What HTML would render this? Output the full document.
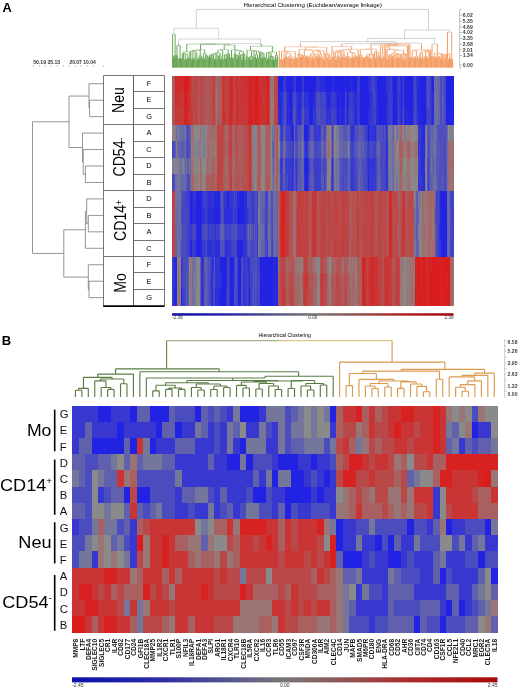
<!DOCTYPE html><html><head><meta charset="utf-8"><style>
html,body{margin:0;padding:0;background:#fff;width:520px;height:689px;overflow:hidden}
svg{position:absolute;left:0;top:0;display:block;filter:blur(0.3px)}
text{font-family:"Liberation Sans",sans-serif}
#ha rect{height:16.76px}
</style></head><body>
<svg width="520" height="689" viewBox="0 0 520 689">
<defs><filter id="bl" x="0" y="0" width="1" height="1"><feGaussianBlur stdDeviation="0.65 0.25"/></filter><filter id="bl2" x="0" y="0" width="1" height="1"><feGaussianBlur stdDeviation="0.6"/></filter><linearGradient id="cb" x1="0" x2="1" y1="0" y2="0"><stop offset="0" stop-color="#0e0eaa"/><stop offset="0.2" stop-color="#2a2aa8"/><stop offset="0.5" stop-color="#777777"/><stop offset="0.8" stop-color="#ac2a2a"/><stop offset="1" stop-color="#a80808"/></linearGradient></defs>
<text x="2.4" y="12.1" font-size="12.8" font-weight="bold" fill="#000">A</text>
<text x="1.8" y="344.7" font-size="13" font-weight="bold" fill="#000">B</text>
<text x="243.6" y="7.1" font-size="6.1" fill="#000" textLength="138.4" lengthAdjust="spacingAndGlyphs">Hierarchical Clustering (Euclidean/average linkage)</text>
<path d="M196.3 28.3V9.4H428.5 V30" stroke="#bbb" stroke-width="0.7" fill="none"/>
<path d="M200.93 44V43.6M261.4 44V43.6M200.93 43.6H261.4M178.53 44V39M260.5 43.6V39M178.53 39H260.5M173.85 34.4V28.3M218.7 39V28.3M173.85 28.3H218.7M341.87 44V43.64M397.33 44V43.64M341.87 43.64H397.33M369.6 43.64V43.14M421.61 44V43.14M369.6 43.14H421.61M300.42 44V41.5M395.61 43.14V41.5M300.42 41.5H395.61M432.04 44H437.36M367.7 41.5V38.5M434.7 44V38.5M367.7 38.5H434.7M404.6 38.5V30M449.58 32.3V30M404.6 30H449.58" stroke="#b8b8b8" stroke-width="0.6" fill="none"/>
<path d="M173.4 57.43H174.2M173.8 55.92H175M174.4 55.42H175.8M177.15 59.57H178M176.3 55.68H177.57M178.85 58.69H179.7M180.55 58.9H181.4M179.27 58.19H180.97M176.94 45.5H180.12M183.15 59.12H184M184.85 59.53H185.7M186.55 59.59H187.4M188.25 58.25H189.1M186.97 57.75H188.67M185.27 54.34H187.82M183.57 53.84H186.55M182.3 53.34H185.06M183.68 51.79H189.95M191.65 59.8H192.5M193.35 59H194.2M192.07 58.5H193.77M196.75 60.29H197.6M197.17 58.99H198.45M195.9 57.69H197.81M195.05 53.39H196.86M192.92 51.38H195.95M190.8 50.88H194.44M200.15 58.7H201M200.57 56.65H201.85M199.3 55.64H201.21M192.62 50.38H200.26M203.55 59.18H204.4M202.7 58.18H203.97M206.95 59.56H207.8M206.1 55.79H207.37M205.25 55.29H206.74M203.34 53.59H205.99M196.44 49.88H204.67M209.5 57.35H210.35M208.65 56.85H209.92M209.29 55.43H211.2M210.24 54.93H212.05M213.75 59.13H214.6M212.9 58.63H214.17M211.15 54.43H213.54M215.45 60.11H216.3M212.34 53.93H215.87M214.11 53.43H217.15M218 59.03H218.85M218.42 56.22H219.7M220.55 59.27H221.4M219.06 55.37H220.97M215.63 52.93H220.02M222.25 59.97H223.1M217.82 50.22H222.67M223.95 58.88H224.8M225.65 59.11H226.5M226.07 55.42H227.35M224.37 54.92H226.71M225.54 54.42H228.2M229.05 57.74H229.9M226.87 53.92H229.47M220.25 49.72H228.17M232.45 59.24H233.3M231.6 57.9H232.87M230.75 57.4H232.24M236.7 58.78H237.55M237.12 55.75H238.4M235.85 55.25H237.76M235 54.75H236.81M234.15 54.25H235.9M240.1 57.62H240.95M241.8 59.52H242.65M240.52 54.9H242.22M241.37 54.4H243.5M244.35 60.11H245.2M242.44 53.9H244.77M239.25 51.48H243.61M235.03 50.46H241.43M231.49 49.96H238.23M224.21 45.1H234.86M200.55 44.6H229.54M186.82 44.1H215.04M248 59.33H248.85M247.15 57.48H248.43M246.3 56.98H247.79M250.55 60.02H251.4M249.7 56.64H250.97M252.25 58.63H253.1M250.34 56.05H252.67M254.8 57.22H255.65M256.5 58.62H257.35M256.92 58.12H258.2M255.22 54.68H257.56M259.05 57.47H259.9M261.6 58.54H262.45M264.15 58.22H265M263.3 57.16H264.57M262.02 53.27H263.94M260.75 52.77H262.98M259.47 52.27H261.87M256.39 51.77H260.67M253.95 51.27H258.53M251.51 50.77H256.24M247.04 50.27H253.87M266.7 59.77H267.55M265.85 57.46H267.12M268.4 58.98H269.25M271.8 60.27H272.65M273.5 59.6H274.35M272.22 57.02H273.92M270.95 56.52H273.07M270.1 56.02H272.01M268.82 53.06H271.06M266.49 52.56H269.94M275.2 59.76H276.05M276.9 57.6H277.75M275.62 55.19H277.32M268.21 52.06H276.47M250.46 46.2H272.34M172.6 34.4H175.1" stroke="#43902a" stroke-width="0.6" stroke-opacity="0.6" fill="none"/>
<path d="M280.25 60.1H281.1M281.95 60.15H282.8M280.68 59.06H282.38M283.65 58.77H284.5M286.2 57.28H287.05M285.35 56.78H286.63M284.08 54.08H285.99M288.75 58.95H289.6M289.18 57.74H290.45M287.9 57.24H289.81M292.15 59.32H293M291.3 58.82H292.58M288.86 56.23H291.94M285.03 53.58H290.4M281.53 52.12H287.71M293.85 58.82H294.7M296.4 58.85H297.25M295.55 58.35H296.83M294.28 57.17H296.19M284.62 51.62H295.23M279.4 51.12H289.93M299.8 57.69H300.65M300.23 57.19H301.5M300.86 55.03H302.35M298.95 54.53H301.61M298.1 54.03H300.28M304.9 57.71H305.75M305.33 57.21H306.6M305.96 56.71H307.45M304.05 56.21H306.71M303.2 55.71H305.38M308.3 57.28H309.15M310 60.18H310.85M308.73 56.78H310.43M311.7 58.21H312.55M309.58 55.8H312.13M313.4 59.22H314.25M315.95 57.14H316.8M315.1 56.64H316.38M313.83 53.99H315.74M310.85 53.49H314.78M317.65 57.45H318.5M320.2 57.42H321.05M321.9 58.39H322.75M320.63 56.85H322.33M319.35 54.71H321.48M318.08 51.54H320.41M312.82 51.04H319.24M323.6 59.95H324.45M316.03 50.54H324.03M304.29 50.04H320.03M299.19 49.54H312.16M327 59.17H327.85M326.15 57.76H327.43M329.55 60.03H330.4M328.7 55.67H329.98M326.79 54.05H329.34M325.3 53.55H328.06M305.67 47.29H326.68M284.66 46.79H316.18M332.15 57.83H333M331.3 57.19H332.58M335.55 59.97H336.4M334.7 56.75H335.98M338.1 57.97H338.95M337.25 55.95H338.53M335.34 52.4H337.89M339.8 57.8H340.65M336.61 51.9H340.23M341.5 57.3H342.35M338.42 51.4H341.93M333.85 50.9H340.17M344.9 58.04H345.75M344.05 57.54H345.33M343.2 55.5H344.69M337.01 50.4H343.94M348.3 59.38H349.15M350 58.47H350.85M348.73 57.97H350.43M347.45 56.71H349.58M346.6 56.21H348.51M351.7 57.99H352.55M353.4 57.79H354.25M355.1 57.12H355.95M355.53 56.62H356.8M353.83 56.12H356.16M352.13 53.04H354.99M347.56 52.54H353.56M340.48 49.9H350.56M357.65 57.16H358.5M345.52 49.4H358.08M331.94 46.52H351.8M361.9 59.72H362.75M363.6 58.17H364.45M362.33 57.67H364.03M361.05 57.17H363.18M360.2 55.35H362.11M359.35 54.85H361.16M366.15 57.47H367M365.3 56.97H366.58M365.94 56.47H367.85M369.55 58.21H370.4M368.7 57.25H369.98M371.25 59.12H372.1M371.68 58.62H372.95M369.34 54.83H372.31M366.89 54.33H370.83M368.86 53.83H373.8M360.25 49.47H371.33M375.5 58.51H376.35M375.93 56.85H377.2M378.9 57.61H379.75M378.05 55.6H379.33M376.56 52.48H378.69M374.65 51.98H377.63M365.79 48.97H376.14M381.45 59.28H382.3M383.15 57.42H384M381.88 56.92H383.58M386.55 59.98H387.4M389.1 58.62H389.95M388.25 55.42H389.53M390.8 57.22H391.65M388.89 54.92H391.23M393.35 59.77H394.2M392.5 56.18H393.78M393.14 55.68H395.05M390.06 54.42H394.09M396.75 57.97H397.6M398.45 57.47H399.3M400.15 58.11H401M398.88 54.66H400.58M397.18 54.16H399.73M395.9 53.66H398.45M392.08 53.16H397.18M403.55 59.87H404.4M402.7 57.68H403.98M403.34 54.44H405.25M404.29 53.94H406.1M401.85 53.44H405.2M394.63 50.24H403.52M386.98 49.74H399.07M385.7 49.24H393.02M384.85 47.14H389.36M382.73 46.64H387.11M406.95 59.47H407.8M384.92 46.14H407.38M380.6 45.64H396.15M388.37 45.14H408.65M370.96 44.64H398.51M409.5 57.56H410.35M384.74 44.14H409.93M411.2 57.74H412.05M411.63 57.24H412.9M413.75 58.56H414.6M415.45 57.55H416.3M414.18 57.05H415.88M417.15 59.64H418M415.03 56.55H417.58M412.26 50.54H416.3M418.85 57.9H419.7M420.55 58.3H421.4M419.28 55.29H420.98M422.25 59.42H423.1M420.13 52.9H422.68M423.95 57.43H424.8M425.65 57.55H426.5M427.35 58.86H428.2M426.08 57.05H427.78M424.38 56.55H426.93M425.65 51.77H429.05M421.4 51.27H427.35M424.38 50.77H429.9M427.14 50.27H430.75M414.28 49.77H428.94M433 57.49H433.85M432.15 56.99H433.43M431.3 56.49H432.79M435.55 57.79H436.4M438.1 58.72H438.95M437.25 57.16H438.53M437.89 56.66H439.8M435.98 56.16H438.84M440.65 58.83H441.5M443.2 60.28H444.05M442.35 55.41H443.63M444.9 58.3H445.75M442.99 54.76H445.33M441.08 54.26H444.16M437.41 53.72H442.62M434.7 53.22H440.01M447.1 58.56H447.9M448.7 59.46H449.5M449.1 57.99H450.3M447.5 54.05H449.7M446.3 53.55H448.6M451.9 59.68H452.7M451.1 59.14H452.3M447.45 32.3H451.7" stroke="#f0843e" stroke-width="0.6" stroke-opacity="0.6" fill="none"/>
<path d="M173.4 67.6V57.43M174.2 67.6V57.43M173.8 57.43V55.92M175 67.6V55.92M174.4 55.92V55.42M175.8 67.6V55.42M172.6 67.6V44M175.1 55.42V44M177.15 67.6V59.57M178 67.6V59.57M176.3 67.6V55.68M177.57 59.57V55.68M178.85 67.6V58.69M179.7 67.6V58.69M180.55 67.6V58.9M181.4 67.6V58.9M179.27 58.69V58.19M180.97 58.9V58.19M176.94 55.68V45.5M180.12 58.19V45.5M183.15 67.6V59.12M184 67.6V59.12M184.85 67.6V59.53M185.7 67.6V59.53M186.55 67.6V59.59M187.4 67.6V59.59M188.25 67.6V58.25M189.1 67.6V58.25M186.97 59.59V57.75M188.67 58.25V57.75M185.27 59.53V54.34M187.82 57.75V54.34M183.57 59.12V53.84M186.55 54.34V53.84M182.3 67.6V53.34M185.06 53.84V53.34M183.68 53.34V51.79M189.95 67.6V51.79M191.65 67.6V59.8M192.5 67.6V59.8M193.35 67.6V59M194.2 67.6V59M192.07 59.8V58.5M193.77 59V58.5M196.75 67.6V60.29M197.6 67.6V60.29M197.17 60.29V58.99M198.45 67.6V58.99M195.9 67.6V57.69M197.81 58.99V57.69M195.05 67.6V53.39M196.86 57.69V53.39M192.92 58.5V51.38M195.95 53.39V51.38M190.8 67.6V50.88M194.44 51.38V50.88M200.15 67.6V58.7M201 67.6V58.7M200.57 58.7V56.65M201.85 67.6V56.65M199.3 67.6V55.64M201.21 56.65V55.64M192.62 50.88V50.38M200.26 55.64V50.38M203.55 67.6V59.18M204.4 67.6V59.18M202.7 67.6V58.18M203.97 59.18V58.18M206.95 67.6V59.56M207.8 67.6V59.56M206.1 67.6V55.79M207.37 59.56V55.79M205.25 67.6V55.29M206.74 55.79V55.29M203.34 58.18V53.59M205.99 55.29V53.59M196.44 50.38V49.88M204.67 53.59V49.88M209.5 67.6V57.35M210.35 67.6V57.35M208.65 67.6V56.85M209.92 57.35V56.85M209.29 56.85V55.43M211.2 67.6V55.43M210.24 55.43V54.93M212.05 67.6V54.93M213.75 67.6V59.13M214.6 67.6V59.13M212.9 67.6V58.63M214.17 59.13V58.63M211.15 54.93V54.43M213.54 58.63V54.43M215.45 67.6V60.11M216.3 67.6V60.11M212.34 54.43V53.93M215.87 60.11V53.93M214.11 53.93V53.43M217.15 67.6V53.43M218 67.6V59.03M218.85 67.6V59.03M218.42 59.03V56.22M219.7 67.6V56.22M220.55 67.6V59.27M221.4 67.6V59.27M219.06 56.22V55.37M220.97 59.27V55.37M215.63 53.43V52.93M220.02 55.37V52.93M222.25 67.6V59.97M223.1 67.6V59.97M217.82 52.93V50.22M222.67 59.97V50.22M223.95 67.6V58.88M224.8 67.6V58.88M225.65 67.6V59.11M226.5 67.6V59.11M226.07 59.11V55.42M227.35 67.6V55.42M224.37 58.88V54.92M226.71 55.42V54.92M225.54 54.92V54.42M228.2 67.6V54.42M229.05 67.6V57.74M229.9 67.6V57.74M226.87 54.42V53.92M229.47 57.74V53.92M220.25 50.22V49.72M228.17 53.92V49.72M232.45 67.6V59.24M233.3 67.6V59.24M231.6 67.6V57.9M232.87 59.24V57.9M230.75 67.6V57.4M232.24 57.9V57.4M236.7 67.6V58.78M237.55 67.6V58.78M237.12 58.78V55.75M238.4 67.6V55.75M235.85 67.6V55.25M237.76 55.75V55.25M235 67.6V54.75M236.81 55.25V54.75M234.15 67.6V54.25M235.9 54.75V54.25M240.1 67.6V57.62M240.95 67.6V57.62M241.8 67.6V59.52M242.65 67.6V59.52M240.52 57.62V54.9M242.22 59.52V54.9M241.37 54.9V54.4M243.5 67.6V54.4M244.35 67.6V60.11M245.2 67.6V60.11M242.44 54.4V53.9M244.77 60.11V53.9M239.25 67.6V51.48M243.61 53.9V51.48M235.03 54.25V50.46M241.43 51.48V50.46M231.49 57.4V49.96M238.23 50.46V49.96M224.21 49.72V45.1M234.86 49.96V45.1M200.55 49.88V44.6M229.54 45.1V44.6M186.82 51.79V44.1M215.04 44.6V44.1M248 67.6V59.33M248.85 67.6V59.33M247.15 67.6V57.48M248.43 59.33V57.48M246.3 67.6V56.98M247.79 57.48V56.98M250.55 67.6V60.02M251.4 67.6V60.02M249.7 67.6V56.64M250.97 60.02V56.64M252.25 67.6V58.63M253.1 67.6V58.63M250.34 56.64V56.05M252.67 58.63V56.05M254.8 67.6V57.22M255.65 67.6V57.22M256.5 67.6V58.62M257.35 67.6V58.62M256.92 58.62V58.12M258.2 67.6V58.12M255.22 57.22V54.68M257.56 58.12V54.68M259.05 67.6V57.47M259.9 67.6V57.47M261.6 67.6V58.54M262.45 67.6V58.54M264.15 67.6V58.22M265 67.6V58.22M263.3 67.6V57.16M264.57 58.22V57.16M262.02 58.54V53.27M263.94 57.16V53.27M260.75 67.6V52.77M262.98 53.27V52.77M259.47 57.47V52.27M261.87 52.77V52.27M256.39 54.68V51.77M260.67 52.27V51.77M253.95 67.6V51.27M258.53 51.77V51.27M251.51 56.05V50.77M256.24 51.27V50.77M247.04 56.98V50.27M253.87 50.77V50.27M266.7 67.6V59.77M267.55 67.6V59.77M265.85 67.6V57.46M267.12 59.77V57.46M268.4 67.6V58.98M269.25 67.6V58.98M271.8 67.6V60.27M272.65 67.6V60.27M273.5 67.6V59.6M274.35 67.6V59.6M272.22 60.27V57.02M273.92 59.6V57.02M270.95 67.6V56.52M273.07 57.02V56.52M270.1 67.6V56.02M272.01 56.52V56.02M268.82 58.98V53.06M271.06 56.02V53.06M266.49 57.46V52.56M269.94 53.06V52.56M275.2 67.6V59.76M276.05 67.6V59.76M276.9 67.6V57.6M277.75 67.6V57.6M275.62 59.76V55.19M277.32 57.6V55.19M268.21 52.56V52.06M276.47 55.19V52.06M250.46 50.27V46.2M272.34 52.06V46.2M200.93 44.1V44M261.4 46.2V44M178.53 45.5V44M172.6 44V34.4M175.1 44V34.4" stroke="#43902a" stroke-width="0.8" fill="none"/>
<path d="M280.25 67.6V60.1M281.1 67.6V60.1M281.95 67.6V60.15M282.8 67.6V60.15M280.68 60.1V59.06M282.38 60.15V59.06M283.65 67.6V58.77M284.5 67.6V58.77M286.2 67.6V57.28M287.05 67.6V57.28M285.35 67.6V56.78M286.63 57.28V56.78M284.08 58.77V54.08M285.99 56.78V54.08M288.75 67.6V58.95M289.6 67.6V58.95M289.18 58.95V57.74M290.45 67.6V57.74M287.9 67.6V57.24M289.81 57.74V57.24M292.15 67.6V59.32M293 67.6V59.32M291.3 67.6V58.82M292.58 59.32V58.82M288.86 57.24V56.23M291.94 58.82V56.23M285.03 54.08V53.58M290.4 56.23V53.58M281.53 59.06V52.12M287.71 53.58V52.12M293.85 67.6V58.82M294.7 67.6V58.82M296.4 67.6V58.85M297.25 67.6V58.85M295.55 67.6V58.35M296.83 58.85V58.35M294.28 58.82V57.17M296.19 58.35V57.17M284.62 52.12V51.62M295.23 57.17V51.62M279.4 67.6V51.12M289.93 51.62V51.12M299.8 67.6V57.69M300.65 67.6V57.69M300.23 57.69V57.19M301.5 67.6V57.19M300.86 57.19V55.03M302.35 67.6V55.03M298.95 67.6V54.53M301.61 55.03V54.53M298.1 67.6V54.03M300.28 54.53V54.03M304.9 67.6V57.71M305.75 67.6V57.71M305.33 57.71V57.21M306.6 67.6V57.21M305.96 57.21V56.71M307.45 67.6V56.71M304.05 67.6V56.21M306.71 56.71V56.21M303.2 67.6V55.71M305.38 56.21V55.71M308.3 67.6V57.28M309.15 67.6V57.28M310 67.6V60.18M310.85 67.6V60.18M308.73 57.28V56.78M310.43 60.18V56.78M311.7 67.6V58.21M312.55 67.6V58.21M309.58 56.78V55.8M312.13 58.21V55.8M313.4 67.6V59.22M314.25 67.6V59.22M315.95 67.6V57.14M316.8 67.6V57.14M315.1 67.6V56.64M316.38 57.14V56.64M313.83 59.22V53.99M315.74 56.64V53.99M310.85 55.8V53.49M314.78 53.99V53.49M317.65 67.6V57.45M318.5 67.6V57.45M320.2 67.6V57.42M321.05 67.6V57.42M321.9 67.6V58.39M322.75 67.6V58.39M320.63 57.42V56.85M322.33 58.39V56.85M319.35 67.6V54.71M321.48 56.85V54.71M318.08 57.45V51.54M320.41 54.71V51.54M312.82 53.49V51.04M319.24 51.54V51.04M323.6 67.6V59.95M324.45 67.6V59.95M316.03 51.04V50.54M324.03 59.95V50.54M304.29 55.71V50.04M320.03 50.54V50.04M299.19 54.03V49.54M312.16 50.04V49.54M327 67.6V59.17M327.85 67.6V59.17M326.15 67.6V57.76M327.43 59.17V57.76M329.55 67.6V60.03M330.4 67.6V60.03M328.7 67.6V55.67M329.98 60.03V55.67M326.79 57.76V54.05M329.34 55.67V54.05M325.3 67.6V53.55M328.06 54.05V53.55M305.67 49.54V47.29M326.68 53.55V47.29M284.66 51.12V46.79M316.18 47.29V46.79M332.15 67.6V57.83M333 67.6V57.83M331.3 67.6V57.19M332.58 57.83V57.19M335.55 67.6V59.97M336.4 67.6V59.97M334.7 67.6V56.75M335.98 59.97V56.75M338.1 67.6V57.97M338.95 67.6V57.97M337.25 67.6V55.95M338.53 57.97V55.95M335.34 56.75V52.4M337.89 55.95V52.4M339.8 67.6V57.8M340.65 67.6V57.8M336.61 52.4V51.9M340.23 57.8V51.9M341.5 67.6V57.3M342.35 67.6V57.3M338.42 51.9V51.4M341.93 57.3V51.4M333.85 67.6V50.9M340.17 51.4V50.9M344.9 67.6V58.04M345.75 67.6V58.04M344.05 67.6V57.54M345.33 58.04V57.54M343.2 67.6V55.5M344.69 57.54V55.5M337.01 50.9V50.4M343.94 55.5V50.4M348.3 67.6V59.38M349.15 67.6V59.38M350 67.6V58.47M350.85 67.6V58.47M348.73 59.38V57.97M350.43 58.47V57.97M347.45 67.6V56.71M349.58 57.97V56.71M346.6 67.6V56.21M348.51 56.71V56.21M351.7 67.6V57.99M352.55 67.6V57.99M353.4 67.6V57.79M354.25 67.6V57.79M355.1 67.6V57.12M355.95 67.6V57.12M355.53 57.12V56.62M356.8 67.6V56.62M353.83 57.79V56.12M356.16 56.62V56.12M352.13 57.99V53.04M354.99 56.12V53.04M347.56 56.21V52.54M353.56 53.04V52.54M340.48 50.4V49.9M350.56 52.54V49.9M357.65 67.6V57.16M358.5 67.6V57.16M345.52 49.9V49.4M358.08 57.16V49.4M331.94 57.19V46.52M351.8 49.4V46.52M361.9 67.6V59.72M362.75 67.6V59.72M363.6 67.6V58.17M364.45 67.6V58.17M362.33 59.72V57.67M364.03 58.17V57.67M361.05 67.6V57.17M363.18 57.67V57.17M360.2 67.6V55.35M362.11 57.17V55.35M359.35 67.6V54.85M361.16 55.35V54.85M366.15 67.6V57.47M367 67.6V57.47M365.3 67.6V56.97M366.58 57.47V56.97M365.94 56.97V56.47M367.85 67.6V56.47M369.55 67.6V58.21M370.4 67.6V58.21M368.7 67.6V57.25M369.98 58.21V57.25M371.25 67.6V59.12M372.1 67.6V59.12M371.68 59.12V58.62M372.95 67.6V58.62M369.34 57.25V54.83M372.31 58.62V54.83M366.89 56.47V54.33M370.83 54.83V54.33M368.86 54.33V53.83M373.8 67.6V53.83M360.25 54.85V49.47M371.33 53.83V49.47M375.5 67.6V58.51M376.35 67.6V58.51M375.93 58.51V56.85M377.2 67.6V56.85M378.9 67.6V57.61M379.75 67.6V57.61M378.05 67.6V55.6M379.33 57.61V55.6M376.56 56.85V52.48M378.69 55.6V52.48M374.65 67.6V51.98M377.63 52.48V51.98M365.79 49.47V48.97M376.14 51.98V48.97M381.45 67.6V59.28M382.3 67.6V59.28M383.15 67.6V57.42M384 67.6V57.42M381.88 59.28V56.92M383.58 57.42V56.92M386.55 67.6V59.98M387.4 67.6V59.98M389.1 67.6V58.62M389.95 67.6V58.62M388.25 67.6V55.42M389.53 58.62V55.42M390.8 67.6V57.22M391.65 67.6V57.22M388.89 55.42V54.92M391.23 57.22V54.92M393.35 67.6V59.77M394.2 67.6V59.77M392.5 67.6V56.18M393.78 59.77V56.18M393.14 56.18V55.68M395.05 67.6V55.68M390.06 54.92V54.42M394.09 55.68V54.42M396.75 67.6V57.97M397.6 67.6V57.97M398.45 67.6V57.47M399.3 67.6V57.47M400.15 67.6V58.11M401 67.6V58.11M398.88 57.47V54.66M400.58 58.11V54.66M397.18 57.97V54.16M399.73 54.66V54.16M395.9 67.6V53.66M398.45 54.16V53.66M392.08 54.42V53.16M397.18 53.66V53.16M403.55 67.6V59.87M404.4 67.6V59.87M402.7 67.6V57.68M403.98 59.87V57.68M403.34 57.68V54.44M405.25 67.6V54.44M404.29 54.44V53.94M406.1 67.6V53.94M401.85 67.6V53.44M405.2 53.94V53.44M394.63 53.16V50.24M403.52 53.44V50.24M386.98 59.98V49.74M399.07 50.24V49.74M385.7 67.6V49.24M393.02 49.74V49.24M384.85 67.6V47.14M389.36 49.24V47.14M382.73 56.92V46.64M387.11 47.14V46.64M406.95 67.6V59.47M407.8 67.6V59.47M384.92 46.64V46.14M407.38 59.47V46.14M380.6 67.6V45.64M396.15 46.14V45.64M388.37 45.64V45.14M408.65 67.6V45.14M370.96 48.97V44.64M398.51 45.14V44.64M409.5 67.6V57.56M410.35 67.6V57.56M384.74 44.64V44.14M409.93 57.56V44.14M341.87 46.52V44M397.33 44.14V44M411.2 67.6V57.74M412.05 67.6V57.74M411.63 57.74V57.24M412.9 67.6V57.24M413.75 67.6V58.56M414.6 67.6V58.56M415.45 67.6V57.55M416.3 67.6V57.55M414.18 58.56V57.05M415.88 57.55V57.05M417.15 67.6V59.64M418 67.6V59.64M415.03 57.05V56.55M417.58 59.64V56.55M412.26 57.24V50.54M416.3 56.55V50.54M418.85 67.6V57.9M419.7 67.6V57.9M420.55 67.6V58.3M421.4 67.6V58.3M419.28 57.9V55.29M420.98 58.3V55.29M422.25 67.6V59.42M423.1 67.6V59.42M420.13 55.29V52.9M422.68 59.42V52.9M423.95 67.6V57.43M424.8 67.6V57.43M425.65 67.6V57.55M426.5 67.6V57.55M427.35 67.6V58.86M428.2 67.6V58.86M426.08 57.55V57.05M427.78 58.86V57.05M424.38 57.43V56.55M426.93 57.05V56.55M425.65 56.55V51.77M429.05 67.6V51.77M421.4 52.9V51.27M427.35 51.77V51.27M424.38 51.27V50.77M429.9 67.6V50.77M427.14 50.77V50.27M430.75 67.6V50.27M414.28 50.54V49.77M428.94 50.27V49.77M421.61 49.77V44M300.42 46.79V44M433 67.6V57.49M433.85 67.6V57.49M432.15 67.6V56.99M433.43 57.49V56.99M431.3 67.6V56.49M432.79 56.99V56.49M435.55 67.6V57.79M436.4 67.6V57.79M438.1 67.6V58.72M438.95 67.6V58.72M437.25 67.6V57.16M438.53 58.72V57.16M437.89 57.16V56.66M439.8 67.6V56.66M435.98 57.79V56.16M438.84 56.66V56.16M440.65 67.6V58.83M441.5 67.6V58.83M443.2 67.6V60.28M444.05 67.6V60.28M442.35 67.6V55.41M443.63 60.28V55.41M444.9 67.6V58.3M445.75 67.6V58.3M442.99 55.41V54.76M445.33 58.3V54.76M441.08 58.83V54.26M444.16 54.76V54.26M437.41 56.16V53.72M442.62 54.26V53.72M434.7 67.6V53.22M440.01 53.72V53.22M432.04 56.49V44M437.36 53.22V44M447.1 67.6V58.56M447.9 67.6V58.56M448.7 67.6V59.46M449.5 67.6V59.46M449.1 59.46V57.99M450.3 67.6V57.99M447.5 58.56V54.05M449.7 57.99V54.05M446.3 67.6V53.55M448.6 54.05V53.55M451.9 67.6V59.68M452.7 67.6V59.68M451.1 67.6V59.14M452.3 59.68V59.14M447.45 53.55V44M451.7 59.14V44M447.45 44V32.3M451.7 44V32.3" stroke="#f0843e" stroke-width="0.8" fill="none"/>
<path d="M459.7 9.5V67.7M459.7 9.5H461.5M459.7 67.7H461.5M459.7 15.2H462.3M459.7 21.1H462.3M459.7 26.9H462.3M459.7 32.5H462.3M459.7 38.4H462.3M459.7 44.2H462.3M459.7 49.8H462.3M459.7 55.6H462.3M459.7 65H462.3" stroke="#999" stroke-width="0.6" fill="none"/><text x="462.8" y="17" font-size="5.1" font-weight="bold" fill="#3a3a3a">6.02</text><text x="462.8" y="22.9" font-size="5.1" font-weight="bold" fill="#3a3a3a">5.35</text><text x="462.8" y="28.7" font-size="5.1" font-weight="bold" fill="#3a3a3a">4.69</text><text x="462.8" y="34.3" font-size="5.1" font-weight="bold" fill="#3a3a3a">4.02</text><text x="462.8" y="40.2" font-size="5.1" font-weight="bold" fill="#3a3a3a">3.35</text><text x="462.8" y="46" font-size="5.1" font-weight="bold" fill="#3a3a3a">2.68</text><text x="462.8" y="51.6" font-size="5.1" font-weight="bold" fill="#3a3a3a">2.01</text><text x="462.8" y="57.4" font-size="5.1" font-weight="bold" fill="#3a3a3a">1.34</text><text x="462.8" y="66.8" font-size="5.1" font-weight="bold" fill="#3a3a3a">0.00</text>
<text x="33.2" y="63.6" font-size="5.3" fill="#333" font-weight="bold" textLength="27" lengthAdjust="spacingAndGlyphs">50.19 35.13</text>
<text x="69.4" y="63.6" font-size="5.3" fill="#333" font-weight="bold" textLength="26.3" lengthAdjust="spacingAndGlyphs">20.07 10.04</text>
<path d="M33.4 65V67M39.5 65V67M45.2 65V67M51 65V67M57.2 65V67M63.4 65V67M69.2 65V67M75.4 65V67M81 65V67M87.2 65V67M93.4 65V67M103.4 65V67" stroke="#aaa" stroke-width="0.6"/>
<path d="M89 83.73H103.7M89.6 100.19H103.7M89.6 116.64H103.7M89.6 100.19V116.64M89 83.73V108.41M82.5 133.1H103.7M83.2 149.56H103.7M85.4 166.01H103.7M85.4 182.47H103.7M85.4 166.01V182.47M83.2 174.24H85.4M83.2 149.56V174.24M82.5 161.9H83.2M82.5 133.1V161.9M69 96.07H89M69 147.5H82.5M69 96.07V147.5M86.7 198.93H103.7M88.3 215.39H103.7M88.3 231.84H103.7M88.3 215.39V231.84M86.7 223.61H88.3M86.7 198.93V223.61M85.4 248.3H103.7M85.4 211.27H86.7M85.4 211.27V248.3M88.3 264.76H103.7M89 281.21H103.7M89 297.67H103.7M89 281.21V297.67M88.3 289.44H89M88.3 264.76V289.44M63.8 229.79H85.4M63.8 277.1H88.3M63.8 229.79V277.1M32.5 121.79H69M32.5 253.44H63.8M32.5 121.79V253.44" stroke="#7a7a7a" stroke-width="0.8" fill="none"/>
<path d="M103.5 75.5V305.8M164.5 75.5V305.8M103.5 75.5H164.5" stroke="#666" stroke-width="0.9" fill="none"/><path d="M133.5 75.5V305.8" stroke="#555" stroke-width="0.95"/><path d="M133.5 91.5H164.5" stroke="#666" stroke-width="0.9"/><path d="M133.5 108.5H164.5" stroke="#666" stroke-width="0.9"/><path d="M103.5 124.5H164.5" stroke="#666" stroke-width="0.9"/><path d="M133.5 141.5H164.5" stroke="#666" stroke-width="0.9"/><path d="M133.5 157.5H164.5" stroke="#666" stroke-width="0.9"/><path d="M133.5 174.5H164.5" stroke="#666" stroke-width="0.9"/><path d="M103.5 190.5H164.5" stroke="#666" stroke-width="0.9"/><path d="M133.5 207.5H164.5" stroke="#666" stroke-width="0.9"/><path d="M133.5 223.5H164.5" stroke="#666" stroke-width="0.9"/><path d="M133.5 240.5H164.5" stroke="#666" stroke-width="0.9"/><path d="M103.5 256.5H164.5" stroke="#666" stroke-width="0.9"/><path d="M133.5 272.5H164.5" stroke="#666" stroke-width="0.9"/><path d="M133.5 289.5H164.5" stroke="#666" stroke-width="0.9"/><path d="M103.2 306.2H164.6" stroke="#000" stroke-width="1.8"/><text x="149" y="86.03" font-size="7.4" fill="#000" text-anchor="middle">F</text><text x="149" y="102.49" font-size="7.4" fill="#000" text-anchor="middle">E</text><text x="149" y="118.94" font-size="7.4" fill="#000" text-anchor="middle">G</text><text x="149" y="135.4" font-size="7.4" fill="#000" text-anchor="middle">A</text><text x="149" y="151.86" font-size="7.4" fill="#000" text-anchor="middle">C</text><text x="149" y="168.31" font-size="7.4" fill="#000" text-anchor="middle">D</text><text x="149" y="184.77" font-size="7.4" fill="#000" text-anchor="middle">B</text><text x="149" y="201.23" font-size="7.4" fill="#000" text-anchor="middle">D</text><text x="149" y="217.69" font-size="7.4" fill="#000" text-anchor="middle">B</text><text x="149" y="234.14" font-size="7.4" fill="#000" text-anchor="middle">A</text><text x="149" y="250.6" font-size="7.4" fill="#000" text-anchor="middle">C</text><text x="149" y="267.06" font-size="7.4" fill="#000" text-anchor="middle">F</text><text x="149" y="283.51" font-size="7.4" fill="#000" text-anchor="middle">E</text><text x="149" y="299.97" font-size="7.4" fill="#000" text-anchor="middle">G</text><text transform="translate(123.6 113) rotate(-90) scale(1 1.11)" font-size="14.1" fill="#000">Neu</text><text transform="translate(125.3 176.5) rotate(-90) scale(1 1.11)" font-size="14.1" fill="#000">CD54<tspan font-size="9" dy="-1.2">-</tspan></text><text transform="translate(125.6 240.9) rotate(-90) scale(1 1.11)" font-size="14.1" fill="#000">CD14<tspan font-size="9" dy="-3.2">+</tspan></text><text transform="translate(125.6 292.7) rotate(-90) scale(1 1.11)" font-size="14.1" fill="#000">Mo</text>
<g id="ha"><g filter="url(#bl)" shape-rendering="crispEdges">
<g transform="translate(0 75.5)">
<rect x="172.2" width="1.1" fill="#ad5a5a"/>
<rect x="173" width="1.3" fill="#b05656"/>
<rect x="174" width="1.3" fill="#aa5f5f"/>
<rect x="175" width="1.3" fill="#d62323"/>
<rect x="176" width="1.3" fill="#d22929"/>
<rect x="177" width="1.3" fill="#ce2e2e"/>
<rect x="178" width="1.3" fill="#d32828"/>
<rect x="179" width="1.3" fill="#d02b2b"/>
<rect x="180" width="1.3" fill="#d02c2c"/>
<rect x="181" width="1.3" fill="#ce2e2e"/>
<rect x="182" width="1.3" fill="#d02c2c"/>
<rect x="183" width="1.3" fill="#cf2d2d"/>
<rect x="184" width="4.3" fill="#da1e1e"/>
<rect x="188" width="1.3" fill="#d42626"/>
<rect x="189" width="1.3" fill="#d82121"/>
<rect x="190" width="1.3" fill="#c73838"/>
<rect x="191" width="1.3" fill="#c23e3e"/>
<rect x="192" width="1.3" fill="#b94b4b"/>
<rect x="193" width="1.3" fill="#b84b4b"/>
<rect x="194" width="1.3" fill="#b84c4c"/>
<rect x="195" width="1.3" fill="#bf4242"/>
<rect x="196" width="1.3" fill="#bf4343"/>
<rect x="197" width="1.3" fill="#b84c4c"/>
<rect x="198" width="1.3" fill="#b45252"/>
<rect x="199" width="1.3" fill="#b55050"/>
<rect x="200" width="1.3" fill="#b94b4b"/>
<rect x="201" width="1.3" fill="#b94a4a"/>
<rect x="202" width="1.3" fill="#bd4545"/>
<rect x="203" width="1.3" fill="#b74d4d"/>
<rect x="204" width="1.3" fill="#b25454"/>
<rect x="205" width="1.3" fill="#b35353"/>
<rect x="206" width="1.3" fill="#af5858"/>
<rect x="207" width="1.3" fill="#ae5a5a"/>
<rect x="208" width="1.3" fill="#af5757"/>
<rect x="209" width="1.3" fill="#b05656"/>
<rect x="210" width="1.3" fill="#b64e4e"/>
<rect x="211" width="1.3" fill="#b05757"/>
<rect x="212" width="1.3" fill="#b94b4b"/>
<rect x="213" width="1.3" fill="#c23f3f"/>
<rect x="214" width="1.3" fill="#c33d3d"/>
<rect x="215" width="1.3" fill="#aa5f5f"/>
<rect x="216" width="1.3" fill="#9f6d6d"/>
<rect x="217" width="1.3" fill="#a46666"/>
<rect x="218" width="1.3" fill="#a96161"/>
<rect x="219" width="1.3" fill="#ae5a5a"/>
<rect x="220" width="1.3" fill="#aa5e5e"/>
<rect x="221" width="1.3" fill="#ae5a5a"/>
<rect x="222" width="1.3" fill="#cb3333"/>
<rect x="223" width="1.3" fill="#c53b3b"/>
<rect x="224" width="1.3" fill="#c23e3e"/>
<rect x="225" width="1.3" fill="#c43c3c"/>
<rect x="226" width="1.3" fill="#c14040"/>
<rect x="227" width="1.3" fill="#bc4646"/>
<rect x="228" width="1.3" fill="#c14040"/>
<rect x="229" width="1.3" fill="#cd2f2f"/>
<rect x="230" width="1.3" fill="#d02b2b"/>
<rect x="231" width="1.3" fill="#d42727"/>
<rect x="232" width="1.3" fill="#cd2f2f"/>
<rect x="233" width="1.3" fill="#be4444"/>
<rect x="234" width="1.3" fill="#bf4343"/>
<rect x="235" width="1.3" fill="#c23f3f"/>
<rect x="236" width="1.3" fill="#cf2d2d"/>
<rect x="237" width="1.3" fill="#cc3131"/>
<rect x="238" width="1.3" fill="#c43c3c"/>
<rect x="239" width="1.3" fill="#c53b3b"/>
<rect x="240" width="1.3" fill="#c73838"/>
<rect x="241" width="1.3" fill="#c93535"/>
<rect x="242" width="1.3" fill="#c63939"/>
<rect x="243" width="2.3" fill="#c93535"/>
<rect x="245" width="1.3" fill="#cd2f2f"/>
<rect x="246" width="1.3" fill="#c53a3a"/>
<rect x="247" width="1.3" fill="#cd2f2f"/>
<rect x="248" width="1.3" fill="#d42626"/>
<rect x="249" width="1.3" fill="#d82121"/>
<rect x="250" width="1.3" fill="#d42626"/>
<rect x="251" width="1.3" fill="#d52424"/>
<rect x="252" width="1.3" fill="#d52525"/>
<rect x="253" width="1.3" fill="#d02c2c"/>
<rect x="254" width="1.3" fill="#cf2d2d"/>
<rect x="255" width="3.3" fill="#da1e1e"/>
<rect x="258" width="1.3" fill="#ce2e2e"/>
<rect x="259" width="1.3" fill="#cf2d2d"/>
<rect x="260" width="1.3" fill="#cc3131"/>
<rect x="261" width="1.3" fill="#c73838"/>
<rect x="262" width="1.3" fill="#ca3434"/>
<rect x="263" width="1.3" fill="#d12b2b"/>
<rect x="264" width="1.3" fill="#ce2f2f"/>
<rect x="265" width="1.3" fill="#c93535"/>
<rect x="266" width="1.3" fill="#d32828"/>
<rect x="267" width="1.3" fill="#da1e1e"/>
<rect x="268" width="1.3" fill="#d42626"/>
<rect x="269" width="1.3" fill="#c43b3b"/>
<rect x="270" width="2.3" fill="#977878"/>
<rect x="272" width="1.3" fill="#997676"/>
<rect x="273" width="1.3" fill="#9a7575"/>
<rect x="274" width="1.3" fill="#ba4949"/>
<rect x="275" width="1.3" fill="#bb4848"/>
<rect x="276" width="1.3" fill="#bf4343"/>
<rect x="277" width="1.3" fill="#bb4747"/>
<rect x="278" width="5.3" fill="#2022e4"/>
<rect x="283" width="1.3" fill="#3738d1"/>
<rect x="284" width="1.3" fill="#3b3dcd"/>
<rect x="285" width="1.3" fill="#3334d4"/>
<rect x="286" width="1.3" fill="#2d2fd9"/>
<rect x="287" width="6.3" fill="#2022e4"/>
<rect x="293" width="1.3" fill="#3032d6"/>
<rect x="294" width="1.3" fill="#3738d1"/>
<rect x="295" width="1.3" fill="#3637d2"/>
<rect x="296" width="6.3" fill="#2022e4"/>
<rect x="302" width="1.3" fill="#3c3dcc"/>
<rect x="303" width="1.3" fill="#393acf"/>
<rect x="304" width="1.3" fill="#2224e2"/>
<rect x="305" width="1.3" fill="#2123e3"/>
<rect x="306" width="10.3" fill="#2022e4"/>
<rect x="316" width="1.3" fill="#3739d0"/>
<rect x="317" width="1.3" fill="#3839d0"/>
<rect x="318" width="1.3" fill="#3637d2"/>
<rect x="319" width="1.3" fill="#3233d5"/>
<rect x="320" width="1.3" fill="#2729de"/>
<rect x="321" width="1.3" fill="#2a2cdc"/>
<rect x="322" width="1.3" fill="#2e30d8"/>
<rect x="323" width="1.3" fill="#292add"/>
<rect x="324" width="1.3" fill="#292bdc"/>
<rect x="325" width="1.3" fill="#2527e0"/>
<rect x="326" width="6.3" fill="#2022e4"/>
<rect x="332" width="1.3" fill="#282add"/>
<rect x="333" width="1.3" fill="#2e30d8"/>
<rect x="334" width="1.3" fill="#2325e2"/>
<rect x="335" width="1.3" fill="#2123e4"/>
<rect x="336" width="9.3" fill="#2022e4"/>
<rect x="345" width="1.3" fill="#2c2eda"/>
<rect x="346" width="3.3" fill="#2022e4"/>
<rect x="349" width="1.3" fill="#2224e3"/>
<rect x="350" width="1.3" fill="#2c2eda"/>
<rect x="351" width="1.3" fill="#2829de"/>
<rect x="352" width="1.3" fill="#2628df"/>
<rect x="353" width="1.3" fill="#2325e2"/>
<rect x="354" width="1.3" fill="#2022e4"/>
<rect x="355" width="1.3" fill="#2123e3"/>
<rect x="356" width="1.3" fill="#2224e3"/>
<rect x="357" width="1.3" fill="#3637d2"/>
<rect x="358" width="1.3" fill="#4142c8"/>
<rect x="359" width="1.3" fill="#3638d1"/>
<rect x="360" width="8.3" fill="#2022e4"/>
<rect x="368" width="1.3" fill="#292add"/>
<rect x="369" width="1.3" fill="#3032d6"/>
<rect x="370" width="1.3" fill="#2f30d7"/>
<rect x="371" width="1.3" fill="#3537d2"/>
<rect x="372" width="1.3" fill="#4647c4"/>
<rect x="373" width="1.3" fill="#4345c6"/>
<rect x="374" width="1.3" fill="#4142c8"/>
<rect x="375" width="1.3" fill="#3436d3"/>
<rect x="376" width="1.3" fill="#3335d4"/>
<rect x="377" width="6.3" fill="#2022e4"/>
<rect x="383" width="1.3" fill="#2426e0"/>
<rect x="384" width="2.3" fill="#2022e4"/>
<rect x="386" width="1.3" fill="#3537d2"/>
<rect x="387" width="1.3" fill="#3334d4"/>
<rect x="388" width="1.3" fill="#3032d6"/>
<rect x="389" width="1.3" fill="#3537d2"/>
<rect x="390" width="1.3" fill="#3d3fcb"/>
<rect x="391" width="1.3" fill="#3d3ecc"/>
<rect x="392" width="1.3" fill="#2b2dda"/>
<rect x="393" width="3.3" fill="#2022e4"/>
<rect x="396" width="1.3" fill="#2123e3"/>
<rect x="397" width="1.3" fill="#393bcf"/>
<rect x="398" width="1.3" fill="#393bce"/>
<rect x="399" width="1.3" fill="#3e40ca"/>
<rect x="400" width="1.3" fill="#3032d7"/>
<rect x="401" width="1.3" fill="#2022e4"/>
<rect x="402" width="1.3" fill="#383ad0"/>
<rect x="403" width="1.3" fill="#3a3cce"/>
<rect x="404" width="1.3" fill="#2627df"/>
<rect x="405" width="1.3" fill="#2729de"/>
<rect x="406" width="1.3" fill="#2123e3"/>
<rect x="407" width="1.3" fill="#2325e1"/>
<rect x="408" width="1.3" fill="#2426e1"/>
<rect x="409" width="4.3" fill="#2022e4"/>
<rect x="413" width="1.3" fill="#3839d0"/>
<rect x="414" width="1.3" fill="#494ac2"/>
<rect x="415" width="1.3" fill="#4546c5"/>
<rect x="416" width="1.3" fill="#383ad0"/>
<rect x="417" width="1.3" fill="#292add"/>
<rect x="418" width="1.3" fill="#2c2dda"/>
<rect x="419" width="1.3" fill="#2a2cdc"/>
<rect x="420" width="6.3" fill="#2022e4"/>
<rect x="426" width="1.3" fill="#3637d2"/>
<rect x="427" width="1.3" fill="#5455b8"/>
<rect x="428" width="1.3" fill="#4748c3"/>
<rect x="429" width="1.3" fill="#4e4fbd"/>
<rect x="430" width="1.3" fill="#3a3bce"/>
<rect x="431" width="1.3" fill="#2f30d8"/>
<rect x="432" width="1.3" fill="#2123e3"/>
<rect x="433" width="1.3" fill="#2628df"/>
<rect x="434" width="1.3" fill="#6e6fa1"/>
<rect x="435" width="1.3" fill="#6566a9"/>
<rect x="436" width="1.3" fill="#6e6ea2"/>
<rect x="437" width="1.3" fill="#6a6ba5"/>
<rect x="438" width="1.3" fill="#6363ab"/>
<rect x="439" width="1.3" fill="#6465aa"/>
<rect x="440" width="1.3" fill="#4546c5"/>
<rect x="441" width="1.3" fill="#4e4fbd"/>
<rect x="442" width="1.3" fill="#5b5cb2"/>
<rect x="443" width="1.3" fill="#4e4fbd"/>
<rect x="444" width="1.3" fill="#494ac1"/>
<rect x="445" width="1.3" fill="#4344c6"/>
<rect x="446" width="7.3" fill="#2022e4"/>
<rect x="453" width="0.5" fill="#2325e2"/>
</g>
<g transform="translate(0 91.96)">
<rect x="172.2" width="1.1" fill="#ab5d5d"/>
<rect x="173" width="1.3" fill="#b05656"/>
<rect x="174" width="1.3" fill="#ac5d5d"/>
<rect x="175" width="1.3" fill="#cf2c2c"/>
<rect x="176" width="1.3" fill="#ca3333"/>
<rect x="177" width="1.3" fill="#c83636"/>
<rect x="178" width="1.3" fill="#cb3333"/>
<rect x="179" width="1.3" fill="#c83636"/>
<rect x="180" width="1.3" fill="#c93535"/>
<rect x="181" width="1.3" fill="#c83737"/>
<rect x="182" width="1.3" fill="#c43b3b"/>
<rect x="183" width="1.3" fill="#c83636"/>
<rect x="184" width="1.3" fill="#d62323"/>
<rect x="185" width="1.3" fill="#da1e1e"/>
<rect x="186" width="1.3" fill="#d91f1f"/>
<rect x="187" width="1.3" fill="#d72222"/>
<rect x="188" width="1.3" fill="#ca3434"/>
<rect x="189" width="1.3" fill="#d12a2a"/>
<rect x="190" width="1.3" fill="#c43c3c"/>
<rect x="191" width="1.3" fill="#bf4343"/>
<rect x="192" width="1.3" fill="#ba4949"/>
<rect x="193" width="1.3" fill="#b94a4a"/>
<rect x="194" width="1.3" fill="#b54f4f"/>
<rect x="195" width="1.3" fill="#bd4545"/>
<rect x="196" width="1.3" fill="#bd4646"/>
<rect x="197" width="1.3" fill="#b25454"/>
<rect x="198" width="1.3" fill="#b35353"/>
<rect x="199" width="1.3" fill="#b25454"/>
<rect x="200" width="1.3" fill="#b94b4b"/>
<rect x="201" width="1.3" fill="#be4444"/>
<rect x="202" width="1.3" fill="#b94b4b"/>
<rect x="203" width="1.3" fill="#b64f4f"/>
<rect x="204" width="1.3" fill="#b05656"/>
<rect x="205" width="1.3" fill="#ae5959"/>
<rect x="206" width="1.3" fill="#a96060"/>
<rect x="207" width="1.3" fill="#b05656"/>
<rect x="208" width="1.3" fill="#ad5b5b"/>
<rect x="209" width="1.3" fill="#b25454"/>
<rect x="210" width="1.3" fill="#b35353"/>
<rect x="211" width="1.3" fill="#b35252"/>
<rect x="212" width="1.3" fill="#b74e4e"/>
<rect x="213" width="1.3" fill="#c53a3a"/>
<rect x="214" width="1.3" fill="#be4343"/>
<rect x="215" width="1.3" fill="#a26969"/>
<rect x="216" width="1.3" fill="#9a7575"/>
<rect x="217" width="1.3" fill="#a46767"/>
<rect x="218" width="2.3" fill="#ae5a5a"/>
<rect x="220" width="1.3" fill="#aa5e5e"/>
<rect x="221" width="1.3" fill="#ab5e5e"/>
<rect x="222" width="1.3" fill="#c83737"/>
<rect x="223" width="1.3" fill="#cc3131"/>
<rect x="224" width="1.3" fill="#c14040"/>
<rect x="225" width="1.3" fill="#c43b3b"/>
<rect x="226" width="1.3" fill="#be4444"/>
<rect x="227" width="1.3" fill="#bf4242"/>
<rect x="228" width="1.3" fill="#be4444"/>
<rect x="229" width="1.3" fill="#ce2e2e"/>
<rect x="230" width="1.3" fill="#d02b2b"/>
<rect x="231" width="1.3" fill="#d22929"/>
<rect x="232" width="1.3" fill="#d32828"/>
<rect x="233" width="1.3" fill="#c43c3c"/>
<rect x="234" width="1.3" fill="#bd4646"/>
<rect x="235" width="1.3" fill="#c04242"/>
<rect x="236" width="1.3" fill="#c93434"/>
<rect x="237" width="1.3" fill="#cd2f2f"/>
<rect x="238" width="1.3" fill="#c53a3a"/>
<rect x="239" width="1.3" fill="#c73838"/>
<rect x="240" width="1.3" fill="#c83636"/>
<rect x="241" width="1.3" fill="#c63939"/>
<rect x="242" width="2.3" fill="#c83636"/>
<rect x="244" width="1.3" fill="#cb3232"/>
<rect x="245" width="1.3" fill="#cd3030"/>
<rect x="246" width="1.3" fill="#c83636"/>
<rect x="247" width="1.3" fill="#c93434"/>
<rect x="248" width="1.3" fill="#d42626"/>
<rect x="249" width="1.3" fill="#d62323"/>
<rect x="250" width="1.3" fill="#d62424"/>
<rect x="251" width="1.3" fill="#d62323"/>
<rect x="252" width="1.3" fill="#d02b2b"/>
<rect x="253" width="1.3" fill="#d12a2a"/>
<rect x="254" width="1.3" fill="#cf2d2d"/>
<rect x="255" width="3.3" fill="#da1e1e"/>
<rect x="258" width="1.3" fill="#d12a2a"/>
<rect x="259" width="1.3" fill="#d02c2c"/>
<rect x="260" width="1.3" fill="#cf2d2d"/>
<rect x="261" width="1.3" fill="#cf2c2c"/>
<rect x="262" width="1.3" fill="#cb3232"/>
<rect x="263" width="1.3" fill="#ca3434"/>
<rect x="264" width="1.3" fill="#ce2f2f"/>
<rect x="265" width="1.3" fill="#c93535"/>
<rect x="266" width="1.3" fill="#d42727"/>
<rect x="267" width="1.3" fill="#d82121"/>
<rect x="268" width="1.3" fill="#cf2d2d"/>
<rect x="269" width="1.3" fill="#c53b3b"/>
<rect x="270" width="1.3" fill="#987878"/>
<rect x="271" width="1.3" fill="#977878"/>
<rect x="272" width="1.3" fill="#977979"/>
<rect x="273" width="1.3" fill="#987777"/>
<rect x="274" width="1.3" fill="#b84b4b"/>
<rect x="275" width="1.3" fill="#bc4646"/>
<rect x="276" width="1.3" fill="#bd4545"/>
<rect x="277" width="1.3" fill="#bd4646"/>
<rect x="278" width="1.3" fill="#2325e2"/>
<rect x="279" width="1.3" fill="#2628df"/>
<rect x="280" width="1.3" fill="#2729de"/>
<rect x="281" width="1.3" fill="#2b2ddb"/>
<rect x="282" width="1.3" fill="#3133d5"/>
<rect x="283" width="1.3" fill="#4749c2"/>
<rect x="284" width="1.3" fill="#4445c6"/>
<rect x="285" width="1.3" fill="#4d4ebe"/>
<rect x="286" width="1.3" fill="#4143c8"/>
<rect x="287" width="1.3" fill="#292bdc"/>
<rect x="288" width="1.3" fill="#2d2fd9"/>
<rect x="289" width="3.3" fill="#2022e4"/>
<rect x="292" width="1.3" fill="#2f31d7"/>
<rect x="293" width="1.3" fill="#484ac2"/>
<rect x="294" width="1.3" fill="#4748c3"/>
<rect x="295" width="1.3" fill="#494ac1"/>
<rect x="296" width="1.3" fill="#3738d1"/>
<rect x="297" width="1.3" fill="#2f30d8"/>
<rect x="298" width="1.3" fill="#2b2ddb"/>
<rect x="299" width="1.3" fill="#2325e2"/>
<rect x="300" width="1.3" fill="#2e2fd8"/>
<rect x="301" width="1.3" fill="#3133d5"/>
<rect x="302" width="1.3" fill="#4041c9"/>
<rect x="303" width="1.3" fill="#4c4ebe"/>
<rect x="304" width="1.3" fill="#2e2fd8"/>
<rect x="305" width="2.3" fill="#2e30d8"/>
<rect x="307" width="1.3" fill="#3536d2"/>
<rect x="308" width="1.3" fill="#292bdc"/>
<rect x="309" width="1.3" fill="#2022e4"/>
<rect x="310" width="1.3" fill="#2123e3"/>
<rect x="311" width="2.3" fill="#2022e4"/>
<rect x="313" width="1.3" fill="#2b2dda"/>
<rect x="314" width="1.3" fill="#2c2eda"/>
<rect x="315" width="1.3" fill="#3435d3"/>
<rect x="316" width="1.3" fill="#4849c2"/>
<rect x="317" width="1.3" fill="#4d4ebe"/>
<rect x="318" width="1.3" fill="#4c4dbf"/>
<rect x="319" width="1.3" fill="#4e4fbd"/>
<rect x="320" width="1.3" fill="#3f40ca"/>
<rect x="321" width="1.3" fill="#4041c9"/>
<rect x="322" width="1.3" fill="#4445c6"/>
<rect x="323" width="1.3" fill="#4344c6"/>
<rect x="324" width="1.3" fill="#4546c4"/>
<rect x="325" width="1.3" fill="#3e3fcb"/>
<rect x="326" width="1.3" fill="#2d2fd9"/>
<rect x="327" width="1.3" fill="#2c2eda"/>
<rect x="328" width="1.3" fill="#2628df"/>
<rect x="329" width="1.3" fill="#2426e0"/>
<rect x="330" width="1.3" fill="#3334d4"/>
<rect x="331" width="1.3" fill="#3436d3"/>
<rect x="332" width="1.3" fill="#3d3fcb"/>
<rect x="333" width="1.3" fill="#3638d1"/>
<rect x="334" width="1.3" fill="#393acf"/>
<rect x="335" width="1.3" fill="#3738d1"/>
<rect x="336" width="1.3" fill="#2d2ed9"/>
<rect x="337" width="2.3" fill="#2022e4"/>
<rect x="339" width="1.3" fill="#292bdd"/>
<rect x="340" width="1.3" fill="#2a2cdc"/>
<rect x="341" width="2.3" fill="#2022e4"/>
<rect x="343" width="1.3" fill="#2123e3"/>
<rect x="344" width="1.3" fill="#2022e4"/>
<rect x="345" width="1.3" fill="#4748c3"/>
<rect x="346" width="1.3" fill="#2f31d7"/>
<rect x="347" width="1.3" fill="#2224e2"/>
<rect x="348" width="1.3" fill="#2b2dda"/>
<rect x="349" width="1.3" fill="#3839d0"/>
<rect x="350" width="1.3" fill="#3d3ecc"/>
<rect x="351" width="1.3" fill="#3e3fcb"/>
<rect x="352" width="1.3" fill="#3d3ecb"/>
<rect x="353" width="1.3" fill="#2e30d8"/>
<rect x="354" width="1.3" fill="#2d2fd9"/>
<rect x="355" width="1.3" fill="#282add"/>
<rect x="356" width="1.3" fill="#3233d5"/>
<rect x="357" width="1.3" fill="#3536d2"/>
<rect x="358" width="1.3" fill="#3a3bce"/>
<rect x="359" width="1.3" fill="#3234d4"/>
<rect x="360" width="8.3" fill="#2022e4"/>
<rect x="368" width="1.3" fill="#2123e3"/>
<rect x="369" width="1.3" fill="#2b2cdb"/>
<rect x="370" width="1.3" fill="#3132d6"/>
<rect x="371" width="1.3" fill="#2f31d7"/>
<rect x="372" width="1.3" fill="#3637d2"/>
<rect x="373" width="1.3" fill="#4547c4"/>
<rect x="374" width="1.3" fill="#4344c6"/>
<rect x="375" width="1.3" fill="#3f40ca"/>
<rect x="376" width="1.3" fill="#2f31d7"/>
<rect x="377" width="1.3" fill="#2f30d8"/>
<rect x="378" width="4.3" fill="#2022e4"/>
<rect x="382" width="1.3" fill="#2527e0"/>
<rect x="383" width="1.3" fill="#2324e2"/>
<rect x="384" width="1.3" fill="#2426e0"/>
<rect x="385" width="1.3" fill="#2022e4"/>
<rect x="386" width="1.3" fill="#2628df"/>
<rect x="387" width="1.3" fill="#3234d5"/>
<rect x="388" width="1.3" fill="#3234d4"/>
<rect x="389" width="1.3" fill="#3f41c9"/>
<rect x="390" width="1.3" fill="#3a3cce"/>
<rect x="391" width="1.3" fill="#3b3dcd"/>
<rect x="392" width="1.3" fill="#3738d1"/>
<rect x="393" width="4.3" fill="#2022e4"/>
<rect x="397" width="2.3" fill="#3b3dcd"/>
<rect x="399" width="1.3" fill="#3739d0"/>
<rect x="400" width="1.3" fill="#3133d6"/>
<rect x="401" width="1.3" fill="#2022e4"/>
<rect x="402" width="1.3" fill="#3637d2"/>
<rect x="403" width="1.3" fill="#393acf"/>
<rect x="404" width="2.3" fill="#2628df"/>
<rect x="406" width="1.3" fill="#2022e4"/>
<rect x="407" width="1.3" fill="#2123e3"/>
<rect x="408" width="5.3" fill="#2022e4"/>
<rect x="413" width="1.3" fill="#3839d0"/>
<rect x="414" width="1.3" fill="#3f40ca"/>
<rect x="415" width="1.3" fill="#494ac1"/>
<rect x="416" width="1.3" fill="#3e3fcb"/>
<rect x="417" width="1.3" fill="#2a2bdc"/>
<rect x="418" width="1.3" fill="#2628df"/>
<rect x="419" width="1.3" fill="#2728de"/>
<rect x="420" width="1.3" fill="#2729de"/>
<rect x="421" width="5.3" fill="#2022e4"/>
<rect x="426" width="1.3" fill="#3b3ccd"/>
<rect x="427" width="1.3" fill="#4b4cc0"/>
<rect x="428" width="1.3" fill="#5152ba"/>
<rect x="429" width="1.3" fill="#4546c5"/>
<rect x="430" width="1.3" fill="#3b3dcd"/>
<rect x="431" width="1.3" fill="#3435d3"/>
<rect x="432" width="1.3" fill="#2c2dda"/>
<rect x="433" width="1.3" fill="#2b2ddb"/>
<rect x="434" width="1.3" fill="#696aa6"/>
<rect x="435" width="1.3" fill="#7171a0"/>
<rect x="436" width="1.3" fill="#7070a0"/>
<rect x="437" width="1.3" fill="#6b6ba4"/>
<rect x="438" width="1.3" fill="#6969a6"/>
<rect x="439" width="1.3" fill="#5e5faf"/>
<rect x="440" width="1.3" fill="#494ac1"/>
<rect x="441" width="1.3" fill="#4d4ebe"/>
<rect x="442" width="1.3" fill="#5e5faf"/>
<rect x="443" width="1.3" fill="#5354b9"/>
<rect x="444" width="1.3" fill="#494ac1"/>
<rect x="445" width="1.3" fill="#4042c8"/>
<rect x="446" width="6.3" fill="#2022e4"/>
<rect x="452" width="1.3" fill="#2426e0"/>
<rect x="453" width="0.5" fill="#2123e3"/>
</g>
<g transform="translate(0 108.41)">
<rect x="172.2" width="1.1" fill="#af5858"/>
<rect x="173" width="1.3" fill="#b15555"/>
<rect x="174" width="1.3" fill="#ad5a5a"/>
<rect x="175" width="1.3" fill="#c83636"/>
<rect x="176" width="1.3" fill="#c63838"/>
<rect x="177" width="1.3" fill="#c53b3b"/>
<rect x="178" width="1.3" fill="#c63a3a"/>
<rect x="179" width="1.3" fill="#c63939"/>
<rect x="180" width="1.3" fill="#c14040"/>
<rect x="181" width="1.3" fill="#c63939"/>
<rect x="182" width="1.3" fill="#c14040"/>
<rect x="183" width="1.3" fill="#c63939"/>
<rect x="184" width="1.3" fill="#d32727"/>
<rect x="185" width="2.3" fill="#d82121"/>
<rect x="187" width="1.3" fill="#d32727"/>
<rect x="188" width="1.3" fill="#c93434"/>
<rect x="189" width="1.3" fill="#c93535"/>
<rect x="190" width="1.3" fill="#c73838"/>
<rect x="191" width="1.3" fill="#c83737"/>
<rect x="192" width="1.3" fill="#bf4343"/>
<rect x="193" width="1.3" fill="#ba4949"/>
<rect x="194" width="1.3" fill="#bb4848"/>
<rect x="195" width="1.3" fill="#be4444"/>
<rect x="196" width="1.3" fill="#c23e3e"/>
<rect x="197" width="1.3" fill="#b55050"/>
<rect x="198" width="1.3" fill="#b25454"/>
<rect x="199" width="1.3" fill="#b35252"/>
<rect x="200" width="1.3" fill="#bb4848"/>
<rect x="201" width="1.3" fill="#bb4747"/>
<rect x="202" width="1.3" fill="#ba4949"/>
<rect x="203" width="1.3" fill="#b25454"/>
<rect x="204" width="1.3" fill="#b25555"/>
<rect x="205" width="1.3" fill="#b74e4e"/>
<rect x="206" width="1.3" fill="#ad5b5b"/>
<rect x="207" width="1.3" fill="#ab5d5d"/>
<rect x="208" width="1.3" fill="#af5959"/>
<rect x="209" width="1.3" fill="#b35252"/>
<rect x="210" width="1.3" fill="#b05757"/>
<rect x="211" width="1.3" fill="#b25454"/>
<rect x="212" width="1.3" fill="#b94b4b"/>
<rect x="213" width="2.3" fill="#c14040"/>
<rect x="215" width="1.3" fill="#a96060"/>
<rect x="216" width="1.3" fill="#9b7474"/>
<rect x="217" width="1.3" fill="#a76363"/>
<rect x="218" width="1.3" fill="#ab5d5d"/>
<rect x="219" width="1.3" fill="#af5858"/>
<rect x="220" width="1.3" fill="#a86161"/>
<rect x="221" width="1.3" fill="#ac5c5c"/>
<rect x="222" width="1.3" fill="#c73737"/>
<rect x="223" width="1.3" fill="#ca3333"/>
<rect x="224" width="1.3" fill="#c93535"/>
<rect x="225" width="1.3" fill="#c63939"/>
<rect x="226" width="1.3" fill="#bd4646"/>
<rect x="227" width="1.3" fill="#bf4343"/>
<rect x="228" width="1.3" fill="#c04141"/>
<rect x="229" width="1.3" fill="#ce2f2f"/>
<rect x="230" width="1.3" fill="#d52424"/>
<rect x="231" width="1.3" fill="#d22929"/>
<rect x="232" width="1.3" fill="#cb3333"/>
<rect x="233" width="1.3" fill="#c13f3f"/>
<rect x="234" width="1.3" fill="#ba4949"/>
<rect x="235" width="1.3" fill="#c04141"/>
<rect x="236" width="2.3" fill="#cf2d2d"/>
<rect x="238" width="1.3" fill="#c93535"/>
<rect x="239" width="1.3" fill="#c73838"/>
<rect x="240" width="1.3" fill="#c53a3a"/>
<rect x="241" width="1.3" fill="#c73838"/>
<rect x="242" width="1.3" fill="#c63939"/>
<rect x="243" width="1.3" fill="#c53a3a"/>
<rect x="244" width="1.3" fill="#c93535"/>
<rect x="245" width="1.3" fill="#c73838"/>
<rect x="246" width="1.3" fill="#c43c3c"/>
<rect x="247" width="1.3" fill="#cd3030"/>
<rect x="248" width="1.3" fill="#d42626"/>
<rect x="249" width="1.3" fill="#d82020"/>
<rect x="250" width="2.3" fill="#d82121"/>
<rect x="252" width="2.3" fill="#d32828"/>
<rect x="254" width="1.3" fill="#d02b2b"/>
<rect x="255" width="2.3" fill="#da1e1e"/>
<rect x="257" width="1.3" fill="#d92020"/>
<rect x="258" width="1.3" fill="#d32727"/>
<rect x="259" width="1.3" fill="#d02c2c"/>
<rect x="260" width="1.3" fill="#d12a2a"/>
<rect x="261" width="1.3" fill="#cc3131"/>
<rect x="262" width="1.3" fill="#cf2d2d"/>
<rect x="263" width="1.3" fill="#ce2f2f"/>
<rect x="264" width="1.3" fill="#cb3333"/>
<rect x="265" width="1.3" fill="#c83737"/>
<rect x="266" width="1.3" fill="#d42626"/>
<rect x="267" width="1.3" fill="#d82020"/>
<rect x="268" width="1.3" fill="#d22929"/>
<rect x="269" width="1.3" fill="#c53b3b"/>
<rect x="270" width="1.3" fill="#967979"/>
<rect x="271" width="1.3" fill="#987777"/>
<rect x="272" width="1.3" fill="#967979"/>
<rect x="273" width="1.3" fill="#997676"/>
<rect x="274" width="1.3" fill="#bb4747"/>
<rect x="275" width="1.3" fill="#c14040"/>
<rect x="276" width="1.3" fill="#bc4646"/>
<rect x="277" width="1.3" fill="#bc4747"/>
<rect x="278" width="1.3" fill="#292bdd"/>
<rect x="279" width="1.3" fill="#2d2fd9"/>
<rect x="280" width="1.3" fill="#2628df"/>
<rect x="281" width="1.3" fill="#2e30d8"/>
<rect x="282" width="1.3" fill="#3839d0"/>
<rect x="283" width="1.3" fill="#4546c4"/>
<rect x="284" width="1.3" fill="#4b4cbf"/>
<rect x="285" width="1.3" fill="#4d4ebe"/>
<rect x="286" width="1.3" fill="#3b3dcd"/>
<rect x="287" width="1.3" fill="#2628df"/>
<rect x="288" width="1.3" fill="#2e30d8"/>
<rect x="289" width="3.3" fill="#2022e4"/>
<rect x="292" width="1.3" fill="#2f31d7"/>
<rect x="293" width="1.3" fill="#4f50bc"/>
<rect x="294" width="1.3" fill="#5455b8"/>
<rect x="295" width="1.3" fill="#4a4cc0"/>
<rect x="296" width="1.3" fill="#3234d5"/>
<rect x="297" width="1.3" fill="#3133d5"/>
<rect x="298" width="1.3" fill="#2c2dda"/>
<rect x="299" width="1.3" fill="#292bdd"/>
<rect x="300" width="1.3" fill="#2a2cdb"/>
<rect x="301" width="1.3" fill="#3d3ecc"/>
<rect x="302" width="1.3" fill="#5051bb"/>
<rect x="303" width="1.3" fill="#5455b8"/>
<rect x="304" width="1.3" fill="#3738d1"/>
<rect x="305" width="1.3" fill="#3c3ecc"/>
<rect x="306" width="2.3" fill="#3334d4"/>
<rect x="308" width="1.3" fill="#3a3cce"/>
<rect x="309" width="1.3" fill="#2527e0"/>
<rect x="310" width="2.3" fill="#2022e4"/>
<rect x="312" width="1.3" fill="#2426e1"/>
<rect x="313" width="1.3" fill="#3638d1"/>
<rect x="314" width="1.3" fill="#3435d3"/>
<rect x="315" width="1.3" fill="#3335d4"/>
<rect x="316" width="1.3" fill="#494bc1"/>
<rect x="317" width="2.3" fill="#5051bb"/>
<rect x="319" width="1.3" fill="#5354b8"/>
<rect x="320" width="2.3" fill="#4849c2"/>
<rect x="322" width="1.3" fill="#4041c9"/>
<rect x="323" width="1.3" fill="#494ac1"/>
<rect x="324" width="1.3" fill="#4e4fbd"/>
<rect x="325" width="1.3" fill="#4445c6"/>
<rect x="326" width="1.3" fill="#3436d3"/>
<rect x="327" width="1.3" fill="#2f31d7"/>
<rect x="328" width="1.3" fill="#3638d1"/>
<rect x="329" width="1.3" fill="#2c2eda"/>
<rect x="330" width="1.3" fill="#3436d3"/>
<rect x="331" width="1.3" fill="#3b3ccd"/>
<rect x="332" width="1.3" fill="#4445c6"/>
<rect x="333" width="1.3" fill="#4041c9"/>
<rect x="334" width="1.3" fill="#4042c9"/>
<rect x="335" width="1.3" fill="#3d3ecc"/>
<rect x="336" width="1.3" fill="#3537d2"/>
<rect x="337" width="2.3" fill="#2022e4"/>
<rect x="339" width="1.3" fill="#292bdc"/>
<rect x="340" width="1.3" fill="#3132d6"/>
<rect x="341" width="1.3" fill="#2123e4"/>
<rect x="342" width="1.3" fill="#2123e3"/>
<rect x="343" width="1.3" fill="#2527e0"/>
<rect x="344" width="1.3" fill="#2b2dda"/>
<rect x="345" width="1.3" fill="#4d4ebe"/>
<rect x="346" width="1.3" fill="#2d2ed9"/>
<rect x="347" width="1.3" fill="#292bdd"/>
<rect x="348" width="1.3" fill="#3334d4"/>
<rect x="349" width="1.3" fill="#4042c9"/>
<rect x="350" width="1.3" fill="#3f40ca"/>
<rect x="351" width="1.3" fill="#4446c5"/>
<rect x="352" width="1.3" fill="#3e40ca"/>
<rect x="353" width="1.3" fill="#3537d2"/>
<rect x="354" width="1.3" fill="#383acf"/>
<rect x="355" width="1.3" fill="#2022e4"/>
<rect x="356" width="1.3" fill="#2d2fd9"/>
<rect x="357" width="1.3" fill="#3537d2"/>
<rect x="358" width="1.3" fill="#4142c8"/>
<rect x="359" width="1.3" fill="#3234d4"/>
<rect x="360" width="8.3" fill="#2022e4"/>
<rect x="368" width="1.3" fill="#2c2eda"/>
<rect x="369" width="1.3" fill="#3032d7"/>
<rect x="370" width="1.3" fill="#2f31d7"/>
<rect x="371" width="1.3" fill="#3839d0"/>
<rect x="372" width="1.3" fill="#3b3ccd"/>
<rect x="373" width="1.3" fill="#3d3ecb"/>
<rect x="374" width="1.3" fill="#4041c9"/>
<rect x="375" width="1.3" fill="#4244c7"/>
<rect x="376" width="1.3" fill="#2b2cdb"/>
<rect x="377" width="1.3" fill="#2f31d7"/>
<rect x="378" width="2.3" fill="#2022e4"/>
<rect x="380" width="1.3" fill="#2123e3"/>
<rect x="381" width="2.3" fill="#2022e4"/>
<rect x="383" width="1.3" fill="#2426e0"/>
<rect x="384" width="1.3" fill="#2627df"/>
<rect x="385" width="1.3" fill="#2022e4"/>
<rect x="386" width="1.3" fill="#282add"/>
<rect x="387" width="1.3" fill="#3435d3"/>
<rect x="388" width="1.3" fill="#3739d0"/>
<rect x="389" width="1.3" fill="#3839d0"/>
<rect x="390" width="1.3" fill="#3f41ca"/>
<rect x="391" width="1.3" fill="#3d3fcb"/>
<rect x="392" width="1.3" fill="#2e30d8"/>
<rect x="393" width="4.3" fill="#2022e4"/>
<rect x="397" width="1.3" fill="#3233d5"/>
<rect x="398" width="1.3" fill="#4143c8"/>
<rect x="399" width="1.3" fill="#3d3ecc"/>
<rect x="400" width="1.3" fill="#3536d2"/>
<rect x="401" width="1.3" fill="#2224e2"/>
<rect x="402" width="1.3" fill="#3d3ecc"/>
<rect x="403" width="1.3" fill="#4c4dbf"/>
<rect x="404" width="1.3" fill="#292add"/>
<rect x="405" width="1.3" fill="#2729de"/>
<rect x="406" width="1.3" fill="#2123e3"/>
<rect x="407" width="1.3" fill="#2b2dda"/>
<rect x="408" width="1.3" fill="#2729de"/>
<rect x="409" width="4.3" fill="#2022e4"/>
<rect x="413" width="1.3" fill="#3d3ecb"/>
<rect x="414" width="1.3" fill="#4345c6"/>
<rect x="415" width="1.3" fill="#4647c4"/>
<rect x="416" width="1.3" fill="#4142c8"/>
<rect x="417" width="1.3" fill="#2d2fd9"/>
<rect x="418" width="1.3" fill="#2d2ed9"/>
<rect x="419" width="1.3" fill="#2022e4"/>
<rect x="420" width="1.3" fill="#2729de"/>
<rect x="421" width="5.3" fill="#2022e4"/>
<rect x="426" width="1.3" fill="#3738d1"/>
<rect x="427" width="1.3" fill="#4344c6"/>
<rect x="428" width="1.3" fill="#4041c9"/>
<rect x="429" width="1.3" fill="#4647c4"/>
<rect x="430" width="1.3" fill="#3f41c9"/>
<rect x="431" width="1.3" fill="#3334d4"/>
<rect x="432" width="1.3" fill="#282add"/>
<rect x="433" width="1.3" fill="#2d2ed9"/>
<rect x="434" width="1.3" fill="#6b6ca4"/>
<rect x="435" width="1.3" fill="#696aa6"/>
<rect x="436" width="1.3" fill="#6c6ca4"/>
<rect x="437" width="1.3" fill="#6d6da3"/>
<rect x="438" width="1.3" fill="#6566a9"/>
<rect x="439" width="1.3" fill="#6565aa"/>
<rect x="440" width="1.3" fill="#4647c4"/>
<rect x="441" width="1.3" fill="#4e4fbd"/>
<rect x="442" width="1.3" fill="#5a5ab3"/>
<rect x="443" width="1.3" fill="#5455b8"/>
<rect x="444" width="1.3" fill="#494ac2"/>
<rect x="445" width="1.3" fill="#4849c2"/>
<rect x="446" width="4.3" fill="#2022e4"/>
<rect x="450" width="1.3" fill="#2728de"/>
<rect x="451" width="1.3" fill="#2224e2"/>
<rect x="452" width="1.3" fill="#2628df"/>
<rect x="453" width="0.5" fill="#2325e1"/>
</g>
<g transform="translate(0 124.87)">
<rect x="172.2" width="1.1" fill="#908282"/>
<rect x="173" width="1.3" fill="#918080"/>
<rect x="174" width="1.3" fill="#937e7e"/>
<rect x="175" width="1.3" fill="#7d7e95"/>
<rect x="176" width="1.3" fill="#6d6da3"/>
<rect x="177" width="1.3" fill="#6e6fa1"/>
<rect x="178" width="1.3" fill="#7f8093"/>
<rect x="179" width="1.3" fill="#6667a9"/>
<rect x="180" width="1.3" fill="#6b6ca4"/>
<rect x="181" width="1.3" fill="#6c6da3"/>
<rect x="182" width="1.3" fill="#696aa6"/>
<rect x="183" width="1.3" fill="#6868a7"/>
<rect x="184" width="2.3" fill="#6d6da3"/>
<rect x="186" width="1.3" fill="#6061ae"/>
<rect x="187" width="1.3" fill="#393bcf"/>
<rect x="188" width="1.3" fill="#5354b8"/>
<rect x="189" width="1.3" fill="#5859b4"/>
<rect x="190" width="1.3" fill="#6061ad"/>
<rect x="191" width="1.3" fill="#9c7272"/>
<rect x="192" width="1.3" fill="#a06c6c"/>
<rect x="193" width="1.3" fill="#9c7272"/>
<rect x="194" width="1.3" fill="#87878d"/>
<rect x="195" width="1.3" fill="#8b8989"/>
<rect x="196" width="1.3" fill="#8d8686"/>
<rect x="197" width="1.3" fill="#8d8787"/>
<rect x="198" width="1.3" fill="#8a8a8a"/>
<rect x="199" width="1.3" fill="#86868d"/>
<rect x="200" width="1.3" fill="#9f6e6e"/>
<rect x="201" width="1.3" fill="#947c7c"/>
<rect x="202" width="1.3" fill="#808093"/>
<rect x="203" width="1.3" fill="#838390"/>
<rect x="204" width="1.3" fill="#7d7e95"/>
<rect x="205" width="1.3" fill="#87878d"/>
<rect x="206" width="1.3" fill="#947d7d"/>
<rect x="207" width="1.3" fill="#9c7272"/>
<rect x="208" width="1.3" fill="#9f6e6e"/>
<rect x="209" width="1.3" fill="#a06c6c"/>
<rect x="210" width="1.3" fill="#9f6d6d"/>
<rect x="211" width="1.3" fill="#a16b6b"/>
<rect x="212" width="1.3" fill="#a26969"/>
<rect x="213" width="1.3" fill="#9f6d6d"/>
<rect x="214" width="1.3" fill="#a06d6d"/>
<rect x="215" width="1.3" fill="#9c7171"/>
<rect x="216" width="1.3" fill="#9f6e6e"/>
<rect x="217" width="1.3" fill="#c14040"/>
<rect x="218" width="1.3" fill="#be4444"/>
<rect x="219" width="1.3" fill="#bb4747"/>
<rect x="220" width="2.3" fill="#bc4646"/>
<rect x="222" width="1.3" fill="#bf4343"/>
<rect x="223" width="1.3" fill="#b55050"/>
<rect x="224" width="1.3" fill="#af5858"/>
<rect x="225" width="1.3" fill="#a26a6a"/>
<rect x="226" width="1.3" fill="#a86161"/>
<rect x="227" width="1.3" fill="#ab5e5e"/>
<rect x="228" width="1.3" fill="#ab5d5d"/>
<rect x="229" width="1.3" fill="#bb4747"/>
<rect x="230" width="1.3" fill="#c23e3e"/>
<rect x="231" width="1.3" fill="#be4444"/>
<rect x="232" width="1.3" fill="#ab5d5d"/>
<rect x="233" width="1.3" fill="#a66464"/>
<rect x="234" width="1.3" fill="#aa5e5e"/>
<rect x="235" width="1.3" fill="#b54f4f"/>
<rect x="236" width="1.3" fill="#ba4949"/>
<rect x="237" width="1.3" fill="#b25454"/>
<rect x="238" width="1.3" fill="#ad5b5b"/>
<rect x="239" width="1.3" fill="#ac5c5c"/>
<rect x="240" width="2.3" fill="#ad5b5b"/>
<rect x="242" width="1.3" fill="#b35353"/>
<rect x="243" width="1.3" fill="#b15555"/>
<rect x="244" width="1.3" fill="#b05757"/>
<rect x="245" width="1.3" fill="#b64f4f"/>
<rect x="246" width="1.3" fill="#b74e4e"/>
<rect x="247" width="1.3" fill="#b64e4e"/>
<rect x="248" width="1.3" fill="#bd4545"/>
<rect x="249" width="1.3" fill="#cc3131"/>
<rect x="250" width="1.3" fill="#c93535"/>
<rect x="251" width="1.3" fill="#b15555"/>
<rect x="252" width="1.3" fill="#908282"/>
<rect x="253" width="1.3" fill="#7f8093"/>
<rect x="254" width="1.3" fill="#7e7e95"/>
<rect x="255" width="1.3" fill="#89898b"/>
<rect x="256" width="1.3" fill="#957b7b"/>
<rect x="257" width="1.3" fill="#a46767"/>
<rect x="258" width="1.3" fill="#a96161"/>
<rect x="259" width="1.3" fill="#b45151"/>
<rect x="260" width="1.3" fill="#a46767"/>
<rect x="261" width="1.3" fill="#8d8686"/>
<rect x="262" width="1.3" fill="#8c8888"/>
<rect x="263" width="1.3" fill="#8c8787"/>
<rect x="264" width="1.3" fill="#8e8484"/>
<rect x="265" width="1.3" fill="#a76363"/>
<rect x="266" width="1.3" fill="#a96161"/>
<rect x="267" width="1.3" fill="#a76363"/>
<rect x="268" width="1.3" fill="#ab5d5d"/>
<rect x="269" width="1.3" fill="#ad5b5b"/>
<rect x="270" width="1.3" fill="#a06c6c"/>
<rect x="271" width="1.3" fill="#8c8787"/>
<rect x="272" width="1.3" fill="#72739e"/>
<rect x="273" width="1.3" fill="#75769c"/>
<rect x="274" width="1.3" fill="#6e6ea2"/>
<rect x="275" width="1.3" fill="#a16b6b"/>
<rect x="276" width="1.3" fill="#a96060"/>
<rect x="277" width="1.3" fill="#b74d4d"/>
<rect x="278" width="1.3" fill="#84848f"/>
<rect x="279" width="1.3" fill="#75759c"/>
<rect x="280" width="1.3" fill="#4748c3"/>
<rect x="281" width="1.3" fill="#3233d5"/>
<rect x="282" width="1.3" fill="#3739d0"/>
<rect x="283" width="1.3" fill="#5859b5"/>
<rect x="284" width="1.3" fill="#6060ae"/>
<rect x="285" width="1.3" fill="#4648c4"/>
<rect x="286" width="1.3" fill="#4243c7"/>
<rect x="287" width="2.3" fill="#3c3dcc"/>
<rect x="289" width="1.3" fill="#3d3fcb"/>
<rect x="290" width="1.3" fill="#3638d1"/>
<rect x="291" width="1.3" fill="#2a2cdc"/>
<rect x="292" width="1.3" fill="#2123e3"/>
<rect x="293" width="1.3" fill="#2d2ed9"/>
<rect x="294" width="1.3" fill="#6061ae"/>
<rect x="295" width="1.3" fill="#3a3cce"/>
<rect x="296" width="1.3" fill="#3c3dcc"/>
<rect x="297" width="1.3" fill="#4849c2"/>
<rect x="298" width="1.3" fill="#5a5ab3"/>
<rect x="299" width="1.3" fill="#595ab4"/>
<rect x="300" width="1.3" fill="#5455b7"/>
<rect x="301" width="1.3" fill="#595ab4"/>
<rect x="302" width="1.3" fill="#6869a7"/>
<rect x="303" width="1.3" fill="#5c5db1"/>
<rect x="304" width="1.3" fill="#2426e0"/>
<rect x="305" width="3.3" fill="#2022e4"/>
<rect x="308" width="1.3" fill="#3537d2"/>
<rect x="309" width="1.3" fill="#3b3dcd"/>
<rect x="310" width="1.3" fill="#4e50bd"/>
<rect x="311" width="1.3" fill="#5657b6"/>
<rect x="312" width="1.3" fill="#5253ba"/>
<rect x="313" width="1.3" fill="#5052bb"/>
<rect x="314" width="1.3" fill="#3335d4"/>
<rect x="315" width="1.3" fill="#3c3ecc"/>
<rect x="316" width="1.3" fill="#3335d4"/>
<rect x="317" width="1.3" fill="#3b3ccd"/>
<rect x="318" width="1.3" fill="#3d3ecb"/>
<rect x="319" width="1.3" fill="#3031d7"/>
<rect x="320" width="1.3" fill="#3f40ca"/>
<rect x="321" width="1.3" fill="#5455b8"/>
<rect x="322" width="1.3" fill="#6061ae"/>
<rect x="323" width="1.3" fill="#5455b8"/>
<rect x="324" width="1.3" fill="#4345c6"/>
<rect x="325" width="1.3" fill="#4d4ebe"/>
<rect x="326" width="1.3" fill="#6c6da3"/>
<rect x="327" width="1.3" fill="#967a7a"/>
<rect x="328" width="1.3" fill="#9a7575"/>
<rect x="329" width="1.3" fill="#997676"/>
<rect x="330" width="1.3" fill="#87878c"/>
<rect x="331" width="1.3" fill="#595ab4"/>
<rect x="332" width="1.3" fill="#4e4fbd"/>
<rect x="333" width="1.3" fill="#595ab4"/>
<rect x="334" width="1.3" fill="#8f8484"/>
<rect x="335" width="1.3" fill="#87888c"/>
<rect x="336" width="1.3" fill="#76779b"/>
<rect x="337" width="1.3" fill="#838390"/>
<rect x="338" width="1.3" fill="#7070a0"/>
<rect x="339" width="1.3" fill="#6566a9"/>
<rect x="340" width="1.3" fill="#6363ab"/>
<rect x="341" width="1.3" fill="#6465aa"/>
<rect x="342" width="1.3" fill="#5c5db1"/>
<rect x="343" width="1.3" fill="#5a5bb2"/>
<rect x="344" width="1.3" fill="#5455b8"/>
<rect x="345" width="1.3" fill="#5153ba"/>
<rect x="346" width="1.3" fill="#5859b4"/>
<rect x="347" width="1.3" fill="#5b5cb2"/>
<rect x="348" width="1.3" fill="#6667a8"/>
<rect x="349" width="1.3" fill="#5b5bb2"/>
<rect x="350" width="1.3" fill="#4041c9"/>
<rect x="351" width="2.3" fill="#2e30d8"/>
<rect x="353" width="1.3" fill="#3133d5"/>
<rect x="354" width="1.3" fill="#3f41c9"/>
<rect x="355" width="1.3" fill="#4b4cc0"/>
<rect x="356" width="1.3" fill="#5657b6"/>
<rect x="357" width="1.3" fill="#4849c2"/>
<rect x="358" width="1.3" fill="#5455b8"/>
<rect x="359" width="1.3" fill="#5f5faf"/>
<rect x="360" width="1.3" fill="#595ab4"/>
<rect x="361" width="1.3" fill="#5354b9"/>
<rect x="362" width="1.3" fill="#595ab3"/>
<rect x="363" width="1.3" fill="#4d4ebe"/>
<rect x="364" width="1.3" fill="#4849c2"/>
<rect x="365" width="1.3" fill="#3a3cce"/>
<rect x="366" width="1.3" fill="#4546c4"/>
<rect x="367" width="1.3" fill="#3032d6"/>
<rect x="368" width="1.3" fill="#2123e3"/>
<rect x="369" width="1.3" fill="#2829de"/>
<rect x="370" width="1.3" fill="#3a3bce"/>
<rect x="371" width="1.3" fill="#3436d3"/>
<rect x="372" width="1.3" fill="#2c2eda"/>
<rect x="373" width="2.3" fill="#3234d4"/>
<rect x="375" width="1.3" fill="#2c2eda"/>
<rect x="376" width="1.3" fill="#4243c7"/>
<rect x="377" width="2.3" fill="#5657b6"/>
<rect x="379" width="1.3" fill="#4647c4"/>
<rect x="380" width="1.3" fill="#5253ba"/>
<rect x="381" width="1.3" fill="#4d4ebe"/>
<rect x="382" width="1.3" fill="#5253ba"/>
<rect x="383" width="1.3" fill="#3f40ca"/>
<rect x="384" width="1.3" fill="#5859b4"/>
<rect x="385" width="1.3" fill="#3e3fcb"/>
<rect x="386" width="1.3" fill="#3436d3"/>
<rect x="387" width="1.3" fill="#3f41c9"/>
<rect x="388" width="1.3" fill="#6f6fa1"/>
<rect x="389" width="1.3" fill="#7b7b97"/>
<rect x="390" width="1.3" fill="#74749d"/>
<rect x="391" width="1.3" fill="#7b7b97"/>
<rect x="392" width="1.3" fill="#6d6ea2"/>
<rect x="393" width="1.3" fill="#6262ac"/>
<rect x="394" width="1.3" fill="#7e7e94"/>
<rect x="395" width="1.3" fill="#8d8686"/>
<rect x="396" width="1.3" fill="#7e7e94"/>
<rect x="397" width="1.3" fill="#6869a7"/>
<rect x="398" width="1.3" fill="#828291"/>
<rect x="399" width="1.3" fill="#9e6f6f"/>
<rect x="400" width="1.3" fill="#a66464"/>
<rect x="401" width="1.3" fill="#a16b6b"/>
<rect x="402" width="1.3" fill="#987878"/>
<rect x="403" width="1.3" fill="#8a8a8a"/>
<rect x="404" width="1.3" fill="#76769b"/>
<rect x="405" width="1.3" fill="#7e7e94"/>
<rect x="406" width="1.3" fill="#927f7f"/>
<rect x="407" width="1.3" fill="#937e7e"/>
<rect x="408" width="1.3" fill="#987777"/>
<rect x="409" width="1.3" fill="#957b7b"/>
<rect x="410" width="1.3" fill="#918181"/>
<rect x="411" width="1.3" fill="#8b8989"/>
<rect x="412" width="1.3" fill="#85858f"/>
<rect x="413" width="1.3" fill="#8c8787"/>
<rect x="414" width="1.3" fill="#8b8989"/>
<rect x="415" width="1.3" fill="#8d8585"/>
<rect x="416" width="1.3" fill="#918080"/>
<rect x="417" width="1.3" fill="#84858f"/>
<rect x="418" width="1.3" fill="#3537d2"/>
<rect x="419" width="1.3" fill="#3436d3"/>
<rect x="420" width="1.3" fill="#383acf"/>
<rect x="421" width="1.3" fill="#3335d4"/>
<rect x="422" width="1.3" fill="#2729de"/>
<rect x="423" width="1.3" fill="#2b2cdb"/>
<rect x="424" width="1.3" fill="#2a2cdb"/>
<rect x="425" width="1.3" fill="#696aa6"/>
<rect x="426" width="1.3" fill="#7e7e94"/>
<rect x="427" width="1.3" fill="#5b5cb2"/>
<rect x="428" width="1.3" fill="#4f50bc"/>
<rect x="429" width="1.3" fill="#5354b9"/>
<rect x="430" width="1.3" fill="#5b5cb2"/>
<rect x="431" width="1.3" fill="#6667a9"/>
<rect x="432" width="1.3" fill="#6161ad"/>
<rect x="433" width="1.3" fill="#6a6aa5"/>
<rect x="434" width="1.3" fill="#7171a0"/>
<rect x="435" width="1.3" fill="#6f6fa1"/>
<rect x="436" width="1.3" fill="#6263ac"/>
<rect x="437" width="1.3" fill="#5758b6"/>
<rect x="438" width="1.3" fill="#5657b6"/>
<rect x="439" width="1.3" fill="#4a4bc1"/>
<rect x="440" width="1.3" fill="#4f50bc"/>
<rect x="441" width="1.3" fill="#494bc1"/>
<rect x="442" width="1.3" fill="#5051bc"/>
<rect x="443" width="1.3" fill="#4a4bc1"/>
<rect x="444" width="1.3" fill="#4f50bc"/>
<rect x="445" width="1.3" fill="#5152bb"/>
<rect x="446" width="1.3" fill="#4e4fbd"/>
<rect x="447" width="1.3" fill="#6969a6"/>
<rect x="448" width="1.3" fill="#8a8a8a"/>
<rect x="449" width="1.3" fill="#838390"/>
<rect x="450" width="1.3" fill="#818192"/>
<rect x="451" width="1.3" fill="#7f7f94"/>
<rect x="452" width="1.3" fill="#7d7e95"/>
<rect x="453" width="0.5" fill="#88888c"/>
</g>
<g transform="translate(0 141.33)">
<rect x="172.2" width="1.1" fill="#4041c9"/>
<rect x="173" width="1.3" fill="#494ac1"/>
<rect x="174" width="1.3" fill="#4a4bc1"/>
<rect x="175" width="1.3" fill="#6161ad"/>
<rect x="176" width="1.3" fill="#7b7b97"/>
<rect x="177" width="1.3" fill="#72729e"/>
<rect x="178" width="1.3" fill="#6263ac"/>
<rect x="179" width="1.3" fill="#6768a8"/>
<rect x="180" width="1.3" fill="#5f5faf"/>
<rect x="181" width="1.3" fill="#5e5faf"/>
<rect x="182" width="1.3" fill="#5556b7"/>
<rect x="183" width="1.3" fill="#5b5cb2"/>
<rect x="184" width="1.3" fill="#6363ab"/>
<rect x="185" width="1.3" fill="#6162ad"/>
<rect x="186" width="1.3" fill="#5b5cb2"/>
<rect x="187" width="1.3" fill="#383ad0"/>
<rect x="188" width="1.3" fill="#5657b7"/>
<rect x="189" width="1.3" fill="#4c4dbf"/>
<rect x="190" width="1.3" fill="#5859b4"/>
<rect x="191" width="1.3" fill="#927f7f"/>
<rect x="192" width="1.3" fill="#987878"/>
<rect x="193" width="1.3" fill="#9a7474"/>
<rect x="194" width="1.3" fill="#808092"/>
<rect x="195" width="1.3" fill="#85858e"/>
<rect x="196" width="1.3" fill="#848490"/>
<rect x="197" width="1.3" fill="#7e7f94"/>
<rect x="198" width="1.3" fill="#7d7d95"/>
<rect x="199" width="1.3" fill="#808093"/>
<rect x="200" width="1.3" fill="#9b7373"/>
<rect x="201" width="1.3" fill="#918080"/>
<rect x="202" width="1.3" fill="#86868e"/>
<rect x="203" width="1.3" fill="#7a7b97"/>
<rect x="204" width="1.3" fill="#77779a"/>
<rect x="205" width="1.3" fill="#86868d"/>
<rect x="206" width="1.3" fill="#967979"/>
<rect x="207" width="1.3" fill="#9f6d6d"/>
<rect x="208" width="1.3" fill="#a56666"/>
<rect x="209" width="1.3" fill="#9e6f6f"/>
<rect x="210" width="1.3" fill="#997575"/>
<rect x="211" width="2.3" fill="#9e6f6f"/>
<rect x="213" width="1.3" fill="#9c7171"/>
<rect x="214" width="1.3" fill="#987777"/>
<rect x="215" width="2.3" fill="#997676"/>
<rect x="217" width="1.3" fill="#bf4242"/>
<rect x="218" width="2.3" fill="#bd4545"/>
<rect x="220" width="1.3" fill="#bc4747"/>
<rect x="221" width="1.3" fill="#c14040"/>
<rect x="222" width="1.3" fill="#c13f3f"/>
<rect x="223" width="1.3" fill="#b64e4e"/>
<rect x="224" width="1.3" fill="#b15656"/>
<rect x="225" width="1.3" fill="#ab5d5d"/>
<rect x="226" width="1.3" fill="#a56565"/>
<rect x="227" width="1.3" fill="#a96060"/>
<rect x="228" width="1.3" fill="#b55050"/>
<rect x="229" width="1.3" fill="#ba4a4a"/>
<rect x="230" width="1.3" fill="#c73838"/>
<rect x="231" width="1.3" fill="#c23e3e"/>
<rect x="232" width="1.3" fill="#aa5e5e"/>
<rect x="233" width="1.3" fill="#a56666"/>
<rect x="234" width="1.3" fill="#aa5e5e"/>
<rect x="235" width="1.3" fill="#b05757"/>
<rect x="236" width="1.3" fill="#b74e4e"/>
<rect x="237" width="1.3" fill="#ad5a5a"/>
<rect x="238" width="1.3" fill="#ae5959"/>
<rect x="239" width="1.3" fill="#ab5e5e"/>
<rect x="240" width="1.3" fill="#ac5c5c"/>
<rect x="241" width="1.3" fill="#ae5a5a"/>
<rect x="242" width="1.3" fill="#b25454"/>
<rect x="243" width="1.3" fill="#af5858"/>
<rect x="244" width="1.3" fill="#b64e4e"/>
<rect x="245" width="1.3" fill="#b55050"/>
<rect x="246" width="1.3" fill="#b74e4e"/>
<rect x="247" width="1.3" fill="#b55050"/>
<rect x="248" width="1.3" fill="#bb4848"/>
<rect x="249" width="1.3" fill="#cb3232"/>
<rect x="250" width="1.3" fill="#c93535"/>
<rect x="251" width="1.3" fill="#b45151"/>
<rect x="252" width="1.3" fill="#957b7b"/>
<rect x="253" width="1.3" fill="#908181"/>
<rect x="254" width="1.3" fill="#787899"/>
<rect x="255" width="1.3" fill="#8d8686"/>
<rect x="256" width="1.3" fill="#927f7f"/>
<rect x="257" width="1.3" fill="#a56565"/>
<rect x="258" width="1.3" fill="#b25454"/>
<rect x="259" width="1.3" fill="#a86161"/>
<rect x="260" width="1.3" fill="#a76363"/>
<rect x="261" width="1.3" fill="#977878"/>
<rect x="262" width="1.3" fill="#8a8a8a"/>
<rect x="263" width="1.3" fill="#88888b"/>
<rect x="264" width="1.3" fill="#918080"/>
<rect x="265" width="1.3" fill="#a26969"/>
<rect x="266" width="1.3" fill="#b05656"/>
<rect x="267" width="1.3" fill="#a76363"/>
<rect x="268" width="1.3" fill="#ae5a5a"/>
<rect x="269" width="2.3" fill="#a56565"/>
<rect x="271" width="1.3" fill="#8b8989"/>
<rect x="272" width="1.3" fill="#6363ab"/>
<rect x="273" width="1.3" fill="#6464ab"/>
<rect x="274" width="1.3" fill="#6b6ca4"/>
<rect x="275" width="1.3" fill="#9a7474"/>
<rect x="276" width="1.3" fill="#af5858"/>
<rect x="277" width="1.3" fill="#b35252"/>
<rect x="278" width="1.3" fill="#8b8989"/>
<rect x="279" width="1.3" fill="#89898b"/>
<rect x="280" width="1.3" fill="#5253b9"/>
<rect x="281" width="1.3" fill="#4a4bc0"/>
<rect x="282" width="1.3" fill="#4e4fbd"/>
<rect x="283" width="1.3" fill="#6868a7"/>
<rect x="284" width="1.3" fill="#6e6fa2"/>
<rect x="285" width="1.3" fill="#5c5cb1"/>
<rect x="286" width="1.3" fill="#5152ba"/>
<rect x="287" width="1.3" fill="#4b4cbf"/>
<rect x="288" width="1.3" fill="#4849c2"/>
<rect x="289" width="1.3" fill="#4647c4"/>
<rect x="290" width="1.3" fill="#4445c6"/>
<rect x="291" width="1.3" fill="#4e4fbd"/>
<rect x="292" width="1.3" fill="#393bcf"/>
<rect x="293" width="1.3" fill="#4041c9"/>
<rect x="294" width="1.3" fill="#6667a8"/>
<rect x="295" width="1.3" fill="#5455b8"/>
<rect x="296" width="1.3" fill="#4b4cc0"/>
<rect x="297" width="1.3" fill="#5657b6"/>
<rect x="298" width="1.3" fill="#5e5faf"/>
<rect x="299" width="1.3" fill="#6566a9"/>
<rect x="300" width="1.3" fill="#5e5eb0"/>
<rect x="301" width="1.3" fill="#6565aa"/>
<rect x="302" width="1.3" fill="#7e7e94"/>
<rect x="303" width="1.3" fill="#6a6ba5"/>
<rect x="304" width="1.3" fill="#3b3ccd"/>
<rect x="305" width="1.3" fill="#2e30d8"/>
<rect x="306" width="1.3" fill="#2b2ddb"/>
<rect x="307" width="1.3" fill="#2f31d7"/>
<rect x="308" width="1.3" fill="#5152ba"/>
<rect x="309" width="1.3" fill="#5556b7"/>
<rect x="310" width="1.3" fill="#5d5eb0"/>
<rect x="311" width="1.3" fill="#6868a7"/>
<rect x="312" width="1.3" fill="#6666a9"/>
<rect x="313" width="1.3" fill="#595ab3"/>
<rect x="314" width="1.3" fill="#4e4fbd"/>
<rect x="315" width="1.3" fill="#4748c3"/>
<rect x="316" width="1.3" fill="#3d3fcb"/>
<rect x="317" width="1.3" fill="#484ac2"/>
<rect x="318" width="1.3" fill="#4c4dbf"/>
<rect x="319" width="1.3" fill="#4d4ebe"/>
<rect x="320" width="1.3" fill="#4b4dbf"/>
<rect x="321" width="1.3" fill="#6263ac"/>
<rect x="322" width="1.3" fill="#696aa6"/>
<rect x="323" width="1.3" fill="#6465aa"/>
<rect x="324" width="1.3" fill="#4d4ebe"/>
<rect x="325" width="1.3" fill="#6364ab"/>
<rect x="326" width="1.3" fill="#696aa6"/>
<rect x="327" width="1.3" fill="#967a7a"/>
<rect x="328" width="1.3" fill="#a56666"/>
<rect x="329" width="1.3" fill="#9e6f6f"/>
<rect x="330" width="1.3" fill="#937e7e"/>
<rect x="331" width="1.3" fill="#6565aa"/>
<rect x="332" width="1.3" fill="#494ac1"/>
<rect x="333" width="1.3" fill="#5e5faf"/>
<rect x="334" width="1.3" fill="#927f7f"/>
<rect x="335" width="1.3" fill="#918181"/>
<rect x="336" width="1.3" fill="#7a7b97"/>
<rect x="337" width="1.3" fill="#828291"/>
<rect x="338" width="1.3" fill="#7c7c96"/>
<rect x="339" width="1.3" fill="#6c6ca4"/>
<rect x="340" width="1.3" fill="#6868a7"/>
<rect x="341" width="1.3" fill="#6667a9"/>
<rect x="342" width="1.3" fill="#6767a8"/>
<rect x="343" width="1.3" fill="#5f5faf"/>
<rect x="344" width="1.3" fill="#6465aa"/>
<rect x="345" width="1.3" fill="#6566a9"/>
<rect x="346" width="1.3" fill="#5f60ae"/>
<rect x="347" width="1.3" fill="#6b6ba5"/>
<rect x="348" width="1.3" fill="#818191"/>
<rect x="349" width="1.3" fill="#6e6fa2"/>
<rect x="350" width="1.3" fill="#4a4bc0"/>
<rect x="351" width="1.3" fill="#4243c7"/>
<rect x="352" width="1.3" fill="#3b3dcd"/>
<rect x="353" width="1.3" fill="#4647c4"/>
<rect x="354" width="1.3" fill="#4e4fbd"/>
<rect x="355" width="1.3" fill="#5051bc"/>
<rect x="356" width="1.3" fill="#5657b6"/>
<rect x="357" width="2.3" fill="#5f60ae"/>
<rect x="359" width="1.3" fill="#6667a8"/>
<rect x="360" width="1.3" fill="#6061ae"/>
<rect x="361" width="1.3" fill="#5b5cb2"/>
<rect x="362" width="1.3" fill="#5a5bb3"/>
<rect x="363" width="1.3" fill="#6465aa"/>
<rect x="364" width="1.3" fill="#5758b6"/>
<rect x="365" width="1.3" fill="#4d4ebe"/>
<rect x="366" width="1.3" fill="#5152bb"/>
<rect x="367" width="1.3" fill="#3e3fcb"/>
<rect x="368" width="1.3" fill="#393bce"/>
<rect x="369" width="1.3" fill="#3c3ecc"/>
<rect x="370" width="1.3" fill="#5051bb"/>
<rect x="371" width="1.3" fill="#4244c7"/>
<rect x="372" width="1.3" fill="#4546c5"/>
<rect x="373" width="1.3" fill="#4042c9"/>
<rect x="374" width="1.3" fill="#4243c7"/>
<rect x="375" width="1.3" fill="#3d3ecc"/>
<rect x="376" width="1.3" fill="#5253ba"/>
<rect x="377" width="1.3" fill="#6364ab"/>
<rect x="378" width="1.3" fill="#6767a8"/>
<rect x="379" width="1.3" fill="#5657b6"/>
<rect x="380" width="1.3" fill="#5859b4"/>
<rect x="381" width="2.3" fill="#4748c3"/>
<rect x="383" width="2.3" fill="#494ac1"/>
<rect x="385" width="1.3" fill="#4647c4"/>
<rect x="386" width="1.3" fill="#292add"/>
<rect x="387" width="1.3" fill="#3436d3"/>
<rect x="388" width="1.3" fill="#6b6ca4"/>
<rect x="389" width="1.3" fill="#7b7b97"/>
<rect x="390" width="1.3" fill="#787899"/>
<rect x="391" width="1.3" fill="#75759c"/>
<rect x="392" width="1.3" fill="#6d6da3"/>
<rect x="393" width="1.3" fill="#6f6fa1"/>
<rect x="394" width="1.3" fill="#75769c"/>
<rect x="395" width="1.3" fill="#977878"/>
<rect x="396" width="1.3" fill="#927f7f"/>
<rect x="397" width="1.3" fill="#8b8888"/>
<rect x="398" width="1.3" fill="#8f8383"/>
<rect x="399" width="1.3" fill="#ab5d5d"/>
<rect x="400" width="1.3" fill="#ac5c5c"/>
<rect x="401" width="1.3" fill="#ac5d5d"/>
<rect x="402" width="1.3" fill="#a76262"/>
<rect x="403" width="1.3" fill="#997676"/>
<rect x="404" width="1.3" fill="#947d7d"/>
<rect x="405" width="1.3" fill="#967979"/>
<rect x="406" width="1.3" fill="#a36969"/>
<rect x="407" width="1.3" fill="#a06d6d"/>
<rect x="408" width="1.3" fill="#aa5e5e"/>
<rect x="409" width="1.3" fill="#a16b6b"/>
<rect x="410" width="1.3" fill="#987676"/>
<rect x="411" width="1.3" fill="#967a7a"/>
<rect x="412" width="1.3" fill="#937e7e"/>
<rect x="413" width="1.3" fill="#947c7c"/>
<rect x="414" width="1.3" fill="#9a7575"/>
<rect x="415" width="1.3" fill="#9f6e6e"/>
<rect x="416" width="1.3" fill="#a06c6c"/>
<rect x="417" width="1.3" fill="#9c7171"/>
<rect x="418" width="1.3" fill="#3335d4"/>
<rect x="419" width="1.3" fill="#3638d1"/>
<rect x="420" width="1.3" fill="#3536d2"/>
<rect x="421" width="1.3" fill="#2f31d7"/>
<rect x="422" width="1.3" fill="#2325e2"/>
<rect x="423" width="1.3" fill="#2e30d8"/>
<rect x="424" width="1.3" fill="#2c2eda"/>
<rect x="425" width="1.3" fill="#6b6ca4"/>
<rect x="426" width="1.3" fill="#86868d"/>
<rect x="427" width="1.3" fill="#595ab3"/>
<rect x="428" width="1.3" fill="#4546c5"/>
<rect x="429" width="1.3" fill="#5657b6"/>
<rect x="430" width="1.3" fill="#5f60ae"/>
<rect x="431" width="1.3" fill="#6969a6"/>
<rect x="432" width="1.3" fill="#696aa6"/>
<rect x="433" width="1.3" fill="#6566a9"/>
<rect x="434" width="1.3" fill="#77779a"/>
<rect x="435" width="1.3" fill="#6e6fa2"/>
<rect x="436" width="1.3" fill="#5f60ae"/>
<rect x="437" width="1.3" fill="#5556b7"/>
<rect x="438" width="1.3" fill="#5657b6"/>
<rect x="439" width="1.3" fill="#5758b5"/>
<rect x="440" width="1.3" fill="#4a4bc0"/>
<rect x="441" width="1.3" fill="#5455b8"/>
<rect x="442" width="1.3" fill="#5253b9"/>
<rect x="443" width="1.3" fill="#5051bb"/>
<rect x="444" width="1.3" fill="#4244c7"/>
<rect x="445" width="1.3" fill="#4e4fbd"/>
<rect x="446" width="1.3" fill="#595ab3"/>
<rect x="447" width="1.3" fill="#696aa6"/>
<rect x="448" width="1.3" fill="#a76363"/>
<rect x="449" width="1.3" fill="#9b7373"/>
<rect x="450" width="1.3" fill="#9e7070"/>
<rect x="451" width="1.3" fill="#9b7272"/>
<rect x="452" width="1.3" fill="#9f6e6e"/>
<rect x="453" width="0.5" fill="#9e6f6f"/>
</g>
<g transform="translate(0 157.79)">
<rect x="172.2" width="1.1" fill="#7b7b97"/>
<rect x="173" width="1.3" fill="#797a98"/>
<rect x="174" width="1.3" fill="#838390"/>
<rect x="175" width="1.3" fill="#828291"/>
<rect x="176" width="1.3" fill="#7d7d95"/>
<rect x="177" width="1.3" fill="#8b8888"/>
<rect x="178" width="1.3" fill="#797998"/>
<rect x="179" width="1.3" fill="#787899"/>
<rect x="180" width="1.3" fill="#74759c"/>
<rect x="181" width="1.3" fill="#6e6ea2"/>
<rect x="182" width="1.3" fill="#7c7c96"/>
<rect x="183" width="1.3" fill="#808092"/>
<rect x="184" width="1.3" fill="#71729f"/>
<rect x="185" width="1.3" fill="#6b6ca4"/>
<rect x="186" width="1.3" fill="#71719f"/>
<rect x="187" width="1.3" fill="#5556b7"/>
<rect x="188" width="1.3" fill="#6263ac"/>
<rect x="189" width="1.3" fill="#6e6ea2"/>
<rect x="190" width="1.3" fill="#6768a7"/>
<rect x="191" width="1.3" fill="#9d7070"/>
<rect x="192" width="1.3" fill="#9d7171"/>
<rect x="193" width="1.3" fill="#977878"/>
<rect x="194" width="1.3" fill="#908383"/>
<rect x="195" width="1.3" fill="#87878c"/>
<rect x="196" width="1.3" fill="#937e7e"/>
<rect x="197" width="1.3" fill="#8c8888"/>
<rect x="198" width="1.3" fill="#84848f"/>
<rect x="199" width="1.3" fill="#8d8686"/>
<rect x="200" width="1.3" fill="#a86262"/>
<rect x="201" width="1.3" fill="#967a7a"/>
<rect x="202" width="1.3" fill="#85858e"/>
<rect x="203" width="1.3" fill="#88888c"/>
<rect x="204" width="1.3" fill="#8b8888"/>
<rect x="205" width="1.3" fill="#8a8989"/>
<rect x="206" width="1.3" fill="#9a7575"/>
<rect x="207" width="1.3" fill="#a56666"/>
<rect x="208" width="1.3" fill="#a26a6a"/>
<rect x="209" width="1.3" fill="#9d7171"/>
<rect x="210" width="1.3" fill="#9e6f6f"/>
<rect x="211" width="1.3" fill="#a16a6a"/>
<rect x="212" width="1.3" fill="#a76363"/>
<rect x="213" width="2.3" fill="#a56666"/>
<rect x="215" width="1.3" fill="#a26a6a"/>
<rect x="216" width="1.3" fill="#9b7373"/>
<rect x="217" width="1.3" fill="#bf4343"/>
<rect x="218" width="1.3" fill="#bf4242"/>
<rect x="219" width="1.3" fill="#be4343"/>
<rect x="220" width="1.3" fill="#bf4242"/>
<rect x="221" width="1.3" fill="#be4444"/>
<rect x="222" width="1.3" fill="#bf4242"/>
<rect x="223" width="1.3" fill="#b45252"/>
<rect x="224" width="1.3" fill="#ab5e5e"/>
<rect x="225" width="1.3" fill="#a06d6d"/>
<rect x="226" width="1.3" fill="#a96060"/>
<rect x="227" width="1.3" fill="#a46666"/>
<rect x="228" width="1.3" fill="#ab5d5d"/>
<rect x="229" width="1.3" fill="#b94b4b"/>
<rect x="230" width="1.3" fill="#bf4343"/>
<rect x="231" width="1.3" fill="#b94b4b"/>
<rect x="232" width="1.3" fill="#a86262"/>
<rect x="233" width="1.3" fill="#a46767"/>
<rect x="234" width="1.3" fill="#9f6e6e"/>
<rect x="235" width="1.3" fill="#b45151"/>
<rect x="236" width="1.3" fill="#b25454"/>
<rect x="237" width="1.3" fill="#ad5b5b"/>
<rect x="238" width="1.3" fill="#b15555"/>
<rect x="239" width="1.3" fill="#ac5c5c"/>
<rect x="240" width="1.3" fill="#a96060"/>
<rect x="241" width="1.3" fill="#b15555"/>
<rect x="242" width="1.3" fill="#af5858"/>
<rect x="243" width="2.3" fill="#b25454"/>
<rect x="245" width="1.3" fill="#b64f4f"/>
<rect x="246" width="1.3" fill="#b45151"/>
<rect x="247" width="1.3" fill="#b84c4c"/>
<rect x="248" width="1.3" fill="#b94a4a"/>
<rect x="249" width="1.3" fill="#cc3131"/>
<rect x="250" width="1.3" fill="#c53b3b"/>
<rect x="251" width="1.3" fill="#b94b4b"/>
<rect x="252" width="1.3" fill="#9a7575"/>
<rect x="253" width="2.3" fill="#84848f"/>
<rect x="255" width="1.3" fill="#918080"/>
<rect x="256" width="1.3" fill="#927f7f"/>
<rect x="257" width="1.3" fill="#a36969"/>
<rect x="258" width="1.3" fill="#af5757"/>
<rect x="259" width="1.3" fill="#a86161"/>
<rect x="260" width="1.3" fill="#aa5f5f"/>
<rect x="261" width="1.3" fill="#967a7a"/>
<rect x="262" width="1.3" fill="#88888c"/>
<rect x="263" width="1.3" fill="#87878c"/>
<rect x="264" width="1.3" fill="#928080"/>
<rect x="265" width="1.3" fill="#a46767"/>
<rect x="266" width="1.3" fill="#a76363"/>
<rect x="267" width="1.3" fill="#ad5b5b"/>
<rect x="268" width="1.3" fill="#a36868"/>
<rect x="269" width="1.3" fill="#a96161"/>
<rect x="270" width="1.3" fill="#a16b6b"/>
<rect x="271" width="1.3" fill="#8a8a8a"/>
<rect x="272" width="1.3" fill="#75759c"/>
<rect x="273" width="1.3" fill="#5c5db1"/>
<rect x="274" width="1.3" fill="#76769b"/>
<rect x="275" width="1.3" fill="#9b7373"/>
<rect x="276" width="1.3" fill="#a76363"/>
<rect x="277" width="1.3" fill="#b35353"/>
<rect x="278" width="1.3" fill="#7a7a98"/>
<rect x="279" width="1.3" fill="#72729f"/>
<rect x="280" width="1.3" fill="#3b3ccd"/>
<rect x="281" width="1.3" fill="#3032d6"/>
<rect x="282" width="1.3" fill="#4042c9"/>
<rect x="283" width="1.3" fill="#6061ae"/>
<rect x="284" width="1.3" fill="#6566a9"/>
<rect x="285" width="1.3" fill="#4243c7"/>
<rect x="286" width="1.3" fill="#3536d2"/>
<rect x="287" width="1.3" fill="#3f40ca"/>
<rect x="288" width="1.3" fill="#3839d0"/>
<rect x="289" width="1.3" fill="#3b3dcd"/>
<rect x="290" width="1.3" fill="#3537d2"/>
<rect x="291" width="1.3" fill="#383ad0"/>
<rect x="292" width="1.3" fill="#2c2eda"/>
<rect x="293" width="1.3" fill="#383ad0"/>
<rect x="294" width="1.3" fill="#5a5bb3"/>
<rect x="295" width="1.3" fill="#4142c8"/>
<rect x="296" width="1.3" fill="#3738d1"/>
<rect x="297" width="1.3" fill="#4648c3"/>
<rect x="298" width="1.3" fill="#5657b6"/>
<rect x="299" width="1.3" fill="#5152bb"/>
<rect x="300" width="1.3" fill="#5e5faf"/>
<rect x="301" width="1.3" fill="#5a5bb3"/>
<rect x="302" width="1.3" fill="#6d6ea3"/>
<rect x="303" width="1.3" fill="#5b5cb2"/>
<rect x="304" width="1.3" fill="#2628df"/>
<rect x="305" width="3.3" fill="#2022e4"/>
<rect x="308" width="1.3" fill="#3032d6"/>
<rect x="309" width="1.3" fill="#3e40ca"/>
<rect x="310" width="1.3" fill="#595ab4"/>
<rect x="311" width="1.3" fill="#5354b9"/>
<rect x="312" width="1.3" fill="#5758b5"/>
<rect x="313" width="1.3" fill="#4748c3"/>
<rect x="314" width="1.3" fill="#3e3fcb"/>
<rect x="315" width="1.3" fill="#3a3bce"/>
<rect x="316" width="1.3" fill="#4041c9"/>
<rect x="317" width="1.3" fill="#3436d3"/>
<rect x="318" width="1.3" fill="#3f41ca"/>
<rect x="319" width="1.3" fill="#3f40ca"/>
<rect x="320" width="1.3" fill="#3d3fcb"/>
<rect x="321" width="1.3" fill="#5253b9"/>
<rect x="322" width="1.3" fill="#5657b6"/>
<rect x="323" width="1.3" fill="#4647c4"/>
<rect x="324" width="1.3" fill="#4546c5"/>
<rect x="325" width="1.3" fill="#4a4bc0"/>
<rect x="326" width="1.3" fill="#5556b7"/>
<rect x="327" width="1.3" fill="#808093"/>
<rect x="328" width="1.3" fill="#967979"/>
<rect x="329" width="1.3" fill="#927f7f"/>
<rect x="330" width="1.3" fill="#88888c"/>
<rect x="331" width="1.3" fill="#4e4fbd"/>
<rect x="332" width="1.3" fill="#3032d6"/>
<rect x="333" width="1.3" fill="#4c4dbf"/>
<rect x="334" width="1.3" fill="#7c7d96"/>
<rect x="335" width="1.3" fill="#77779a"/>
<rect x="336" width="1.3" fill="#6e6ea2"/>
<rect x="337" width="1.3" fill="#6e6fa2"/>
<rect x="338" width="1.3" fill="#6f6fa1"/>
<rect x="339" width="1.3" fill="#5a5bb3"/>
<rect x="340" width="1.3" fill="#5354b9"/>
<rect x="341" width="1.3" fill="#5152bb"/>
<rect x="342" width="1.3" fill="#4f50bc"/>
<rect x="343" width="1.3" fill="#4648c3"/>
<rect x="344" width="1.3" fill="#484ac2"/>
<rect x="345" width="1.3" fill="#4b4cc0"/>
<rect x="346" width="1.3" fill="#4849c2"/>
<rect x="347" width="1.3" fill="#5152ba"/>
<rect x="348" width="1.3" fill="#5d5eb0"/>
<rect x="349" width="1.3" fill="#5f5faf"/>
<rect x="350" width="1.3" fill="#4648c3"/>
<rect x="351" width="1.3" fill="#3739d0"/>
<rect x="352" width="1.3" fill="#3234d4"/>
<rect x="353" width="1.3" fill="#4243c7"/>
<rect x="354" width="1.3" fill="#3e3fcb"/>
<rect x="355" width="1.3" fill="#4647c4"/>
<rect x="356" width="1.3" fill="#4b4dbf"/>
<rect x="357" width="1.3" fill="#4e4fbd"/>
<rect x="358" width="1.3" fill="#5b5cb2"/>
<rect x="359" width="1.3" fill="#5859b5"/>
<rect x="360" width="1.3" fill="#6263ac"/>
<rect x="361" width="1.3" fill="#4e4fbd"/>
<rect x="362" width="1.3" fill="#5253b9"/>
<rect x="363" width="1.3" fill="#4749c3"/>
<rect x="364" width="1.3" fill="#5455b8"/>
<rect x="365" width="1.3" fill="#4344c6"/>
<rect x="366" width="1.3" fill="#4849c2"/>
<rect x="367" width="1.3" fill="#3839d0"/>
<rect x="368" width="1.3" fill="#3133d6"/>
<rect x="369" width="1.3" fill="#2b2dda"/>
<rect x="370" width="1.3" fill="#3a3cce"/>
<rect x="371" width="1.3" fill="#3032d6"/>
<rect x="372" width="2.3" fill="#3435d3"/>
<rect x="374" width="1.3" fill="#3334d4"/>
<rect x="375" width="1.3" fill="#3537d2"/>
<rect x="376" width="1.3" fill="#4647c4"/>
<rect x="377" width="1.3" fill="#5556b7"/>
<rect x="378" width="1.3" fill="#5f60af"/>
<rect x="379" width="1.3" fill="#5b5cb2"/>
<rect x="380" width="1.3" fill="#494ac1"/>
<rect x="381" width="1.3" fill="#494ac2"/>
<rect x="382" width="1.3" fill="#4748c3"/>
<rect x="383" width="1.3" fill="#4d4ebe"/>
<rect x="384" width="1.3" fill="#4547c4"/>
<rect x="385" width="1.3" fill="#4344c6"/>
<rect x="386" width="1.3" fill="#2a2cdc"/>
<rect x="387" width="1.3" fill="#3d3ecc"/>
<rect x="388" width="1.3" fill="#6a6ba5"/>
<rect x="389" width="1.3" fill="#797998"/>
<rect x="390" width="1.3" fill="#7c7c96"/>
<rect x="391" width="1.3" fill="#76779b"/>
<rect x="392" width="1.3" fill="#696aa6"/>
<rect x="393" width="1.3" fill="#72739e"/>
<rect x="394" width="1.3" fill="#7171a0"/>
<rect x="395" width="1.3" fill="#8f8383"/>
<rect x="396" width="1.3" fill="#828390"/>
<rect x="397" width="1.3" fill="#7c7d96"/>
<rect x="398" width="1.3" fill="#7d7e95"/>
<rect x="399" width="1.3" fill="#9c7272"/>
<rect x="400" width="2.3" fill="#ab5d5d"/>
<rect x="402" width="1.3" fill="#9e6e6e"/>
<rect x="403" width="1.3" fill="#8c8787"/>
<rect x="404" width="1.3" fill="#87878d"/>
<rect x="405" width="1.3" fill="#8c8888"/>
<rect x="406" width="1.3" fill="#927f7f"/>
<rect x="407" width="1.3" fill="#9c7272"/>
<rect x="408" width="1.3" fill="#9a7575"/>
<rect x="409" width="1.3" fill="#977878"/>
<rect x="410" width="1.3" fill="#937e7e"/>
<rect x="411" width="1.3" fill="#8a8a8a"/>
<rect x="412" width="1.3" fill="#8c8787"/>
<rect x="413" width="1.3" fill="#908282"/>
<rect x="414" width="1.3" fill="#957b7b"/>
<rect x="415" width="1.3" fill="#937e7e"/>
<rect x="416" width="1.3" fill="#947c7c"/>
<rect x="417" width="1.3" fill="#8d8686"/>
<rect x="418" width="1.3" fill="#3d3ecc"/>
<rect x="419" width="1.3" fill="#3b3dcd"/>
<rect x="420" width="1.3" fill="#3436d3"/>
<rect x="421" width="1.3" fill="#2d2fd9"/>
<rect x="422" width="1.3" fill="#2c2eda"/>
<rect x="423" width="1.3" fill="#2b2dda"/>
<rect x="424" width="1.3" fill="#3436d3"/>
<rect x="425" width="1.3" fill="#77779a"/>
<rect x="426" width="1.3" fill="#828291"/>
<rect x="427" width="1.3" fill="#5354b8"/>
<rect x="428" width="1.3" fill="#3c3ecc"/>
<rect x="429" width="1.3" fill="#5253ba"/>
<rect x="430" width="1.3" fill="#5f60ae"/>
<rect x="431" width="1.3" fill="#7171a0"/>
<rect x="432" width="1.3" fill="#6364ab"/>
<rect x="433" width="1.3" fill="#5a5bb2"/>
<rect x="434" width="1.3" fill="#6c6ca4"/>
<rect x="435" width="1.3" fill="#6e6ea2"/>
<rect x="436" width="1.3" fill="#5859b5"/>
<rect x="437" width="1.3" fill="#5556b7"/>
<rect x="438" width="1.3" fill="#5657b6"/>
<rect x="439" width="1.3" fill="#5455b7"/>
<rect x="440" width="1.3" fill="#5051bb"/>
<rect x="441" width="1.3" fill="#4c4dbe"/>
<rect x="442" width="1.3" fill="#5556b7"/>
<rect x="443" width="1.3" fill="#4c4dbf"/>
<rect x="444" width="1.3" fill="#4b4dbf"/>
<rect x="445" width="1.3" fill="#4748c3"/>
<rect x="446" width="1.3" fill="#5253ba"/>
<rect x="447" width="1.3" fill="#7171a0"/>
<rect x="448" width="1.3" fill="#a76363"/>
<rect x="449" width="1.3" fill="#a26a6a"/>
<rect x="450" width="1.3" fill="#a06c6c"/>
<rect x="451" width="1.3" fill="#9f6e6e"/>
<rect x="452" width="1.3" fill="#a16b6b"/>
<rect x="453" width="0.5" fill="#a26969"/>
</g>
<g transform="translate(0 174.24)">
<rect x="172.2" width="1.1" fill="#4748c3"/>
<rect x="173" width="1.3" fill="#4849c2"/>
<rect x="174" width="1.3" fill="#4c4dbf"/>
<rect x="175" width="1.3" fill="#7070a0"/>
<rect x="176" width="1.3" fill="#6d6ea3"/>
<rect x="177" width="1.3" fill="#77779a"/>
<rect x="178" width="1.3" fill="#7c7c96"/>
<rect x="179" width="1.3" fill="#71719f"/>
<rect x="180" width="1.3" fill="#7071a0"/>
<rect x="181" width="1.3" fill="#6364ab"/>
<rect x="182" width="1.3" fill="#6667a9"/>
<rect x="183" width="1.3" fill="#6869a7"/>
<rect x="184" width="1.3" fill="#6b6ca4"/>
<rect x="185" width="1.3" fill="#5f60ae"/>
<rect x="186" width="1.3" fill="#6263ac"/>
<rect x="187" width="2.3" fill="#494ac1"/>
<rect x="189" width="1.3" fill="#5152bb"/>
<rect x="190" width="1.3" fill="#6262ac"/>
<rect x="191" width="1.3" fill="#a46767"/>
<rect x="192" width="1.3" fill="#a16a6a"/>
<rect x="193" width="1.3" fill="#a66464"/>
<rect x="194" width="1.3" fill="#957b7b"/>
<rect x="195" width="1.3" fill="#918181"/>
<rect x="196" width="1.3" fill="#9a7474"/>
<rect x="197" width="1.3" fill="#947c7c"/>
<rect x="198" width="1.3" fill="#8e8484"/>
<rect x="199" width="1.3" fill="#937e7e"/>
<rect x="200" width="1.3" fill="#a76363"/>
<rect x="201" width="1.3" fill="#9a7575"/>
<rect x="202" width="1.3" fill="#947d7d"/>
<rect x="203" width="1.3" fill="#8e8585"/>
<rect x="204" width="1.3" fill="#8d8686"/>
<rect x="205" width="1.3" fill="#997575"/>
<rect x="206" width="1.3" fill="#a76363"/>
<rect x="207" width="1.3" fill="#ac5c5c"/>
<rect x="208" width="1.3" fill="#ab5d5d"/>
<rect x="209" width="1.3" fill="#aa5f5f"/>
<rect x="210" width="2.3" fill="#ac5d5d"/>
<rect x="212" width="1.3" fill="#b45252"/>
<rect x="213" width="1.3" fill="#aa5f5f"/>
<rect x="214" width="1.3" fill="#a86161"/>
<rect x="215" width="1.3" fill="#a36868"/>
<rect x="216" width="1.3" fill="#a76363"/>
<rect x="217" width="1.3" fill="#bf4343"/>
<rect x="218" width="1.3" fill="#c04141"/>
<rect x="219" width="1.3" fill="#bd4646"/>
<rect x="220" width="2.3" fill="#be4444"/>
<rect x="222" width="1.3" fill="#bf4242"/>
<rect x="223" width="1.3" fill="#ad5b5b"/>
<rect x="224" width="1.3" fill="#ae5959"/>
<rect x="225" width="1.3" fill="#a16b6b"/>
<rect x="226" width="1.3" fill="#a66464"/>
<rect x="227" width="1.3" fill="#a76363"/>
<rect x="228" width="1.3" fill="#aa5e5e"/>
<rect x="229" width="1.3" fill="#ba4949"/>
<rect x="230" width="1.3" fill="#bf4343"/>
<rect x="231" width="1.3" fill="#c33e3e"/>
<rect x="232" width="1.3" fill="#a56666"/>
<rect x="233" width="1.3" fill="#a86262"/>
<rect x="234" width="1.3" fill="#a86161"/>
<rect x="235" width="1.3" fill="#b15656"/>
<rect x="236" width="1.3" fill="#b25454"/>
<rect x="237" width="2.3" fill="#b35252"/>
<rect x="239" width="1.3" fill="#aa5e5e"/>
<rect x="240" width="1.3" fill="#ac5d5d"/>
<rect x="241" width="1.3" fill="#b05757"/>
<rect x="242" width="1.3" fill="#b15555"/>
<rect x="243" width="1.3" fill="#b64e4e"/>
<rect x="244" width="1.3" fill="#b15656"/>
<rect x="245" width="1.3" fill="#b45252"/>
<rect x="246" width="1.3" fill="#b25353"/>
<rect x="247" width="1.3" fill="#ba4949"/>
<rect x="248" width="1.3" fill="#b94a4a"/>
<rect x="249" width="1.3" fill="#c53a3a"/>
<rect x="250" width="1.3" fill="#c73838"/>
<rect x="251" width="1.3" fill="#ba4949"/>
<rect x="252" width="1.3" fill="#9a7575"/>
<rect x="253" width="1.3" fill="#808092"/>
<rect x="254" width="1.3" fill="#84848f"/>
<rect x="255" width="1.3" fill="#8b8989"/>
<rect x="256" width="1.3" fill="#977979"/>
<rect x="257" width="1.3" fill="#a66565"/>
<rect x="258" width="1.3" fill="#b15656"/>
<rect x="259" width="1.3" fill="#af5858"/>
<rect x="260" width="1.3" fill="#a56666"/>
<rect x="261" width="1.3" fill="#928080"/>
<rect x="262" width="1.3" fill="#8b8989"/>
<rect x="263" width="1.3" fill="#85868e"/>
<rect x="264" width="1.3" fill="#967a7a"/>
<rect x="265" width="1.3" fill="#9f6e6e"/>
<rect x="266" width="1.3" fill="#af5858"/>
<rect x="267" width="1.3" fill="#ae5959"/>
<rect x="268" width="1.3" fill="#aa5f5f"/>
<rect x="269" width="1.3" fill="#a76262"/>
<rect x="270" width="1.3" fill="#a26a6a"/>
<rect x="271" width="1.3" fill="#8d8686"/>
<rect x="272" width="1.3" fill="#78789a"/>
<rect x="273" width="1.3" fill="#6666a9"/>
<rect x="274" width="1.3" fill="#787899"/>
<rect x="275" width="1.3" fill="#9a7575"/>
<rect x="276" width="1.3" fill="#aa5f5f"/>
<rect x="277" width="1.3" fill="#b25454"/>
<rect x="278" width="1.3" fill="#88888b"/>
<rect x="279" width="1.3" fill="#75769c"/>
<rect x="280" width="1.3" fill="#4243c7"/>
<rect x="281" width="1.3" fill="#3a3cce"/>
<rect x="282" width="1.3" fill="#4344c7"/>
<rect x="283" width="1.3" fill="#5051bb"/>
<rect x="284" width="1.3" fill="#6162ac"/>
<rect x="285" width="1.3" fill="#4041c9"/>
<rect x="286" width="1.3" fill="#4546c5"/>
<rect x="287" width="1.3" fill="#4b4cbf"/>
<rect x="288" width="1.3" fill="#3839d0"/>
<rect x="289" width="1.3" fill="#3a3bce"/>
<rect x="290" width="1.3" fill="#383acf"/>
<rect x="291" width="1.3" fill="#383ad0"/>
<rect x="292" width="1.3" fill="#2f31d7"/>
<rect x="293" width="1.3" fill="#3f41c9"/>
<rect x="294" width="1.3" fill="#5758b6"/>
<rect x="295" width="1.3" fill="#4b4dbf"/>
<rect x="296" width="1.3" fill="#3537d2"/>
<rect x="297" width="1.3" fill="#4b4cc0"/>
<rect x="298" width="1.3" fill="#5b5cb2"/>
<rect x="299" width="1.3" fill="#5c5cb1"/>
<rect x="300" width="1.3" fill="#5455b7"/>
<rect x="301" width="1.3" fill="#5b5cb2"/>
<rect x="302" width="1.3" fill="#6a6aa5"/>
<rect x="303" width="1.3" fill="#5f60ae"/>
<rect x="304" width="1.3" fill="#3233d5"/>
<rect x="305" width="2.3" fill="#2022e4"/>
<rect x="307" width="1.3" fill="#2527e0"/>
<rect x="308" width="1.3" fill="#3b3dcd"/>
<rect x="309" width="1.3" fill="#4748c3"/>
<rect x="310" width="1.3" fill="#5a5bb3"/>
<rect x="311" width="1.3" fill="#595ab4"/>
<rect x="312" width="1.3" fill="#5b5cb2"/>
<rect x="313" width="1.3" fill="#5455b8"/>
<rect x="314" width="1.3" fill="#4a4bc1"/>
<rect x="315" width="1.3" fill="#3132d6"/>
<rect x="316" width="1.3" fill="#4143c8"/>
<rect x="317" width="1.3" fill="#3b3ccd"/>
<rect x="318" width="1.3" fill="#3f40ca"/>
<rect x="319" width="1.3" fill="#3d3ecc"/>
<rect x="320" width="1.3" fill="#3d3fcb"/>
<rect x="321" width="1.3" fill="#5556b7"/>
<rect x="322" width="1.3" fill="#5859b4"/>
<rect x="323" width="1.3" fill="#595ab3"/>
<rect x="324" width="1.3" fill="#3e40ca"/>
<rect x="325" width="1.3" fill="#5152ba"/>
<rect x="326" width="1.3" fill="#5b5cb2"/>
<rect x="327" width="1.3" fill="#88888c"/>
<rect x="328" width="1.3" fill="#918181"/>
<rect x="329" width="1.3" fill="#908181"/>
<rect x="330" width="1.3" fill="#7f7f93"/>
<rect x="331" width="1.3" fill="#4647c4"/>
<rect x="332" width="1.3" fill="#3537d2"/>
<rect x="333" width="1.3" fill="#494ac1"/>
<rect x="334" width="1.3" fill="#787999"/>
<rect x="335" width="1.3" fill="#787899"/>
<rect x="336" width="1.3" fill="#6c6ca4"/>
<rect x="337" width="1.3" fill="#71729f"/>
<rect x="338" width="1.3" fill="#75759c"/>
<rect x="339" width="1.3" fill="#5f5faf"/>
<rect x="340" width="1.3" fill="#5455b7"/>
<rect x="341" width="1.3" fill="#4c4dbf"/>
<rect x="342" width="1.3" fill="#4849c2"/>
<rect x="343" width="1.3" fill="#4446c5"/>
<rect x="344" width="1.3" fill="#5152ba"/>
<rect x="345" width="1.3" fill="#494ac1"/>
<rect x="346" width="1.3" fill="#4d4fbd"/>
<rect x="347" width="1.3" fill="#5152bb"/>
<rect x="348" width="1.3" fill="#6363ab"/>
<rect x="349" width="1.3" fill="#5e5eb0"/>
<rect x="350" width="1.3" fill="#4142c8"/>
<rect x="351" width="1.3" fill="#3839d0"/>
<rect x="352" width="1.3" fill="#3335d4"/>
<rect x="353" width="1.3" fill="#4041c9"/>
<rect x="354" width="1.3" fill="#3c3dcd"/>
<rect x="355" width="1.3" fill="#4547c4"/>
<rect x="356" width="1.3" fill="#4849c2"/>
<rect x="357" width="1.3" fill="#4a4bc0"/>
<rect x="358" width="1.3" fill="#5b5cb2"/>
<rect x="359" width="1.3" fill="#6969a6"/>
<rect x="360" width="1.3" fill="#5758b5"/>
<rect x="361" width="1.3" fill="#5b5cb2"/>
<rect x="362" width="1.3" fill="#5556b7"/>
<rect x="363" width="1.3" fill="#4b4cbf"/>
<rect x="364" width="1.3" fill="#4e4fbd"/>
<rect x="365" width="1.3" fill="#4647c4"/>
<rect x="366" width="1.3" fill="#4748c3"/>
<rect x="367" width="1.3" fill="#3e40ca"/>
<rect x="368" width="1.3" fill="#2527e0"/>
<rect x="369" width="1.3" fill="#3436d3"/>
<rect x="370" width="1.3" fill="#3f41c9"/>
<rect x="371" width="1.3" fill="#3637d1"/>
<rect x="372" width="1.3" fill="#3638d1"/>
<rect x="373" width="1.3" fill="#3a3cce"/>
<rect x="374" width="1.3" fill="#3739d0"/>
<rect x="375" width="1.3" fill="#3c3ecc"/>
<rect x="376" width="1.3" fill="#4d4ebe"/>
<rect x="377" width="1.3" fill="#5153ba"/>
<rect x="378" width="1.3" fill="#6566a9"/>
<rect x="379" width="1.3" fill="#6061ad"/>
<rect x="380" width="1.3" fill="#5959b4"/>
<rect x="381" width="1.3" fill="#4e50bd"/>
<rect x="382" width="1.3" fill="#4243c7"/>
<rect x="383" width="1.3" fill="#4a4bc1"/>
<rect x="384" width="1.3" fill="#4647c4"/>
<rect x="385" width="1.3" fill="#4142c8"/>
<rect x="386" width="2.3" fill="#3536d3"/>
<rect x="388" width="1.3" fill="#696aa6"/>
<rect x="389" width="1.3" fill="#7070a0"/>
<rect x="390" width="1.3" fill="#797998"/>
<rect x="391" width="1.3" fill="#787999"/>
<rect x="392" width="1.3" fill="#6d6ea2"/>
<rect x="393" width="1.3" fill="#6b6ca4"/>
<rect x="394" width="1.3" fill="#797998"/>
<rect x="395" width="1.3" fill="#89898b"/>
<rect x="396" width="1.3" fill="#73749d"/>
<rect x="397" width="1.3" fill="#6d6ea3"/>
<rect x="398" width="1.3" fill="#85858e"/>
<rect x="399" width="1.3" fill="#a26969"/>
<rect x="400" width="1.3" fill="#a56666"/>
<rect x="401" width="1.3" fill="#a16a6a"/>
<rect x="402" width="1.3" fill="#9d7171"/>
<rect x="403" width="1.3" fill="#908181"/>
<rect x="404" width="1.3" fill="#818192"/>
<rect x="405" width="1.3" fill="#8f8383"/>
<rect x="406" width="2.3" fill="#997575"/>
<rect x="408" width="1.3" fill="#9d7070"/>
<rect x="409" width="1.3" fill="#9b7373"/>
<rect x="410" width="1.3" fill="#927f7f"/>
<rect x="411" width="1.3" fill="#84848f"/>
<rect x="412" width="1.3" fill="#8d8585"/>
<rect x="413" width="1.3" fill="#8a8a8a"/>
<rect x="414" width="1.3" fill="#8d8686"/>
<rect x="415" width="1.3" fill="#928080"/>
<rect x="416" width="1.3" fill="#918181"/>
<rect x="417" width="1.3" fill="#8a8a8a"/>
<rect x="418" width="1.3" fill="#3132d6"/>
<rect x="419" width="1.3" fill="#3637d2"/>
<rect x="420" width="1.3" fill="#3d3ecb"/>
<rect x="421" width="1.3" fill="#3436d3"/>
<rect x="422" width="1.3" fill="#2c2eda"/>
<rect x="423" width="1.3" fill="#2e30d8"/>
<rect x="424" width="1.3" fill="#2c2dda"/>
<rect x="425" width="1.3" fill="#6f70a1"/>
<rect x="426" width="1.3" fill="#86868d"/>
<rect x="427" width="1.3" fill="#4e4fbd"/>
<rect x="428" width="1.3" fill="#3e3fcb"/>
<rect x="429" width="1.3" fill="#5152ba"/>
<rect x="430" width="2.3" fill="#5d5eb0"/>
<rect x="432" width="2.3" fill="#6465aa"/>
<rect x="434" width="1.3" fill="#74759c"/>
<rect x="435" width="1.3" fill="#6d6ea2"/>
<rect x="436" width="1.3" fill="#5d5eb0"/>
<rect x="437" width="1.3" fill="#5a5bb2"/>
<rect x="438" width="1.3" fill="#5758b5"/>
<rect x="439" width="2.3" fill="#4f50bc"/>
<rect x="441" width="1.3" fill="#5556b7"/>
<rect x="442" width="1.3" fill="#5455b8"/>
<rect x="443" width="1.3" fill="#5556b7"/>
<rect x="444" width="1.3" fill="#4546c4"/>
<rect x="445" width="1.3" fill="#4c4dbf"/>
<rect x="446" width="1.3" fill="#5455b8"/>
<rect x="447" width="1.3" fill="#6e6fa2"/>
<rect x="448" width="1.3" fill="#a36868"/>
<rect x="449" width="1.3" fill="#9c7272"/>
<rect x="450" width="1.3" fill="#9b7373"/>
<rect x="451" width="1.3" fill="#9a7474"/>
<rect x="452" width="1.3" fill="#997676"/>
<rect x="453" width="0.5" fill="#a16b6b"/>
</g>
<g transform="translate(0 190.7)">
<rect x="172.2" width="1.1" fill="#be4444"/>
<rect x="173" width="1.3" fill="#bf4242"/>
<rect x="174" width="1.3" fill="#c23e3e"/>
<rect x="175" width="1.3" fill="#6f70a1"/>
<rect x="176" width="1.3" fill="#72739e"/>
<rect x="177" width="1.3" fill="#6667a8"/>
<rect x="178" width="1.3" fill="#74749d"/>
<rect x="179" width="1.3" fill="#71719f"/>
<rect x="180" width="1.3" fill="#6a6aa6"/>
<rect x="181" width="1.3" fill="#5758b5"/>
<rect x="182" width="2.3" fill="#4748c3"/>
<rect x="184" width="1.3" fill="#4344c6"/>
<rect x="185" width="1.3" fill="#4344c7"/>
<rect x="186" width="1.3" fill="#4647c4"/>
<rect x="187" width="1.3" fill="#3d3ecb"/>
<rect x="188" width="1.3" fill="#393acf"/>
<rect x="189" width="1.3" fill="#3f41c9"/>
<rect x="190" width="1.3" fill="#2022e4"/>
<rect x="191" width="1.3" fill="#2527df"/>
<rect x="192" width="1.3" fill="#282add"/>
<rect x="193" width="1.3" fill="#3234d5"/>
<rect x="194" width="1.3" fill="#3334d4"/>
<rect x="195" width="1.3" fill="#3335d4"/>
<rect x="196" width="5.3" fill="#2022e4"/>
<rect x="201" width="1.3" fill="#2628df"/>
<rect x="202" width="1.3" fill="#3536d3"/>
<rect x="203" width="1.3" fill="#3d3fcb"/>
<rect x="204" width="1.3" fill="#3a3bce"/>
<rect x="205" width="1.3" fill="#3d3ecc"/>
<rect x="206" width="1.3" fill="#4243c7"/>
<rect x="207" width="1.3" fill="#3234d5"/>
<rect x="208" width="2.3" fill="#2d2fd9"/>
<rect x="210" width="1.3" fill="#2b2ddb"/>
<rect x="211" width="1.3" fill="#3132d6"/>
<rect x="212" width="1.3" fill="#2e30d8"/>
<rect x="213" width="1.3" fill="#3335d4"/>
<rect x="214" width="1.3" fill="#2b2dda"/>
<rect x="215" width="1.3" fill="#2022e4"/>
<rect x="216" width="1.3" fill="#2b2ddb"/>
<rect x="217" width="1.3" fill="#2527e0"/>
<rect x="218" width="1.3" fill="#2022e4"/>
<rect x="219" width="1.3" fill="#2b2ddb"/>
<rect x="220" width="1.3" fill="#4243c7"/>
<rect x="221" width="1.3" fill="#595ab4"/>
<rect x="222" width="1.3" fill="#5152ba"/>
<rect x="223" width="1.3" fill="#4142c8"/>
<rect x="224" width="1.3" fill="#393acf"/>
<rect x="225" width="1.3" fill="#2b2ddb"/>
<rect x="226" width="1.3" fill="#3537d2"/>
<rect x="227" width="1.3" fill="#2628de"/>
<rect x="228" width="1.3" fill="#2224e2"/>
<rect x="229" width="1.3" fill="#3234d5"/>
<rect x="230" width="1.3" fill="#3233d5"/>
<rect x="231" width="1.3" fill="#3335d4"/>
<rect x="232" width="1.3" fill="#3132d6"/>
<rect x="233" width="1.3" fill="#3f40ca"/>
<rect x="234" width="1.3" fill="#4546c5"/>
<rect x="235" width="1.3" fill="#3537d2"/>
<rect x="236" width="1.3" fill="#4244c7"/>
<rect x="237" width="1.3" fill="#2628df"/>
<rect x="238" width="1.3" fill="#2d2ed9"/>
<rect x="239" width="1.3" fill="#2325e2"/>
<rect x="240" width="1.3" fill="#2022e4"/>
<rect x="241" width="1.3" fill="#2426e1"/>
<rect x="242" width="1.3" fill="#2123e3"/>
<rect x="243" width="1.3" fill="#2022e4"/>
<rect x="244" width="1.3" fill="#2c2eda"/>
<rect x="245" width="1.3" fill="#282add"/>
<rect x="246" width="1.3" fill="#292add"/>
<rect x="247" width="1.3" fill="#4f50bc"/>
<rect x="248" width="1.3" fill="#4a4cc0"/>
<rect x="249" width="1.3" fill="#494ac1"/>
<rect x="250" width="1.3" fill="#4b4cbf"/>
<rect x="251" width="1.3" fill="#3a3bce"/>
<rect x="252" width="1.3" fill="#383ad0"/>
<rect x="253" width="1.3" fill="#3c3ecc"/>
<rect x="254" width="1.3" fill="#4546c5"/>
<rect x="255" width="1.3" fill="#4c4dbe"/>
<rect x="256" width="1.3" fill="#4f50bc"/>
<rect x="257" width="1.3" fill="#3b3ccd"/>
<rect x="258" width="1.3" fill="#74749d"/>
<rect x="259" width="1.3" fill="#74759c"/>
<rect x="260" width="1.3" fill="#6869a7"/>
<rect x="261" width="1.3" fill="#6667a8"/>
<rect x="262" width="1.3" fill="#5d5eb0"/>
<rect x="263" width="1.3" fill="#6868a7"/>
<rect x="264" width="1.3" fill="#5e5faf"/>
<rect x="265" width="1.3" fill="#4849c2"/>
<rect x="266" width="1.3" fill="#3a3cce"/>
<rect x="267" width="1.3" fill="#4b4dbf"/>
<rect x="268" width="1.3" fill="#6464ab"/>
<rect x="269" width="1.3" fill="#75759c"/>
<rect x="270" width="1.3" fill="#6869a7"/>
<rect x="271" width="1.3" fill="#4c4dbf"/>
<rect x="272" width="1.3" fill="#4d4ebe"/>
<rect x="273" width="1.3" fill="#6f6fa1"/>
<rect x="274" width="1.3" fill="#6869a7"/>
<rect x="275" width="1.3" fill="#6c6da3"/>
<rect x="276" width="2.3" fill="#6465aa"/>
<rect x="278" width="1.3" fill="#ae5959"/>
<rect x="279" width="1.3" fill="#b15656"/>
<rect x="280" width="1.3" fill="#c23e3e"/>
<rect x="281" width="1.3" fill="#d22929"/>
<rect x="282" width="2.3" fill="#d92020"/>
<rect x="284" width="1.3" fill="#d22929"/>
<rect x="285" width="1.3" fill="#ca3333"/>
<rect x="286" width="1.3" fill="#c33c3c"/>
<rect x="287" width="1.3" fill="#c43b3b"/>
<rect x="288" width="1.3" fill="#c23f3f"/>
<rect x="289" width="1.3" fill="#b74d4d"/>
<rect x="290" width="1.3" fill="#b84c4c"/>
<rect x="291" width="1.3" fill="#b45252"/>
<rect x="292" width="1.3" fill="#ac5c5c"/>
<rect x="293" width="1.3" fill="#a26969"/>
<rect x="294" width="1.3" fill="#9a7474"/>
<rect x="295" width="1.3" fill="#a16b6b"/>
<rect x="296" width="1.3" fill="#b05757"/>
<rect x="297" width="1.3" fill="#c43c3c"/>
<rect x="298" width="1.3" fill="#c53a3a"/>
<rect x="299" width="1.3" fill="#c33d3d"/>
<rect x="300" width="1.3" fill="#c33e3e"/>
<rect x="301" width="1.3" fill="#c43c3c"/>
<rect x="302" width="2.3" fill="#c04141"/>
<rect x="304" width="1.3" fill="#bc4747"/>
<rect x="305" width="1.3" fill="#bd4646"/>
<rect x="306" width="1.3" fill="#c23f3f"/>
<rect x="307" width="1.3" fill="#c33e3e"/>
<rect x="308" width="1.3" fill="#b45252"/>
<rect x="309" width="1.3" fill="#b15555"/>
<rect x="310" width="1.3" fill="#af5959"/>
<rect x="311" width="1.3" fill="#b25353"/>
<rect x="312" width="1.3" fill="#c63939"/>
<rect x="313" width="1.3" fill="#ca3434"/>
<rect x="314" width="1.3" fill="#c83737"/>
<rect x="315" width="1.3" fill="#c73838"/>
<rect x="316" width="1.3" fill="#c43c3c"/>
<rect x="317" width="1.3" fill="#b15555"/>
<rect x="318" width="1.3" fill="#b25454"/>
<rect x="319" width="1.3" fill="#b84b4b"/>
<rect x="320" width="1.3" fill="#bb4848"/>
<rect x="321" width="1.3" fill="#b94a4a"/>
<rect x="322" width="1.3" fill="#bc4646"/>
<rect x="323" width="1.3" fill="#c04242"/>
<rect x="324" width="1.3" fill="#c04141"/>
<rect x="325" width="1.3" fill="#b84c4c"/>
<rect x="326" width="1.3" fill="#b54f4f"/>
<rect x="327" width="1.3" fill="#bb4848"/>
<rect x="328" width="1.3" fill="#be4343"/>
<rect x="329" width="1.3" fill="#bd4545"/>
<rect x="330" width="2.3" fill="#b84c4c"/>
<rect x="332" width="1.3" fill="#b74d4d"/>
<rect x="333" width="1.3" fill="#bb4848"/>
<rect x="334" width="1.3" fill="#bd4545"/>
<rect x="335" width="1.3" fill="#bf4242"/>
<rect x="336" width="1.3" fill="#be4444"/>
<rect x="337" width="1.3" fill="#bc4646"/>
<rect x="338" width="1.3" fill="#bd4545"/>
<rect x="339" width="1.3" fill="#b94b4b"/>
<rect x="340" width="1.3" fill="#b74d4d"/>
<rect x="341" width="1.3" fill="#bb4848"/>
<rect x="342" width="1.3" fill="#bf4343"/>
<rect x="343" width="1.3" fill="#c43c3c"/>
<rect x="344" width="1.3" fill="#c14040"/>
<rect x="345" width="1.3" fill="#b84b4b"/>
<rect x="346" width="1.3" fill="#bf4343"/>
<rect x="347" width="1.3" fill="#bd4545"/>
<rect x="348" width="1.3" fill="#b94b4b"/>
<rect x="349" width="1.3" fill="#b05656"/>
<rect x="350" width="1.3" fill="#ad5b5b"/>
<rect x="351" width="1.3" fill="#b25454"/>
<rect x="352" width="1.3" fill="#b64f4f"/>
<rect x="353" width="1.3" fill="#b45151"/>
<rect x="354" width="1.3" fill="#b64f4f"/>
<rect x="355" width="1.3" fill="#b25454"/>
<rect x="356" width="1.3" fill="#b45252"/>
<rect x="357" width="1.3" fill="#c23e3e"/>
<rect x="358" width="1.3" fill="#bb4848"/>
<rect x="359" width="1.3" fill="#b94b4b"/>
<rect x="360" width="1.3" fill="#b74e4e"/>
<rect x="361" width="1.3" fill="#b94a4a"/>
<rect x="362" width="1.3" fill="#b84c4c"/>
<rect x="363" width="1.3" fill="#be4343"/>
<rect x="364" width="1.3" fill="#bb4848"/>
<rect x="365" width="1.3" fill="#ba4a4a"/>
<rect x="366" width="2.3" fill="#bd4545"/>
<rect x="368" width="1.3" fill="#bb4848"/>
<rect x="369" width="1.3" fill="#bb4747"/>
<rect x="370" width="1.3" fill="#bf4242"/>
<rect x="371" width="1.3" fill="#bf4343"/>
<rect x="372" width="1.3" fill="#c33c3c"/>
<rect x="373" width="1.3" fill="#bf4242"/>
<rect x="374" width="1.3" fill="#b84b4b"/>
<rect x="375" width="1.3" fill="#b55151"/>
<rect x="376" width="1.3" fill="#b25454"/>
<rect x="377" width="1.3" fill="#b35353"/>
<rect x="378" width="1.3" fill="#bc4646"/>
<rect x="379" width="1.3" fill="#bb4848"/>
<rect x="380" width="2.3" fill="#bd4545"/>
<rect x="382" width="1.3" fill="#b64e4e"/>
<rect x="383" width="1.3" fill="#b74d4d"/>
<rect x="384" width="1.3" fill="#bb4848"/>
<rect x="385" width="1.3" fill="#be4444"/>
<rect x="386" width="1.3" fill="#b64f4f"/>
<rect x="387" width="1.3" fill="#ae5959"/>
<rect x="388" width="1.3" fill="#ba4949"/>
<rect x="389" width="1.3" fill="#cb3232"/>
<rect x="390" width="1.3" fill="#d32828"/>
<rect x="391" width="1.3" fill="#d02c2c"/>
<rect x="392" width="1.3" fill="#bc4646"/>
<rect x="393" width="1.3" fill="#b94b4b"/>
<rect x="394" width="1.3" fill="#bd4444"/>
<rect x="395" width="1.3" fill="#ba4949"/>
<rect x="396" width="1.3" fill="#be4444"/>
<rect x="397" width="1.3" fill="#b64f4f"/>
<rect x="398" width="1.3" fill="#a86262"/>
<rect x="399" width="1.3" fill="#ac5c5c"/>
<rect x="400" width="1.3" fill="#b15555"/>
<rect x="401" width="1.3" fill="#b55050"/>
<rect x="402" width="1.3" fill="#c33d3d"/>
<rect x="403" width="1.3" fill="#c83636"/>
<rect x="404" width="1.3" fill="#c23e3e"/>
<rect x="405" width="1.3" fill="#b35252"/>
<rect x="406" width="1.3" fill="#af5858"/>
<rect x="407" width="1.3" fill="#b45151"/>
<rect x="408" width="1.3" fill="#b74e4e"/>
<rect x="409" width="1.3" fill="#ba4949"/>
<rect x="410" width="1.3" fill="#bc4747"/>
<rect x="411" width="1.3" fill="#b94a4a"/>
<rect x="412" width="1.3" fill="#ba4949"/>
<rect x="413" width="1.3" fill="#b25454"/>
<rect x="414" width="1.3" fill="#86868d"/>
<rect x="415" width="1.3" fill="#797998"/>
<rect x="416" width="1.3" fill="#5e5faf"/>
<rect x="417" width="1.3" fill="#5a5bb3"/>
<rect x="418" width="1.3" fill="#7d7d95"/>
<rect x="419" width="1.3" fill="#75759c"/>
<rect x="420" width="1.3" fill="#7d7d95"/>
<rect x="421" width="1.3" fill="#928080"/>
<rect x="422" width="1.3" fill="#a66565"/>
<rect x="423" width="1.3" fill="#9c7171"/>
<rect x="424" width="1.3" fill="#9d7070"/>
<rect x="425" width="1.3" fill="#957c7c"/>
<rect x="426" width="1.3" fill="#9c7171"/>
<rect x="427" width="1.3" fill="#9f6e6e"/>
<rect x="428" width="1.3" fill="#a06d6d"/>
<rect x="429" width="1.3" fill="#a56565"/>
<rect x="430" width="1.3" fill="#9e6f6f"/>
<rect x="431" width="1.3" fill="#a96161"/>
<rect x="432" width="1.3" fill="#9e7070"/>
<rect x="433" width="1.3" fill="#a96060"/>
<rect x="434" width="1.3" fill="#9c7171"/>
<rect x="435" width="1.3" fill="#595ab4"/>
<rect x="436" width="1.3" fill="#4243c7"/>
<rect x="437" width="1.3" fill="#4142c8"/>
<rect x="438" width="1.3" fill="#4547c4"/>
<rect x="439" width="1.3" fill="#3a3bce"/>
<rect x="440" width="1.3" fill="#2728de"/>
<rect x="441" width="6.3" fill="#2022e4"/>
<rect x="447" width="1.3" fill="#6667a9"/>
<rect x="448" width="1.3" fill="#6b6ba5"/>
<rect x="449" width="1.3" fill="#5f5faf"/>
<rect x="450" width="1.3" fill="#4546c5"/>
<rect x="451" width="1.3" fill="#3a3cce"/>
<rect x="452" width="1.3" fill="#3c3dcd"/>
<rect x="453" width="0.5" fill="#4b4dbf"/>
</g>
<g transform="translate(0 207.16)">
<rect x="172.2" width="1.1" fill="#bc4646"/>
<rect x="173" width="1.3" fill="#bc4747"/>
<rect x="174" width="1.3" fill="#c13f3f"/>
<rect x="175" width="1.3" fill="#6f6fa1"/>
<rect x="176" width="1.3" fill="#6667a8"/>
<rect x="177" width="1.3" fill="#6a6aa5"/>
<rect x="178" width="1.3" fill="#76769b"/>
<rect x="179" width="1.3" fill="#71719f"/>
<rect x="180" width="1.3" fill="#6868a7"/>
<rect x="181" width="1.3" fill="#4f50bc"/>
<rect x="182" width="1.3" fill="#4344c7"/>
<rect x="183" width="1.3" fill="#4445c6"/>
<rect x="184" width="1.3" fill="#4546c5"/>
<rect x="185" width="1.3" fill="#4647c4"/>
<rect x="186" width="1.3" fill="#494ac2"/>
<rect x="187" width="1.3" fill="#4849c2"/>
<rect x="188" width="1.3" fill="#4041c9"/>
<rect x="189" width="1.3" fill="#3d3fcb"/>
<rect x="190" width="2.3" fill="#2022e4"/>
<rect x="192" width="1.3" fill="#2a2cdb"/>
<rect x="193" width="1.3" fill="#2d2fd9"/>
<rect x="194" width="1.3" fill="#2e2fd8"/>
<rect x="195" width="1.3" fill="#2d2fd9"/>
<rect x="196" width="6.3" fill="#2022e4"/>
<rect x="202" width="1.3" fill="#3133d5"/>
<rect x="203" width="1.3" fill="#2e30d8"/>
<rect x="204" width="1.3" fill="#3335d4"/>
<rect x="205" width="1.3" fill="#4142c8"/>
<rect x="206" width="1.3" fill="#3a3bce"/>
<rect x="207" width="1.3" fill="#3133d6"/>
<rect x="208" width="1.3" fill="#2a2cdb"/>
<rect x="209" width="1.3" fill="#2b2ddb"/>
<rect x="210" width="1.3" fill="#2123e3"/>
<rect x="211" width="1.3" fill="#3233d5"/>
<rect x="212" width="1.3" fill="#292bdc"/>
<rect x="213" width="1.3" fill="#282ade"/>
<rect x="214" width="1.3" fill="#2628df"/>
<rect x="215" width="1.3" fill="#2527e0"/>
<rect x="216" width="2.3" fill="#2022e4"/>
<rect x="218" width="1.3" fill="#2527df"/>
<rect x="219" width="1.3" fill="#2426e0"/>
<rect x="220" width="1.3" fill="#3c3ecc"/>
<rect x="221" width="2.3" fill="#4e4fbd"/>
<rect x="223" width="1.3" fill="#4a4bc1"/>
<rect x="224" width="1.3" fill="#2c2ed9"/>
<rect x="225" width="1.3" fill="#2e2fd8"/>
<rect x="226" width="1.3" fill="#2a2bdc"/>
<rect x="227" width="1.3" fill="#3031d7"/>
<rect x="228" width="1.3" fill="#2325e2"/>
<rect x="229" width="1.3" fill="#2e30d8"/>
<rect x="230" width="1.3" fill="#2e2fd8"/>
<rect x="231" width="1.3" fill="#292bdc"/>
<rect x="232" width="1.3" fill="#3335d4"/>
<rect x="233" width="1.3" fill="#3e3fcb"/>
<rect x="234" width="1.3" fill="#3638d1"/>
<rect x="235" width="1.3" fill="#3738d1"/>
<rect x="236" width="1.3" fill="#3c3ecc"/>
<rect x="237" width="1.3" fill="#292bdc"/>
<rect x="238" width="1.3" fill="#2224e3"/>
<rect x="239" width="5.3" fill="#2022e4"/>
<rect x="244" width="1.3" fill="#282add"/>
<rect x="245" width="1.3" fill="#2e30d8"/>
<rect x="246" width="1.3" fill="#2729de"/>
<rect x="247" width="1.3" fill="#3436d3"/>
<rect x="248" width="1.3" fill="#4142c8"/>
<rect x="249" width="1.3" fill="#4344c6"/>
<rect x="250" width="1.3" fill="#4446c5"/>
<rect x="251" width="1.3" fill="#4041c9"/>
<rect x="252" width="1.3" fill="#3a3bce"/>
<rect x="253" width="1.3" fill="#3738d1"/>
<rect x="254" width="1.3" fill="#4445c6"/>
<rect x="255" width="1.3" fill="#494bc1"/>
<rect x="256" width="1.3" fill="#4c4dbf"/>
<rect x="257" width="1.3" fill="#3a3cce"/>
<rect x="258" width="1.3" fill="#7f7f93"/>
<rect x="259" width="1.3" fill="#75769b"/>
<rect x="260" width="1.3" fill="#6a6aa5"/>
<rect x="261" width="2.3" fill="#6061ae"/>
<rect x="263" width="1.3" fill="#595ab3"/>
<rect x="264" width="1.3" fill="#5859b5"/>
<rect x="265" width="1.3" fill="#4445c6"/>
<rect x="266" width="1.3" fill="#4647c4"/>
<rect x="267" width="1.3" fill="#494ac2"/>
<rect x="268" width="1.3" fill="#6464ab"/>
<rect x="269" width="1.3" fill="#6a6ba5"/>
<rect x="270" width="1.3" fill="#6363ac"/>
<rect x="271" width="1.3" fill="#5051bc"/>
<rect x="272" width="1.3" fill="#4648c3"/>
<rect x="273" width="1.3" fill="#71719f"/>
<rect x="274" width="1.3" fill="#6868a7"/>
<rect x="275" width="1.3" fill="#6c6ca4"/>
<rect x="276" width="1.3" fill="#6768a8"/>
<rect x="277" width="1.3" fill="#6666a9"/>
<rect x="278" width="1.3" fill="#aa5f5f"/>
<rect x="279" width="1.3" fill="#b05757"/>
<rect x="280" width="1.3" fill="#c43b3b"/>
<rect x="281" width="1.3" fill="#d52525"/>
<rect x="282" width="1.3" fill="#d62323"/>
<rect x="283" width="1.3" fill="#d72222"/>
<rect x="284" width="1.3" fill="#d12a2a"/>
<rect x="285" width="1.3" fill="#c63838"/>
<rect x="286" width="1.3" fill="#c23e3e"/>
<rect x="287" width="1.3" fill="#c53a3a"/>
<rect x="288" width="1.3" fill="#c14040"/>
<rect x="289" width="1.3" fill="#b64f4f"/>
<rect x="290" width="1.3" fill="#b35353"/>
<rect x="291" width="1.3" fill="#b45151"/>
<rect x="292" width="1.3" fill="#af5858"/>
<rect x="293" width="1.3" fill="#9e6e6e"/>
<rect x="294" width="1.3" fill="#9e6f6f"/>
<rect x="295" width="1.3" fill="#a26a6a"/>
<rect x="296" width="1.3" fill="#b64f4f"/>
<rect x="297" width="1.3" fill="#c53a3a"/>
<rect x="298" width="1.3" fill="#c63a3a"/>
<rect x="299" width="1.3" fill="#c13f3f"/>
<rect x="300" width="1.3" fill="#c23f3f"/>
<rect x="301" width="2.3" fill="#bf4343"/>
<rect x="303" width="1.3" fill="#ba4949"/>
<rect x="304" width="1.3" fill="#c04242"/>
<rect x="305" width="1.3" fill="#ba4949"/>
<rect x="306" width="1.3" fill="#c14040"/>
<rect x="307" width="1.3" fill="#c04141"/>
<rect x="308" width="1.3" fill="#b45151"/>
<rect x="309" width="1.3" fill="#b05656"/>
<rect x="310" width="1.3" fill="#af5757"/>
<rect x="311" width="1.3" fill="#b55050"/>
<rect x="312" width="1.3" fill="#c83636"/>
<rect x="313" width="1.3" fill="#cb3232"/>
<rect x="314" width="1.3" fill="#cc3131"/>
<rect x="315" width="1.3" fill="#c83737"/>
<rect x="316" width="1.3" fill="#c23f3f"/>
<rect x="317" width="1.3" fill="#b45151"/>
<rect x="318" width="1.3" fill="#b15555"/>
<rect x="319" width="1.3" fill="#b74d4d"/>
<rect x="320" width="1.3" fill="#ba4a4a"/>
<rect x="321" width="1.3" fill="#bc4747"/>
<rect x="322" width="1.3" fill="#be4444"/>
<rect x="323" width="1.3" fill="#be4343"/>
<rect x="324" width="1.3" fill="#bd4545"/>
<rect x="325" width="1.3" fill="#bb4848"/>
<rect x="326" width="1.3" fill="#b45151"/>
<rect x="327" width="1.3" fill="#b84c4c"/>
<rect x="328" width="1.3" fill="#bf4242"/>
<rect x="329" width="1.3" fill="#b84d4d"/>
<rect x="330" width="1.3" fill="#b84c4c"/>
<rect x="331" width="1.3" fill="#b94b4b"/>
<rect x="332" width="1.3" fill="#b45151"/>
<rect x="333" width="1.3" fill="#be4343"/>
<rect x="334" width="1.3" fill="#bb4848"/>
<rect x="335" width="1.3" fill="#c23f3f"/>
<rect x="336" width="1.3" fill="#c14040"/>
<rect x="337" width="1.3" fill="#c04141"/>
<rect x="338" width="1.3" fill="#bc4646"/>
<rect x="339" width="1.3" fill="#ba4a4a"/>
<rect x="340" width="1.3" fill="#b64f4f"/>
<rect x="341" width="1.3" fill="#bc4747"/>
<rect x="342" width="1.3" fill="#bf4242"/>
<rect x="343" width="1.3" fill="#c33d3d"/>
<rect x="344" width="1.3" fill="#c23e3e"/>
<rect x="345" width="1.3" fill="#b64f4f"/>
<rect x="346" width="1.3" fill="#bc4747"/>
<rect x="347" width="1.3" fill="#c04242"/>
<rect x="348" width="1.3" fill="#b94b4b"/>
<rect x="349" width="1.3" fill="#b25454"/>
<rect x="350" width="1.3" fill="#ad5b5b"/>
<rect x="351" width="1.3" fill="#ab5d5d"/>
<rect x="352" width="1.3" fill="#b45151"/>
<rect x="353" width="1.3" fill="#b55151"/>
<rect x="354" width="1.3" fill="#b35353"/>
<rect x="355" width="1.3" fill="#b45252"/>
<rect x="356" width="1.3" fill="#b55050"/>
<rect x="357" width="1.3" fill="#bf4242"/>
<rect x="358" width="1.3" fill="#b94a4a"/>
<rect x="359" width="1.3" fill="#ba4a4a"/>
<rect x="360" width="1.3" fill="#b55050"/>
<rect x="361" width="1.3" fill="#b74d4d"/>
<rect x="362" width="1.3" fill="#b64f4f"/>
<rect x="363" width="2.3" fill="#bb4848"/>
<rect x="365" width="1.3" fill="#be4444"/>
<rect x="366" width="1.3" fill="#bc4646"/>
<rect x="367" width="1.3" fill="#be4343"/>
<rect x="368" width="1.3" fill="#bc4646"/>
<rect x="369" width="1.3" fill="#bc4747"/>
<rect x="370" width="1.3" fill="#be4343"/>
<rect x="371" width="1.3" fill="#c14040"/>
<rect x="372" width="1.3" fill="#c04141"/>
<rect x="373" width="1.3" fill="#c14040"/>
<rect x="374" width="1.3" fill="#b94a4a"/>
<rect x="375" width="1.3" fill="#b25454"/>
<rect x="376" width="1.3" fill="#ae5959"/>
<rect x="377" width="1.3" fill="#b45151"/>
<rect x="378" width="1.3" fill="#bb4747"/>
<rect x="379" width="1.3" fill="#bd4545"/>
<rect x="380" width="1.3" fill="#bf4343"/>
<rect x="381" width="1.3" fill="#b84c4c"/>
<rect x="382" width="1.3" fill="#b74e4e"/>
<rect x="383" width="1.3" fill="#b64e4e"/>
<rect x="384" width="1.3" fill="#b55050"/>
<rect x="385" width="1.3" fill="#bd4545"/>
<rect x="386" width="1.3" fill="#b25454"/>
<rect x="387" width="1.3" fill="#b15656"/>
<rect x="388" width="1.3" fill="#b74d4d"/>
<rect x="389" width="1.3" fill="#cf2d2d"/>
<rect x="390" width="1.3" fill="#d42626"/>
<rect x="391" width="1.3" fill="#cf2d2d"/>
<rect x="392" width="1.3" fill="#b94a4a"/>
<rect x="393" width="1.3" fill="#b74e4e"/>
<rect x="394" width="1.3" fill="#b45252"/>
<rect x="395" width="1.3" fill="#b94b4b"/>
<rect x="396" width="1.3" fill="#bd4545"/>
<rect x="397" width="1.3" fill="#b84c4c"/>
<rect x="398" width="1.3" fill="#ad5a5a"/>
<rect x="399" width="1.3" fill="#b05757"/>
<rect x="400" width="1.3" fill="#b45252"/>
<rect x="401" width="1.3" fill="#b74d4d"/>
<rect x="402" width="1.3" fill="#c43c3c"/>
<rect x="403" width="1.3" fill="#cb3232"/>
<rect x="404" width="1.3" fill="#c73838"/>
<rect x="405" width="1.3" fill="#b45252"/>
<rect x="406" width="2.3" fill="#b45151"/>
<rect x="408" width="1.3" fill="#b94b4b"/>
<rect x="409" width="1.3" fill="#b94a4a"/>
<rect x="410" width="1.3" fill="#b74d4d"/>
<rect x="411" width="1.3" fill="#b84c4c"/>
<rect x="412" width="1.3" fill="#bd4545"/>
<rect x="413" width="1.3" fill="#b64f4f"/>
<rect x="414" width="1.3" fill="#6c6da3"/>
<rect x="415" width="1.3" fill="#73739d"/>
<rect x="416" width="1.3" fill="#5d5eb0"/>
<rect x="417" width="1.3" fill="#5556b7"/>
<rect x="418" width="1.3" fill="#6a6aa5"/>
<rect x="419" width="1.3" fill="#77779a"/>
<rect x="420" width="1.3" fill="#84848f"/>
<rect x="421" width="1.3" fill="#8e8484"/>
<rect x="422" width="1.3" fill="#a46767"/>
<rect x="423" width="1.3" fill="#a06d6d"/>
<rect x="424" width="1.3" fill="#9c7272"/>
<rect x="425" width="1.3" fill="#908282"/>
<rect x="426" width="1.3" fill="#9a7575"/>
<rect x="427" width="2.3" fill="#9e6f6f"/>
<rect x="429" width="1.3" fill="#a16b6b"/>
<rect x="430" width="1.3" fill="#a26a6a"/>
<rect x="431" width="1.3" fill="#9f6d6d"/>
<rect x="432" width="1.3" fill="#9a7575"/>
<rect x="433" width="1.3" fill="#9f6e6e"/>
<rect x="434" width="1.3" fill="#aa5f5f"/>
<rect x="435" width="1.3" fill="#5152ba"/>
<rect x="436" width="1.3" fill="#4041c9"/>
<rect x="437" width="1.3" fill="#4849c2"/>
<rect x="438" width="1.3" fill="#4749c3"/>
<rect x="439" width="1.3" fill="#393acf"/>
<rect x="440" width="1.3" fill="#2729de"/>
<rect x="441" width="5.3" fill="#2022e4"/>
<rect x="446" width="1.3" fill="#2325e1"/>
<rect x="447" width="1.3" fill="#6262ac"/>
<rect x="448" width="1.3" fill="#6869a7"/>
<rect x="449" width="1.3" fill="#6565aa"/>
<rect x="450" width="1.3" fill="#4a4bc1"/>
<rect x="451" width="1.3" fill="#4647c4"/>
<rect x="452" width="1.3" fill="#3b3dcd"/>
<rect x="453" width="0.5" fill="#4243c7"/>
</g>
<g transform="translate(0 223.61)">
<rect x="172.2" width="1.1" fill="#be4444"/>
<rect x="173" width="1.3" fill="#bc4747"/>
<rect x="174" width="1.3" fill="#c23f3f"/>
<rect x="175" width="1.3" fill="#6667a8"/>
<rect x="176" width="1.3" fill="#6666a9"/>
<rect x="177" width="1.3" fill="#6a6ba5"/>
<rect x="178" width="1.3" fill="#76769b"/>
<rect x="179" width="1.3" fill="#6162ad"/>
<rect x="180" width="1.3" fill="#6c6da3"/>
<rect x="181" width="1.3" fill="#5e5faf"/>
<rect x="182" width="1.3" fill="#4b4cc0"/>
<rect x="183" width="1.3" fill="#4a4bc0"/>
<rect x="184" width="1.3" fill="#4b4dbf"/>
<rect x="185" width="1.3" fill="#5051bb"/>
<rect x="186" width="1.3" fill="#4042c8"/>
<rect x="187" width="1.3" fill="#4546c5"/>
<rect x="188" width="1.3" fill="#3d3fcb"/>
<rect x="189" width="1.3" fill="#3f41c9"/>
<rect x="190" width="1.3" fill="#3233d5"/>
<rect x="191" width="1.3" fill="#393acf"/>
<rect x="192" width="1.3" fill="#4142c8"/>
<rect x="193" width="1.3" fill="#4849c2"/>
<rect x="194" width="1.3" fill="#4445c6"/>
<rect x="195" width="1.3" fill="#4243c7"/>
<rect x="196" width="1.3" fill="#3233d5"/>
<rect x="197" width="4.3" fill="#2022e4"/>
<rect x="201" width="1.3" fill="#2d2fd9"/>
<rect x="202" width="1.3" fill="#4e4fbd"/>
<rect x="203" width="1.3" fill="#4647c4"/>
<rect x="204" width="1.3" fill="#4c4dbf"/>
<rect x="205" width="1.3" fill="#4d4fbd"/>
<rect x="206" width="1.3" fill="#5455b8"/>
<rect x="207" width="1.3" fill="#4243c7"/>
<rect x="208" width="1.3" fill="#3739d0"/>
<rect x="209" width="1.3" fill="#3a3cce"/>
<rect x="210" width="1.3" fill="#4546c5"/>
<rect x="211" width="1.3" fill="#3335d4"/>
<rect x="212" width="1.3" fill="#3f41c9"/>
<rect x="213" width="1.3" fill="#4142c8"/>
<rect x="214" width="1.3" fill="#383ad0"/>
<rect x="215" width="1.3" fill="#3133d5"/>
<rect x="216" width="1.3" fill="#4042c8"/>
<rect x="217" width="1.3" fill="#3436d3"/>
<rect x="218" width="1.3" fill="#3f41c9"/>
<rect x="219" width="1.3" fill="#4042c9"/>
<rect x="220" width="1.3" fill="#5859b4"/>
<rect x="221" width="1.3" fill="#6363ac"/>
<rect x="222" width="1.3" fill="#6364ab"/>
<rect x="223" width="1.3" fill="#6061ae"/>
<rect x="224" width="1.3" fill="#4a4bc1"/>
<rect x="225" width="1.3" fill="#3f41ca"/>
<rect x="226" width="1.3" fill="#3e40ca"/>
<rect x="227" width="1.3" fill="#4445c6"/>
<rect x="228" width="1.3" fill="#4344c6"/>
<rect x="229" width="1.3" fill="#3f40ca"/>
<rect x="230" width="1.3" fill="#4243c7"/>
<rect x="231" width="1.3" fill="#494ac2"/>
<rect x="232" width="1.3" fill="#4a4bc1"/>
<rect x="233" width="1.3" fill="#4d4ebe"/>
<rect x="234" width="1.3" fill="#4a4bc0"/>
<rect x="235" width="1.3" fill="#4f50bc"/>
<rect x="236" width="1.3" fill="#5052bb"/>
<rect x="237" width="1.3" fill="#3f41ca"/>
<rect x="238" width="1.3" fill="#3335d4"/>
<rect x="239" width="1.3" fill="#3d3ecc"/>
<rect x="240" width="1.3" fill="#3132d6"/>
<rect x="241" width="1.3" fill="#4041c9"/>
<rect x="242" width="2.3" fill="#3537d2"/>
<rect x="244" width="1.3" fill="#3839d0"/>
<rect x="245" width="1.3" fill="#2f30d7"/>
<rect x="246" width="1.3" fill="#4244c7"/>
<rect x="247" width="1.3" fill="#5859b5"/>
<rect x="248" width="1.3" fill="#6768a8"/>
<rect x="249" width="1.3" fill="#5758b5"/>
<rect x="250" width="1.3" fill="#6465aa"/>
<rect x="251" width="1.3" fill="#5253ba"/>
<rect x="252" width="1.3" fill="#5455b8"/>
<rect x="253" width="1.3" fill="#4445c5"/>
<rect x="254" width="1.3" fill="#5a5bb3"/>
<rect x="255" width="1.3" fill="#4b4cbf"/>
<rect x="256" width="1.3" fill="#4d4fbd"/>
<rect x="257" width="1.3" fill="#3c3ecc"/>
<rect x="258" width="1.3" fill="#6b6ca4"/>
<rect x="259" width="1.3" fill="#76769b"/>
<rect x="260" width="1.3" fill="#72729f"/>
<rect x="261" width="1.3" fill="#6869a7"/>
<rect x="262" width="1.3" fill="#6768a7"/>
<rect x="263" width="1.3" fill="#6869a7"/>
<rect x="264" width="1.3" fill="#5b5cb2"/>
<rect x="265" width="1.3" fill="#4142c8"/>
<rect x="266" width="1.3" fill="#3a3bce"/>
<rect x="267" width="1.3" fill="#5253ba"/>
<rect x="268" width="1.3" fill="#6b6ca4"/>
<rect x="269" width="1.3" fill="#72729f"/>
<rect x="270" width="1.3" fill="#6667a8"/>
<rect x="271" width="1.3" fill="#5051bb"/>
<rect x="272" width="1.3" fill="#4849c2"/>
<rect x="273" width="1.3" fill="#6a6ba5"/>
<rect x="274" width="1.3" fill="#6768a7"/>
<rect x="275" width="1.3" fill="#7071a0"/>
<rect x="276" width="1.3" fill="#6767a8"/>
<rect x="277" width="1.3" fill="#6364ab"/>
<rect x="278" width="1.3" fill="#ab5d5d"/>
<rect x="279" width="1.3" fill="#b15656"/>
<rect x="280" width="1.3" fill="#c43b3b"/>
<rect x="281" width="1.3" fill="#d42727"/>
<rect x="282" width="1.3" fill="#d52424"/>
<rect x="283" width="1.3" fill="#d62424"/>
<rect x="284" width="1.3" fill="#d22929"/>
<rect x="285" width="1.3" fill="#c53a3a"/>
<rect x="286" width="1.3" fill="#c63939"/>
<rect x="287" width="1.3" fill="#c43b3b"/>
<rect x="288" width="1.3" fill="#c53b3b"/>
<rect x="289" width="1.3" fill="#b55050"/>
<rect x="290" width="1.3" fill="#b35353"/>
<rect x="291" width="1.3" fill="#b55050"/>
<rect x="292" width="1.3" fill="#ae5a5a"/>
<rect x="293" width="1.3" fill="#9d7070"/>
<rect x="294" width="1.3" fill="#997575"/>
<rect x="295" width="1.3" fill="#a16a6a"/>
<rect x="296" width="1.3" fill="#b64e4e"/>
<rect x="297" width="1.3" fill="#c23e3e"/>
<rect x="298" width="1.3" fill="#c63a3a"/>
<rect x="299" width="1.3" fill="#c33d3d"/>
<rect x="300" width="1.3" fill="#c13f3f"/>
<rect x="301" width="1.3" fill="#c14040"/>
<rect x="302" width="1.3" fill="#c04242"/>
<rect x="303" width="2.3" fill="#bf4242"/>
<rect x="305" width="1.3" fill="#bd4545"/>
<rect x="306" width="1.3" fill="#c04040"/>
<rect x="307" width="1.3" fill="#c13f3f"/>
<rect x="308" width="1.3" fill="#b35252"/>
<rect x="309" width="1.3" fill="#af5858"/>
<rect x="310" width="1.3" fill="#b05656"/>
<rect x="311" width="1.3" fill="#b55050"/>
<rect x="312" width="1.3" fill="#c83737"/>
<rect x="313" width="1.3" fill="#cb3333"/>
<rect x="314" width="1.3" fill="#cc3131"/>
<rect x="315" width="1.3" fill="#cb3232"/>
<rect x="316" width="1.3" fill="#c23e3e"/>
<rect x="317" width="1.3" fill="#b35353"/>
<rect x="318" width="1.3" fill="#b25555"/>
<rect x="319" width="2.3" fill="#b84c4c"/>
<rect x="321" width="1.3" fill="#bc4646"/>
<rect x="322" width="1.3" fill="#bf4343"/>
<rect x="323" width="1.3" fill="#be4343"/>
<rect x="324" width="1.3" fill="#c23e3e"/>
<rect x="325" width="1.3" fill="#b94b4b"/>
<rect x="326" width="1.3" fill="#b74d4d"/>
<rect x="327" width="1.3" fill="#b84b4b"/>
<rect x="328" width="1.3" fill="#bb4848"/>
<rect x="329" width="1.3" fill="#bd4545"/>
<rect x="330" width="1.3" fill="#b94a4a"/>
<rect x="331" width="1.3" fill="#bb4848"/>
<rect x="332" width="1.3" fill="#b84b4b"/>
<rect x="333" width="1.3" fill="#bb4848"/>
<rect x="334" width="1.3" fill="#bf4242"/>
<rect x="335" width="1.3" fill="#bc4646"/>
<rect x="336" width="1.3" fill="#be4444"/>
<rect x="337" width="1.3" fill="#bc4646"/>
<rect x="338" width="1.3" fill="#bf4343"/>
<rect x="339" width="1.3" fill="#b94b4b"/>
<rect x="340" width="1.3" fill="#bb4848"/>
<rect x="341" width="1.3" fill="#bb4747"/>
<rect x="342" width="1.3" fill="#c33d3d"/>
<rect x="343" width="1.3" fill="#c43b3b"/>
<rect x="344" width="1.3" fill="#c14040"/>
<rect x="345" width="1.3" fill="#b94a4a"/>
<rect x="346" width="2.3" fill="#be4444"/>
<rect x="348" width="1.3" fill="#bc4646"/>
<rect x="349" width="1.3" fill="#b55050"/>
<rect x="350" width="1.3" fill="#ac5c5c"/>
<rect x="351" width="1.3" fill="#ae5a5a"/>
<rect x="352" width="1.3" fill="#b35353"/>
<rect x="353" width="1.3" fill="#b35252"/>
<rect x="354" width="1.3" fill="#b64e4e"/>
<rect x="355" width="1.3" fill="#b45252"/>
<rect x="356" width="1.3" fill="#b74d4d"/>
<rect x="357" width="1.3" fill="#c14040"/>
<rect x="358" width="1.3" fill="#bf4242"/>
<rect x="359" width="1.3" fill="#b64f4f"/>
<rect x="360" width="1.3" fill="#b84c4c"/>
<rect x="361" width="1.3" fill="#b74e4e"/>
<rect x="362" width="1.3" fill="#b84c4c"/>
<rect x="363" width="1.3" fill="#bd4646"/>
<rect x="364" width="1.3" fill="#bd4545"/>
<rect x="365" width="1.3" fill="#c04141"/>
<rect x="366" width="1.3" fill="#bc4747"/>
<rect x="367" width="1.3" fill="#ba4949"/>
<rect x="368" width="1.3" fill="#bc4646"/>
<rect x="369" width="1.3" fill="#bd4545"/>
<rect x="370" width="1.3" fill="#c04141"/>
<rect x="371" width="1.3" fill="#c14040"/>
<rect x="372" width="1.3" fill="#c43c3c"/>
<rect x="373" width="1.3" fill="#bf4242"/>
<rect x="374" width="1.3" fill="#b74d4d"/>
<rect x="375" width="1.3" fill="#b25454"/>
<rect x="376" width="2.3" fill="#af5858"/>
<rect x="378" width="1.3" fill="#bb4848"/>
<rect x="379" width="1.3" fill="#be4343"/>
<rect x="380" width="1.3" fill="#b84c4c"/>
<rect x="381" width="2.3" fill="#b94b4b"/>
<rect x="383" width="1.3" fill="#b84c4c"/>
<rect x="384" width="1.3" fill="#b74d4d"/>
<rect x="385" width="1.3" fill="#be4343"/>
<rect x="386" width="1.3" fill="#b35252"/>
<rect x="387" width="1.3" fill="#af5858"/>
<rect x="388" width="1.3" fill="#b64e4e"/>
<rect x="389" width="1.3" fill="#ce2f2f"/>
<rect x="390" width="1.3" fill="#d72323"/>
<rect x="391" width="1.3" fill="#d12a2a"/>
<rect x="392" width="1.3" fill="#bd4545"/>
<rect x="393" width="1.3" fill="#b45151"/>
<rect x="394" width="1.3" fill="#b54f4f"/>
<rect x="395" width="1.3" fill="#b64e4e"/>
<rect x="396" width="1.3" fill="#bc4646"/>
<rect x="397" width="1.3" fill="#b45151"/>
<rect x="398" width="1.3" fill="#a96060"/>
<rect x="399" width="1.3" fill="#b05757"/>
<rect x="400" width="1.3" fill="#b25454"/>
<rect x="401" width="1.3" fill="#b84c4c"/>
<rect x="402" width="1.3" fill="#c23e3e"/>
<rect x="403" width="1.3" fill="#c63939"/>
<rect x="404" width="1.3" fill="#c33d3d"/>
<rect x="405" width="1.3" fill="#b94b4b"/>
<rect x="406" width="1.3" fill="#b45151"/>
<rect x="407" width="1.3" fill="#b25454"/>
<rect x="408" width="1.3" fill="#b94a4a"/>
<rect x="409" width="1.3" fill="#b74d4d"/>
<rect x="410" width="1.3" fill="#bd4545"/>
<rect x="411" width="1.3" fill="#bb4848"/>
<rect x="412" width="1.3" fill="#b84c4c"/>
<rect x="413" width="1.3" fill="#b74d4d"/>
<rect x="414" width="1.3" fill="#71719f"/>
<rect x="415" width="1.3" fill="#6a6ba5"/>
<rect x="416" width="1.3" fill="#5657b7"/>
<rect x="417" width="1.3" fill="#6465aa"/>
<rect x="418" width="1.3" fill="#7a7a98"/>
<rect x="419" width="1.3" fill="#818291"/>
<rect x="420" width="1.3" fill="#7f7f93"/>
<rect x="421" width="1.3" fill="#957c7c"/>
<rect x="422" width="1.3" fill="#a36868"/>
<rect x="423" width="1.3" fill="#9b7373"/>
<rect x="424" width="1.3" fill="#9e6e6e"/>
<rect x="425" width="1.3" fill="#9f6d6d"/>
<rect x="426" width="1.3" fill="#9d7171"/>
<rect x="427" width="1.3" fill="#9a7575"/>
<rect x="428" width="1.3" fill="#a16b6b"/>
<rect x="429" width="1.3" fill="#a66464"/>
<rect x="430" width="1.3" fill="#a36969"/>
<rect x="431" width="1.3" fill="#a76363"/>
<rect x="432" width="1.3" fill="#9a7474"/>
<rect x="433" width="1.3" fill="#a46767"/>
<rect x="434" width="1.3" fill="#9e6e6e"/>
<rect x="435" width="1.3" fill="#5c5db1"/>
<rect x="436" width="1.3" fill="#4748c3"/>
<rect x="437" width="1.3" fill="#4b4cbf"/>
<rect x="438" width="1.3" fill="#4243c7"/>
<rect x="439" width="1.3" fill="#3132d6"/>
<rect x="440" width="1.3" fill="#2729de"/>
<rect x="441" width="6.3" fill="#2022e4"/>
<rect x="447" width="1.3" fill="#5e5faf"/>
<rect x="448" width="1.3" fill="#6566a9"/>
<rect x="449" width="1.3" fill="#6768a8"/>
<rect x="450" width="1.3" fill="#4b4cc0"/>
<rect x="451" width="1.3" fill="#4445c6"/>
<rect x="452" width="1.3" fill="#4041c9"/>
<rect x="453" width="0.5" fill="#4042c9"/>
</g>
<g transform="translate(0 240.07)">
<rect x="172.2" width="2.1" fill="#bc4747"/>
<rect x="174" width="1.3" fill="#c33d3d"/>
<rect x="175" width="1.3" fill="#6768a8"/>
<rect x="176" width="1.3" fill="#6465aa"/>
<rect x="177" width="1.3" fill="#6b6ba4"/>
<rect x="178" width="1.3" fill="#77779a"/>
<rect x="179" width="1.3" fill="#696aa6"/>
<rect x="180" width="1.3" fill="#6263ac"/>
<rect x="181" width="1.3" fill="#5152bb"/>
<rect x="182" width="1.3" fill="#4748c3"/>
<rect x="183" width="1.3" fill="#4849c2"/>
<rect x="184" width="1.3" fill="#4a4cc0"/>
<rect x="185" width="1.3" fill="#5051bb"/>
<rect x="186" width="1.3" fill="#3d3fcb"/>
<rect x="187" width="1.3" fill="#4546c5"/>
<rect x="188" width="1.3" fill="#3f40ca"/>
<rect x="189" width="1.3" fill="#3c3dcc"/>
<rect x="190" width="1.3" fill="#2325e2"/>
<rect x="191" width="1.3" fill="#2628df"/>
<rect x="192" width="1.3" fill="#3b3ccd"/>
<rect x="193" width="1.3" fill="#383ad0"/>
<rect x="194" width="1.3" fill="#393bcf"/>
<rect x="195" width="1.3" fill="#3839d0"/>
<rect x="196" width="1.3" fill="#2627df"/>
<rect x="197" width="4.3" fill="#2022e4"/>
<rect x="201" width="1.3" fill="#2728de"/>
<rect x="202" width="1.3" fill="#3638d1"/>
<rect x="203" width="1.3" fill="#383ad0"/>
<rect x="204" width="1.3" fill="#3738d1"/>
<rect x="205" width="1.3" fill="#4143c8"/>
<rect x="206" width="1.3" fill="#4244c7"/>
<rect x="207" width="1.3" fill="#2f31d7"/>
<rect x="208" width="1.3" fill="#2e30d8"/>
<rect x="209" width="1.3" fill="#2f31d7"/>
<rect x="210" width="1.3" fill="#2527e0"/>
<rect x="211" width="1.3" fill="#393acf"/>
<rect x="212" width="1.3" fill="#3234d5"/>
<rect x="213" width="1.3" fill="#3133d5"/>
<rect x="214" width="1.3" fill="#3537d2"/>
<rect x="215" width="1.3" fill="#2b2ddb"/>
<rect x="216" width="1.3" fill="#2628df"/>
<rect x="217" width="1.3" fill="#3335d4"/>
<rect x="218" width="1.3" fill="#2325e2"/>
<rect x="219" width="1.3" fill="#3032d6"/>
<rect x="220" width="1.3" fill="#4e50bd"/>
<rect x="221" width="1.3" fill="#4e4fbd"/>
<rect x="222" width="1.3" fill="#5253b9"/>
<rect x="223" width="1.3" fill="#4f50bc"/>
<rect x="224" width="1.3" fill="#4647c4"/>
<rect x="225" width="1.3" fill="#2d2fd9"/>
<rect x="226" width="1.3" fill="#3031d7"/>
<rect x="227" width="1.3" fill="#3335d4"/>
<rect x="228" width="1.3" fill="#3234d5"/>
<rect x="229" width="1.3" fill="#3032d6"/>
<rect x="230" width="1.3" fill="#3a3bce"/>
<rect x="231" width="1.3" fill="#3a3cce"/>
<rect x="232" width="1.3" fill="#4243c7"/>
<rect x="233" width="1.3" fill="#4748c3"/>
<rect x="234" width="1.3" fill="#4648c4"/>
<rect x="235" width="1.3" fill="#4546c5"/>
<rect x="236" width="1.3" fill="#4344c7"/>
<rect x="237" width="1.3" fill="#282add"/>
<rect x="238" width="1.3" fill="#2527e0"/>
<rect x="239" width="1.3" fill="#2628df"/>
<rect x="240" width="1.3" fill="#2224e3"/>
<rect x="241" width="1.3" fill="#2426e1"/>
<rect x="242" width="1.3" fill="#2022e4"/>
<rect x="243" width="1.3" fill="#2d2fd9"/>
<rect x="244" width="1.3" fill="#3739d0"/>
<rect x="245" width="1.3" fill="#2d2fd9"/>
<rect x="246" width="1.3" fill="#3839d0"/>
<rect x="247" width="1.3" fill="#494ac1"/>
<rect x="248" width="1.3" fill="#5758b6"/>
<rect x="249" width="1.3" fill="#5354b9"/>
<rect x="250" width="1.3" fill="#4e4fbd"/>
<rect x="251" width="1.3" fill="#4546c5"/>
<rect x="252" width="1.3" fill="#4445c6"/>
<rect x="253" width="1.3" fill="#3e40ca"/>
<rect x="254" width="1.3" fill="#4f50bc"/>
<rect x="255" width="1.3" fill="#4a4bc0"/>
<rect x="256" width="1.3" fill="#4d4ebe"/>
<rect x="257" width="1.3" fill="#3c3ecc"/>
<rect x="258" width="1.3" fill="#77779a"/>
<rect x="259" width="1.3" fill="#71719f"/>
<rect x="260" width="1.3" fill="#74749d"/>
<rect x="261" width="1.3" fill="#6061ad"/>
<rect x="262" width="1.3" fill="#6566a9"/>
<rect x="263" width="1.3" fill="#6162ad"/>
<rect x="264" width="1.3" fill="#5d5db1"/>
<rect x="265" width="1.3" fill="#4849c2"/>
<rect x="266" width="1.3" fill="#4647c4"/>
<rect x="267" width="1.3" fill="#4042c9"/>
<rect x="268" width="2.3" fill="#696aa6"/>
<rect x="270" width="1.3" fill="#6f70a1"/>
<rect x="271" width="1.3" fill="#4547c4"/>
<rect x="272" width="1.3" fill="#4244c7"/>
<rect x="273" width="1.3" fill="#6465aa"/>
<rect x="274" width="1.3" fill="#72729f"/>
<rect x="275" width="1.3" fill="#6162ad"/>
<rect x="276" width="1.3" fill="#6667a8"/>
<rect x="277" width="1.3" fill="#6364ab"/>
<rect x="278" width="1.3" fill="#aa5e5e"/>
<rect x="279" width="1.3" fill="#b25555"/>
<rect x="280" width="1.3" fill="#c43b3b"/>
<rect x="281" width="1.3" fill="#d22929"/>
<rect x="282" width="1.3" fill="#d72121"/>
<rect x="283" width="1.3" fill="#d52525"/>
<rect x="284" width="1.3" fill="#d22929"/>
<rect x="285" width="1.3" fill="#c63838"/>
<rect x="286" width="1.3" fill="#c43b3b"/>
<rect x="287" width="1.3" fill="#c73838"/>
<rect x="288" width="1.3" fill="#c14040"/>
<rect x="289" width="1.3" fill="#b74d4d"/>
<rect x="290" width="2.3" fill="#b25454"/>
<rect x="292" width="1.3" fill="#b15555"/>
<rect x="293" width="1.3" fill="#9e6f6f"/>
<rect x="294" width="1.3" fill="#997575"/>
<rect x="295" width="1.3" fill="#a16b6b"/>
<rect x="296" width="1.3" fill="#b55050"/>
<rect x="297" width="1.3" fill="#c63939"/>
<rect x="298" width="1.3" fill="#bf4242"/>
<rect x="299" width="2.3" fill="#c23e3e"/>
<rect x="301" width="3.3" fill="#bf4343"/>
<rect x="304" width="1.3" fill="#c04141"/>
<rect x="305" width="1.3" fill="#bc4747"/>
<rect x="306" width="1.3" fill="#bd4646"/>
<rect x="307" width="1.3" fill="#c43c3c"/>
<rect x="308" width="1.3" fill="#b94b4b"/>
<rect x="309" width="1.3" fill="#b05656"/>
<rect x="310" width="1.3" fill="#ab5e5e"/>
<rect x="311" width="1.3" fill="#b74e4e"/>
<rect x="312" width="1.3" fill="#c43b3b"/>
<rect x="313" width="1.3" fill="#cd3030"/>
<rect x="314" width="1.3" fill="#ca3333"/>
<rect x="315" width="1.3" fill="#c83636"/>
<rect x="316" width="1.3" fill="#bf4242"/>
<rect x="317" width="1.3" fill="#b74e4e"/>
<rect x="318" width="1.3" fill="#b55050"/>
<rect x="319" width="1.3" fill="#b35252"/>
<rect x="320" width="1.3" fill="#b84c4c"/>
<rect x="321" width="1.3" fill="#bf4343"/>
<rect x="322" width="1.3" fill="#bc4646"/>
<rect x="323" width="1.3" fill="#bd4545"/>
<rect x="324" width="1.3" fill="#be4343"/>
<rect x="325" width="1.3" fill="#b94a4a"/>
<rect x="326" width="1.3" fill="#b74d4d"/>
<rect x="327" width="1.3" fill="#b84c4c"/>
<rect x="328" width="2.3" fill="#bc4747"/>
<rect x="330" width="1.3" fill="#ba4949"/>
<rect x="331" width="1.3" fill="#b64f4f"/>
<rect x="332" width="1.3" fill="#b74e4e"/>
<rect x="333" width="1.3" fill="#b94a4a"/>
<rect x="334" width="1.3" fill="#c23e3e"/>
<rect x="335" width="1.3" fill="#c04141"/>
<rect x="336" width="1.3" fill="#be4444"/>
<rect x="337" width="1.3" fill="#bf4242"/>
<rect x="338" width="1.3" fill="#be4444"/>
<rect x="339" width="1.3" fill="#bb4848"/>
<rect x="340" width="1.3" fill="#b94b4b"/>
<rect x="341" width="1.3" fill="#bd4545"/>
<rect x="342" width="2.3" fill="#c43c3c"/>
<rect x="344" width="1.3" fill="#bf4242"/>
<rect x="345" width="1.3" fill="#ba4a4a"/>
<rect x="346" width="1.3" fill="#bd4545"/>
<rect x="347" width="1.3" fill="#bf4242"/>
<rect x="348" width="1.3" fill="#b94b4b"/>
<rect x="349" width="1.3" fill="#ac5c5c"/>
<rect x="350" width="1.3" fill="#ad5b5b"/>
<rect x="351" width="1.3" fill="#af5757"/>
<rect x="352" width="1.3" fill="#b64f4f"/>
<rect x="353" width="1.3" fill="#b45252"/>
<rect x="354" width="1.3" fill="#b64e4e"/>
<rect x="355" width="1.3" fill="#b35353"/>
<rect x="356" width="1.3" fill="#b74d4d"/>
<rect x="357" width="1.3" fill="#be4343"/>
<rect x="358" width="1.3" fill="#b94a4a"/>
<rect x="359" width="1.3" fill="#b74e4e"/>
<rect x="360" width="1.3" fill="#b15555"/>
<rect x="361" width="2.3" fill="#b35252"/>
<rect x="363" width="1.3" fill="#bd4646"/>
<rect x="364" width="1.3" fill="#bd4545"/>
<rect x="365" width="1.3" fill="#be4343"/>
<rect x="366" width="1.3" fill="#bb4848"/>
<rect x="367" width="1.3" fill="#b84b4b"/>
<rect x="368" width="2.3" fill="#ba4949"/>
<rect x="370" width="1.3" fill="#c04141"/>
<rect x="371" width="1.3" fill="#c14040"/>
<rect x="372" width="2.3" fill="#be4444"/>
<rect x="374" width="1.3" fill="#b74d4d"/>
<rect x="375" width="1.3" fill="#b35252"/>
<rect x="376" width="1.3" fill="#b25454"/>
<rect x="377" width="1.3" fill="#b55050"/>
<rect x="378" width="1.3" fill="#ba4949"/>
<rect x="379" width="1.3" fill="#bd4545"/>
<rect x="380" width="2.3" fill="#b84c4c"/>
<rect x="382" width="1.3" fill="#b64e4e"/>
<rect x="383" width="1.3" fill="#b35353"/>
<rect x="384" width="1.3" fill="#ba4a4a"/>
<rect x="385" width="1.3" fill="#bd4545"/>
<rect x="386" width="1.3" fill="#b35252"/>
<rect x="387" width="1.3" fill="#b15555"/>
<rect x="388" width="1.3" fill="#b74e4e"/>
<rect x="389" width="1.3" fill="#cf2d2d"/>
<rect x="390" width="1.3" fill="#d12a2a"/>
<rect x="391" width="1.3" fill="#ce2e2e"/>
<rect x="392" width="1.3" fill="#c14040"/>
<rect x="393" width="1.3" fill="#b74d4d"/>
<rect x="394" width="2.3" fill="#b84c4c"/>
<rect x="396" width="1.3" fill="#ba4949"/>
<rect x="397" width="1.3" fill="#b84c4c"/>
<rect x="398" width="1.3" fill="#aa5f5f"/>
<rect x="399" width="1.3" fill="#ac5c5c"/>
<rect x="400" width="1.3" fill="#b35252"/>
<rect x="401" width="1.3" fill="#ba4a4a"/>
<rect x="402" width="1.3" fill="#c73838"/>
<rect x="403" width="1.3" fill="#c53a3a"/>
<rect x="404" width="1.3" fill="#c23e3e"/>
<rect x="405" width="1.3" fill="#b35353"/>
<rect x="406" width="2.3" fill="#b45151"/>
<rect x="408" width="1.3" fill="#b84c4c"/>
<rect x="409" width="1.3" fill="#b64e4e"/>
<rect x="410" width="1.3" fill="#b74d4d"/>
<rect x="411" width="1.3" fill="#ba4949"/>
<rect x="412" width="1.3" fill="#b94a4a"/>
<rect x="413" width="1.3" fill="#b35252"/>
<rect x="414" width="1.3" fill="#77789a"/>
<rect x="415" width="1.3" fill="#75769c"/>
<rect x="416" width="1.3" fill="#6162ac"/>
<rect x="417" width="1.3" fill="#5b5cb2"/>
<rect x="418" width="1.3" fill="#6b6ca4"/>
<rect x="419" width="1.3" fill="#808092"/>
<rect x="420" width="1.3" fill="#838390"/>
<rect x="421" width="1.3" fill="#8d8585"/>
<rect x="422" width="1.3" fill="#a36868"/>
<rect x="423" width="2.3" fill="#9c7272"/>
<rect x="425" width="1.3" fill="#997676"/>
<rect x="426" width="1.3" fill="#9c7272"/>
<rect x="427" width="1.3" fill="#9d7070"/>
<rect x="428" width="1.3" fill="#a16b6b"/>
<rect x="429" width="1.3" fill="#a46767"/>
<rect x="430" width="1.3" fill="#9e6f6f"/>
<rect x="431" width="1.3" fill="#9b7373"/>
<rect x="432" width="1.3" fill="#9f6e6e"/>
<rect x="433" width="1.3" fill="#a66464"/>
<rect x="434" width="1.3" fill="#a26a6a"/>
<rect x="435" width="1.3" fill="#5c5db1"/>
<rect x="436" width="1.3" fill="#4748c3"/>
<rect x="437" width="1.3" fill="#4546c4"/>
<rect x="438" width="1.3" fill="#3f40ca"/>
<rect x="439" width="1.3" fill="#3436d3"/>
<rect x="440" width="1.3" fill="#3334d4"/>
<rect x="441" width="6.3" fill="#2022e4"/>
<rect x="447" width="1.3" fill="#6263ac"/>
<rect x="448" width="1.3" fill="#6a6ba5"/>
<rect x="449" width="1.3" fill="#6363ab"/>
<rect x="450" width="1.3" fill="#4a4bc0"/>
<rect x="451" width="1.3" fill="#3e40ca"/>
<rect x="452" width="1.3" fill="#4142c8"/>
<rect x="453" width="0.5" fill="#4546c5"/>
</g>
<g transform="translate(0 256.53)">
<rect x="172.2" width="1.1" fill="#383ad0"/>
<rect x="173" width="1.3" fill="#3637d2"/>
<rect x="174" width="1.3" fill="#2b2dda"/>
<rect x="175" width="1.3" fill="#2325e2"/>
<rect x="176" width="1.3" fill="#2527e0"/>
<rect x="177" width="1.3" fill="#8c8787"/>
<rect x="178" width="1.3" fill="#9d7070"/>
<rect x="179" width="1.3" fill="#9a7575"/>
<rect x="180" width="1.3" fill="#84848f"/>
<rect x="181" width="1.3" fill="#3132d6"/>
<rect x="182" width="1.3" fill="#4345c6"/>
<rect x="183" width="1.3" fill="#4445c6"/>
<rect x="184" width="1.3" fill="#4b4cbf"/>
<rect x="185" width="1.3" fill="#494ac2"/>
<rect x="186" width="1.3" fill="#4547c4"/>
<rect x="187" width="1.3" fill="#4f50bc"/>
<rect x="188" width="1.3" fill="#5556b7"/>
<rect x="189" width="1.3" fill="#8c8787"/>
<rect x="190" width="1.3" fill="#a16a6a"/>
<rect x="191" width="1.3" fill="#808092"/>
<rect x="192" width="1.3" fill="#6e6fa2"/>
<rect x="193" width="1.3" fill="#75759c"/>
<rect x="194" width="1.3" fill="#7070a0"/>
<rect x="195" width="1.3" fill="#73749d"/>
<rect x="196" width="1.3" fill="#808092"/>
<rect x="197" width="1.3" fill="#8d8686"/>
<rect x="198" width="1.3" fill="#8b8989"/>
<rect x="199" width="1.3" fill="#86868d"/>
<rect x="200" width="1.3" fill="#5d5eb0"/>
<rect x="201" width="1.3" fill="#3334d4"/>
<rect x="202" width="1.3" fill="#2d2ed9"/>
<rect x="203" width="1.3" fill="#3739d0"/>
<rect x="204" width="1.3" fill="#5b5cb2"/>
<rect x="205" width="1.3" fill="#6465aa"/>
<rect x="206" width="1.3" fill="#5c5db1"/>
<rect x="207" width="1.3" fill="#595ab3"/>
<rect x="208" width="1.3" fill="#4648c3"/>
<rect x="209" width="1.3" fill="#5253ba"/>
<rect x="210" width="1.3" fill="#4546c5"/>
<rect x="211" width="1.3" fill="#3739d0"/>
<rect x="212" width="1.3" fill="#2c2dda"/>
<rect x="213" width="1.3" fill="#3234d5"/>
<rect x="214" width="1.3" fill="#5455b8"/>
<rect x="215" width="1.3" fill="#3133d5"/>
<rect x="216" width="1.3" fill="#3234d5"/>
<rect x="217" width="1.3" fill="#3334d4"/>
<rect x="218" width="1.3" fill="#3738d1"/>
<rect x="219" width="1.3" fill="#3335d4"/>
<rect x="220" width="1.3" fill="#2022e4"/>
<rect x="221" width="1.3" fill="#2628df"/>
<rect x="222" width="3.3" fill="#2022e4"/>
<rect x="225" width="1.3" fill="#2123e3"/>
<rect x="226" width="1.3" fill="#2c2dda"/>
<rect x="227" width="1.3" fill="#3739d0"/>
<rect x="228" width="1.3" fill="#4547c4"/>
<rect x="229" width="1.3" fill="#3738d1"/>
<rect x="230" width="4.3" fill="#2022e4"/>
<rect x="234" width="1.3" fill="#4243c7"/>
<rect x="235" width="1.3" fill="#4e4fbd"/>
<rect x="236" width="1.3" fill="#5052bb"/>
<rect x="237" width="1.3" fill="#3f40ca"/>
<rect x="238" width="1.3" fill="#2224e3"/>
<rect x="239" width="2.3" fill="#2022e4"/>
<rect x="241" width="1.3" fill="#4243c7"/>
<rect x="242" width="1.3" fill="#5253b9"/>
<rect x="243" width="1.3" fill="#3638d1"/>
<rect x="244" width="1.3" fill="#3c3ecc"/>
<rect x="245" width="1.3" fill="#383acf"/>
<rect x="246" width="1.3" fill="#3d3fcb"/>
<rect x="247" width="1.3" fill="#3738d1"/>
<rect x="248" width="1.3" fill="#3234d4"/>
<rect x="249" width="1.3" fill="#3032d6"/>
<rect x="250" width="1.3" fill="#4445c5"/>
<rect x="251" width="1.3" fill="#4849c2"/>
<rect x="252" width="1.3" fill="#4c4dbe"/>
<rect x="253" width="1.3" fill="#4b4cbf"/>
<rect x="254" width="1.3" fill="#494ac1"/>
<rect x="255" width="1.3" fill="#4e4fbd"/>
<rect x="256" width="1.3" fill="#5051bc"/>
<rect x="257" width="1.3" fill="#3e40ca"/>
<rect x="258" width="1.3" fill="#4446c5"/>
<rect x="259" width="1.3" fill="#3b3ccd"/>
<rect x="260" width="4.3" fill="#2022e4"/>
<rect x="264" width="1.3" fill="#2224e2"/>
<rect x="265" width="8.3" fill="#2022e4"/>
<rect x="273" width="1.3" fill="#292bdc"/>
<rect x="274" width="1.3" fill="#2628df"/>
<rect x="275" width="1.3" fill="#282add"/>
<rect x="276" width="1.3" fill="#2425e1"/>
<rect x="277" width="1.3" fill="#2022e4"/>
<rect x="278" width="1.3" fill="#997676"/>
<rect x="279" width="1.3" fill="#ac5c5c"/>
<rect x="280" width="1.3" fill="#b55050"/>
<rect x="281" width="1.3" fill="#b84c4c"/>
<rect x="282" width="1.3" fill="#bb4747"/>
<rect x="283" width="1.3" fill="#be4343"/>
<rect x="284" width="1.3" fill="#ba4949"/>
<rect x="285" width="1.3" fill="#b55050"/>
<rect x="286" width="1.3" fill="#a66464"/>
<rect x="287" width="1.3" fill="#a26a6a"/>
<rect x="288" width="1.3" fill="#a96161"/>
<rect x="289" width="1.3" fill="#b15656"/>
<rect x="290" width="1.3" fill="#ae5a5a"/>
<rect x="291" width="1.3" fill="#b15555"/>
<rect x="292" width="1.3" fill="#b64f4f"/>
<rect x="293" width="1.3" fill="#b45151"/>
<rect x="294" width="1.3" fill="#a16b6b"/>
<rect x="295" width="1.3" fill="#9f6e6e"/>
<rect x="296" width="1.3" fill="#997575"/>
<rect x="297" width="1.3" fill="#997676"/>
<rect x="298" width="1.3" fill="#987777"/>
<rect x="299" width="1.3" fill="#977979"/>
<rect x="300" width="1.3" fill="#9a7474"/>
<rect x="301" width="1.3" fill="#8d8686"/>
<rect x="302" width="1.3" fill="#9e6f6f"/>
<rect x="303" width="1.3" fill="#ae5a5a"/>
<rect x="304" width="1.3" fill="#bc4747"/>
<rect x="305" width="1.3" fill="#c63939"/>
<rect x="306" width="1.3" fill="#bc4747"/>
<rect x="307" width="1.3" fill="#b64f4f"/>
<rect x="308" width="1.3" fill="#ad5b5b"/>
<rect x="309" width="1.3" fill="#aa5e5e"/>
<rect x="310" width="1.3" fill="#a36868"/>
<rect x="311" width="1.3" fill="#ae5959"/>
<rect x="312" width="1.3" fill="#a36868"/>
<rect x="313" width="1.3" fill="#9f6e6e"/>
<rect x="314" width="1.3" fill="#997676"/>
<rect x="315" width="1.3" fill="#9b7373"/>
<rect x="316" width="1.3" fill="#937e7e"/>
<rect x="317" width="1.3" fill="#8a8a8a"/>
<rect x="318" width="1.3" fill="#7a7a97"/>
<rect x="319" width="1.3" fill="#8c8888"/>
<rect x="320" width="1.3" fill="#aa5f5f"/>
<rect x="321" width="1.3" fill="#c43c3c"/>
<rect x="322" width="1.3" fill="#c04141"/>
<rect x="323" width="1.3" fill="#b25353"/>
<rect x="324" width="1.3" fill="#ae5a5a"/>
<rect x="325" width="1.3" fill="#b45151"/>
<rect x="326" width="1.3" fill="#aa5f5f"/>
<rect x="327" width="1.3" fill="#9b7373"/>
<rect x="328" width="1.3" fill="#977878"/>
<rect x="329" width="1.3" fill="#8c8888"/>
<rect x="330" width="1.3" fill="#8f8383"/>
<rect x="331" width="1.3" fill="#957c7c"/>
<rect x="332" width="1.3" fill="#b35353"/>
<rect x="333" width="1.3" fill="#a76262"/>
<rect x="334" width="1.3" fill="#a46767"/>
<rect x="335" width="1.3" fill="#aa5f5f"/>
<rect x="336" width="1.3" fill="#ad5a5a"/>
<rect x="337" width="1.3" fill="#b35353"/>
<rect x="338" width="1.3" fill="#b55050"/>
<rect x="339" width="1.3" fill="#ac5c5c"/>
<rect x="340" width="1.3" fill="#b35353"/>
<rect x="341" width="1.3" fill="#a96161"/>
<rect x="342" width="1.3" fill="#a06c6c"/>
<rect x="343" width="1.3" fill="#9c7171"/>
<rect x="344" width="1.3" fill="#b05757"/>
<rect x="345" width="2.3" fill="#ac5c5c"/>
<rect x="347" width="1.3" fill="#a66464"/>
<rect x="348" width="1.3" fill="#a36868"/>
<rect x="349" width="1.3" fill="#957b7b"/>
<rect x="350" width="1.3" fill="#997676"/>
<rect x="351" width="1.3" fill="#9f6d6d"/>
<rect x="352" width="1.3" fill="#977878"/>
<rect x="353" width="1.3" fill="#9b7474"/>
<rect x="354" width="1.3" fill="#9d7070"/>
<rect x="355" width="1.3" fill="#947d7d"/>
<rect x="356" width="1.3" fill="#9a7575"/>
<rect x="357" width="1.3" fill="#a86161"/>
<rect x="358" width="3.3" fill="#aa5f5f"/>
<rect x="361" width="1.3" fill="#b15656"/>
<rect x="362" width="1.3" fill="#d42626"/>
<rect x="363" width="1.3" fill="#d82121"/>
<rect x="364" width="1.3" fill="#d42727"/>
<rect x="365" width="1.3" fill="#ca3333"/>
<rect x="366" width="1.3" fill="#bf4343"/>
<rect x="367" width="1.3" fill="#be4444"/>
<rect x="368" width="1.3" fill="#c53a3a"/>
<rect x="369" width="1.3" fill="#c73838"/>
<rect x="370" width="1.3" fill="#cb3333"/>
<rect x="371" width="1.3" fill="#cf2d2d"/>
<rect x="372" width="1.3" fill="#d62424"/>
<rect x="373" width="1.3" fill="#d22929"/>
<rect x="374" width="1.3" fill="#c83636"/>
<rect x="375" width="1.3" fill="#ca3333"/>
<rect x="376" width="1.3" fill="#ce2e2e"/>
<rect x="377" width="1.3" fill="#c93535"/>
<rect x="378" width="1.3" fill="#c23f3f"/>
<rect x="379" width="1.3" fill="#be4343"/>
<rect x="380" width="1.3" fill="#c33c3c"/>
<rect x="381" width="1.3" fill="#c04242"/>
<rect x="382" width="1.3" fill="#b55050"/>
<rect x="383" width="1.3" fill="#b45151"/>
<rect x="384" width="1.3" fill="#c43b3b"/>
<rect x="385" width="1.3" fill="#cd3030"/>
<rect x="386" width="1.3" fill="#c93434"/>
<rect x="387" width="1.3" fill="#cc3131"/>
<rect x="388" width="1.3" fill="#c73737"/>
<rect x="389" width="1.3" fill="#c63939"/>
<rect x="390" width="1.3" fill="#c73838"/>
<rect x="391" width="1.3" fill="#c23e3e"/>
<rect x="392" width="1.3" fill="#b25454"/>
<rect x="393" width="1.3" fill="#b15555"/>
<rect x="394" width="1.3" fill="#b94b4b"/>
<rect x="395" width="1.3" fill="#b55151"/>
<rect x="396" width="1.3" fill="#c43c3c"/>
<rect x="397" width="1.3" fill="#c93535"/>
<rect x="398" width="1.3" fill="#bd4545"/>
<rect x="399" width="1.3" fill="#bc4747"/>
<rect x="400" width="2.3" fill="#987777"/>
<rect x="402" width="1.3" fill="#967979"/>
<rect x="403" width="1.3" fill="#967a7a"/>
<rect x="404" width="1.3" fill="#8c8787"/>
<rect x="405" width="1.3" fill="#908282"/>
<rect x="406" width="1.3" fill="#918080"/>
<rect x="407" width="1.3" fill="#977878"/>
<rect x="408" width="1.3" fill="#957b7b"/>
<rect x="409" width="1.3" fill="#997676"/>
<rect x="410" width="1.3" fill="#9c7272"/>
<rect x="411" width="1.3" fill="#9e6f6f"/>
<rect x="412" width="1.3" fill="#987777"/>
<rect x="413" width="1.3" fill="#9f6d6d"/>
<rect x="414" width="1.3" fill="#957b7b"/>
<rect x="415" width="1.3" fill="#d82121"/>
<rect x="416" width="1.3" fill="#d72222"/>
<rect x="417" width="1.3" fill="#d62323"/>
<rect x="418" width="2.3" fill="#da1e1e"/>
<rect x="420" width="1.3" fill="#d92020"/>
<rect x="421" width="1.3" fill="#d82121"/>
<rect x="422" width="1.3" fill="#d62323"/>
<rect x="423" width="2.3" fill="#da1e1e"/>
<rect x="425" width="1.3" fill="#d32727"/>
<rect x="426" width="1.3" fill="#ce2e2e"/>
<rect x="427" width="1.3" fill="#cf2d2d"/>
<rect x="428" width="1.3" fill="#d22828"/>
<rect x="429" width="1.3" fill="#d82121"/>
<rect x="430" width="2.3" fill="#d72222"/>
<rect x="432" width="7.3" fill="#da1e1e"/>
<rect x="439" width="1.3" fill="#d92020"/>
<rect x="440" width="1.3" fill="#d82121"/>
<rect x="441" width="1.3" fill="#d62424"/>
<rect x="442" width="1.3" fill="#d82121"/>
<rect x="443" width="7.3" fill="#da1e1e"/>
<rect x="450" width="1.3" fill="#a66565"/>
<rect x="451" width="1.3" fill="#a26969"/>
<rect x="452" width="1.3" fill="#9d7070"/>
<rect x="453" width="0.5" fill="#9c7171"/>
</g>
<g transform="translate(0 272.99)">
<rect x="172.2" width="1.1" fill="#3335d4"/>
<rect x="173" width="1.3" fill="#3233d5"/>
<rect x="174" width="1.3" fill="#2f31d7"/>
<rect x="175" width="1.3" fill="#2426e1"/>
<rect x="176" width="1.3" fill="#2527df"/>
<rect x="177" width="1.3" fill="#8e8585"/>
<rect x="178" width="1.3" fill="#9b7272"/>
<rect x="179" width="1.3" fill="#9c7171"/>
<rect x="180" width="1.3" fill="#89898b"/>
<rect x="181" width="1.3" fill="#3536d3"/>
<rect x="182" width="1.3" fill="#4546c5"/>
<rect x="183" width="1.3" fill="#4a4bc1"/>
<rect x="184" width="1.3" fill="#4546c5"/>
<rect x="185" width="1.3" fill="#4d4ebe"/>
<rect x="186" width="1.3" fill="#5354b9"/>
<rect x="187" width="1.3" fill="#5152bb"/>
<rect x="188" width="1.3" fill="#5657b6"/>
<rect x="189" width="1.3" fill="#8c8787"/>
<rect x="190" width="1.3" fill="#a36868"/>
<rect x="191" width="1.3" fill="#84848f"/>
<rect x="192" width="1.3" fill="#6869a7"/>
<rect x="193" width="1.3" fill="#77779a"/>
<rect x="194" width="1.3" fill="#7c7d96"/>
<rect x="195" width="1.3" fill="#7c7c96"/>
<rect x="196" width="1.3" fill="#828291"/>
<rect x="197" width="1.3" fill="#88888b"/>
<rect x="198" width="1.3" fill="#8d8686"/>
<rect x="199" width="1.3" fill="#89898a"/>
<rect x="200" width="1.3" fill="#5d5eb0"/>
<rect x="201" width="1.3" fill="#3435d3"/>
<rect x="202" width="1.3" fill="#3031d7"/>
<rect x="203" width="1.3" fill="#3c3ecc"/>
<rect x="204" width="1.3" fill="#4a4bc1"/>
<rect x="205" width="1.3" fill="#6061ad"/>
<rect x="206" width="1.3" fill="#5b5cb2"/>
<rect x="207" width="1.3" fill="#5354b9"/>
<rect x="208" width="1.3" fill="#4a4bc0"/>
<rect x="209" width="2.3" fill="#4849c2"/>
<rect x="211" width="1.3" fill="#2829de"/>
<rect x="212" width="1.3" fill="#3335d4"/>
<rect x="213" width="1.3" fill="#4849c2"/>
<rect x="214" width="1.3" fill="#4f50bc"/>
<rect x="215" width="1.3" fill="#3435d3"/>
<rect x="216" width="1.3" fill="#3133d5"/>
<rect x="217" width="1.3" fill="#2c2eda"/>
<rect x="218" width="1.3" fill="#3638d1"/>
<rect x="219" width="1.3" fill="#3334d4"/>
<rect x="220" width="1.3" fill="#292bdc"/>
<rect x="221" width="1.3" fill="#2d2fd9"/>
<rect x="222" width="4.3" fill="#2022e4"/>
<rect x="226" width="1.3" fill="#2729de"/>
<rect x="227" width="1.3" fill="#3f41c9"/>
<rect x="228" width="1.3" fill="#4142c8"/>
<rect x="229" width="1.3" fill="#3839d0"/>
<rect x="230" width="1.3" fill="#2022e4"/>
<rect x="231" width="1.3" fill="#2526e0"/>
<rect x="232" width="1.3" fill="#2325e1"/>
<rect x="233" width="1.3" fill="#292bdd"/>
<rect x="234" width="1.3" fill="#3f40ca"/>
<rect x="235" width="1.3" fill="#4d4ebe"/>
<rect x="236" width="1.3" fill="#4f50bc"/>
<rect x="237" width="1.3" fill="#3d3ecb"/>
<rect x="238" width="1.3" fill="#2224e2"/>
<rect x="239" width="1.3" fill="#2022e4"/>
<rect x="240" width="1.3" fill="#2123e3"/>
<rect x="241" width="1.3" fill="#4b4cbf"/>
<rect x="242" width="1.3" fill="#4e4fbd"/>
<rect x="243" width="1.3" fill="#3132d6"/>
<rect x="244" width="1.3" fill="#383ad0"/>
<rect x="245" width="1.3" fill="#3638d1"/>
<rect x="246" width="1.3" fill="#4041c9"/>
<rect x="247" width="1.3" fill="#3b3dcd"/>
<rect x="248" width="1.3" fill="#3739d0"/>
<rect x="249" width="1.3" fill="#2c2eda"/>
<rect x="250" width="1.3" fill="#3e40ca"/>
<rect x="251" width="2.3" fill="#4142c8"/>
<rect x="253" width="1.3" fill="#5455b8"/>
<rect x="254" width="1.3" fill="#4b4cc0"/>
<rect x="255" width="1.3" fill="#5657b6"/>
<rect x="256" width="1.3" fill="#4f50bc"/>
<rect x="257" width="1.3" fill="#4647c4"/>
<rect x="258" width="1.3" fill="#494ac1"/>
<rect x="259" width="1.3" fill="#4243c7"/>
<rect x="260" width="1.3" fill="#2325e1"/>
<rect x="261" width="1.3" fill="#2022e4"/>
<rect x="262" width="1.3" fill="#2426e1"/>
<rect x="263" width="1.3" fill="#2224e3"/>
<rect x="264" width="9.3" fill="#2022e4"/>
<rect x="273" width="2.3" fill="#292bdc"/>
<rect x="275" width="1.3" fill="#2c2dda"/>
<rect x="276" width="1.3" fill="#2628de"/>
<rect x="277" width="1.3" fill="#2022e4"/>
<rect x="278" width="1.3" fill="#a26a6a"/>
<rect x="279" width="1.3" fill="#b15656"/>
<rect x="280" width="1.3" fill="#bc4747"/>
<rect x="281" width="1.3" fill="#bf4343"/>
<rect x="282" width="1.3" fill="#c04141"/>
<rect x="283" width="1.3" fill="#c63939"/>
<rect x="284" width="1.3" fill="#bd4545"/>
<rect x="285" width="1.3" fill="#b94b4b"/>
<rect x="286" width="1.3" fill="#aa5f5f"/>
<rect x="287" width="1.3" fill="#a96060"/>
<rect x="288" width="1.3" fill="#b25454"/>
<rect x="289" width="1.3" fill="#b45151"/>
<rect x="290" width="1.3" fill="#b64e4e"/>
<rect x="291" width="1.3" fill="#be4444"/>
<rect x="292" width="1.3" fill="#bb4848"/>
<rect x="293" width="1.3" fill="#b45252"/>
<rect x="294" width="1.3" fill="#a56565"/>
<rect x="295" width="1.3" fill="#a96060"/>
<rect x="296" width="1.3" fill="#9c7171"/>
<rect x="297" width="1.3" fill="#a26a6a"/>
<rect x="298" width="1.3" fill="#a66464"/>
<rect x="299" width="1.3" fill="#a06c6c"/>
<rect x="300" width="1.3" fill="#9b7373"/>
<rect x="301" width="1.3" fill="#9a7474"/>
<rect x="302" width="1.3" fill="#a56666"/>
<rect x="303" width="1.3" fill="#be4444"/>
<rect x="304" width="1.3" fill="#c33d3d"/>
<rect x="305" width="1.3" fill="#cf2d2d"/>
<rect x="306" width="1.3" fill="#c43c3c"/>
<rect x="307" width="1.3" fill="#c23e3e"/>
<rect x="308" width="1.3" fill="#c04141"/>
<rect x="309" width="1.3" fill="#b15555"/>
<rect x="310" width="1.3" fill="#ab5e5e"/>
<rect x="311" width="1.3" fill="#b15656"/>
<rect x="312" width="1.3" fill="#b35353"/>
<rect x="313" width="1.3" fill="#aa5f5f"/>
<rect x="314" width="1.3" fill="#a76363"/>
<rect x="315" width="1.3" fill="#ae5a5a"/>
<rect x="316" width="1.3" fill="#9d7070"/>
<rect x="317" width="1.3" fill="#937e7e"/>
<rect x="318" width="1.3" fill="#88888c"/>
<rect x="319" width="1.3" fill="#937d7d"/>
<rect x="320" width="1.3" fill="#b54f4f"/>
<rect x="321" width="1.3" fill="#d42626"/>
<rect x="322" width="1.3" fill="#c23e3e"/>
<rect x="323" width="1.3" fill="#bd4545"/>
<rect x="324" width="1.3" fill="#b84c4c"/>
<rect x="325" width="1.3" fill="#be4444"/>
<rect x="326" width="1.3" fill="#b55050"/>
<rect x="327" width="1.3" fill="#a76363"/>
<rect x="328" width="1.3" fill="#9a7474"/>
<rect x="329" width="1.3" fill="#967979"/>
<rect x="330" width="1.3" fill="#997676"/>
<rect x="331" width="1.3" fill="#9f6d6d"/>
<rect x="332" width="1.3" fill="#b94a4a"/>
<rect x="333" width="1.3" fill="#ae5959"/>
<rect x="334" width="1.3" fill="#ae5a5a"/>
<rect x="335" width="1.3" fill="#af5858"/>
<rect x="336" width="1.3" fill="#bd4646"/>
<rect x="337" width="1.3" fill="#bc4747"/>
<rect x="338" width="1.3" fill="#be4444"/>
<rect x="339" width="1.3" fill="#b35252"/>
<rect x="340" width="1.3" fill="#b45151"/>
<rect x="341" width="1.3" fill="#af5858"/>
<rect x="342" width="1.3" fill="#aa5f5f"/>
<rect x="343" width="1.3" fill="#af5858"/>
<rect x="344" width="1.3" fill="#b45151"/>
<rect x="345" width="2.3" fill="#b55050"/>
<rect x="347" width="1.3" fill="#b45151"/>
<rect x="348" width="1.3" fill="#a86161"/>
<rect x="349" width="1.3" fill="#a66464"/>
<rect x="350" width="1.3" fill="#a36969"/>
<rect x="351" width="1.3" fill="#9a7474"/>
<rect x="352" width="1.3" fill="#a16b6b"/>
<rect x="353" width="1.3" fill="#a86161"/>
<rect x="354" width="1.3" fill="#a36868"/>
<rect x="355" width="1.3" fill="#957b7b"/>
<rect x="356" width="1.3" fill="#987777"/>
<rect x="357" width="1.3" fill="#a56565"/>
<rect x="358" width="1.3" fill="#ac5d5d"/>
<rect x="359" width="2.3" fill="#a86161"/>
<rect x="361" width="1.3" fill="#a96060"/>
<rect x="362" width="1.3" fill="#d32828"/>
<rect x="363" width="1.3" fill="#d02c2c"/>
<rect x="364" width="1.3" fill="#ce2f2f"/>
<rect x="365" width="1.3" fill="#cd3030"/>
<rect x="366" width="1.3" fill="#c63939"/>
<rect x="367" width="1.3" fill="#b84d4d"/>
<rect x="368" width="1.3" fill="#c53a3a"/>
<rect x="369" width="1.3" fill="#ca3333"/>
<rect x="370" width="1.3" fill="#ce2f2f"/>
<rect x="371" width="1.3" fill="#d42727"/>
<rect x="372" width="1.3" fill="#d02c2c"/>
<rect x="373" width="1.3" fill="#d22929"/>
<rect x="374" width="1.3" fill="#c63939"/>
<rect x="375" width="1.3" fill="#c73838"/>
<rect x="376" width="1.3" fill="#ce2f2f"/>
<rect x="377" width="1.3" fill="#c63939"/>
<rect x="378" width="1.3" fill="#bf4242"/>
<rect x="379" width="1.3" fill="#bd4545"/>
<rect x="380" width="1.3" fill="#c04141"/>
<rect x="381" width="1.3" fill="#bc4646"/>
<rect x="382" width="1.3" fill="#b74d4d"/>
<rect x="383" width="1.3" fill="#b64f4f"/>
<rect x="384" width="1.3" fill="#c33d3d"/>
<rect x="385" width="1.3" fill="#ca3434"/>
<rect x="386" width="1.3" fill="#cb3232"/>
<rect x="387" width="1.3" fill="#c83737"/>
<rect x="388" width="1.3" fill="#c73737"/>
<rect x="389" width="1.3" fill="#ca3434"/>
<rect x="390" width="1.3" fill="#c43c3c"/>
<rect x="391" width="1.3" fill="#c14040"/>
<rect x="392" width="1.3" fill="#b74d4d"/>
<rect x="393" width="1.3" fill="#b05656"/>
<rect x="394" width="1.3" fill="#b15555"/>
<rect x="395" width="1.3" fill="#b55050"/>
<rect x="396" width="1.3" fill="#c63939"/>
<rect x="397" width="1.3" fill="#c83737"/>
<rect x="398" width="1.3" fill="#bd4545"/>
<rect x="399" width="1.3" fill="#be4444"/>
<rect x="400" width="1.3" fill="#a06c6c"/>
<rect x="401" width="1.3" fill="#997575"/>
<rect x="402" width="1.3" fill="#8f8484"/>
<rect x="403" width="1.3" fill="#918080"/>
<rect x="404" width="1.3" fill="#8c8787"/>
<rect x="405" width="1.3" fill="#8f8383"/>
<rect x="406" width="1.3" fill="#947d7d"/>
<rect x="407" width="1.3" fill="#957b7b"/>
<rect x="408" width="1.3" fill="#967a7a"/>
<rect x="409" width="1.3" fill="#937e7e"/>
<rect x="410" width="1.3" fill="#997575"/>
<rect x="411" width="1.3" fill="#997676"/>
<rect x="412" width="1.3" fill="#9d7171"/>
<rect x="413" width="1.3" fill="#987777"/>
<rect x="414" width="1.3" fill="#957b7b"/>
<rect x="415" width="1.3" fill="#d82121"/>
<rect x="416" width="1.3" fill="#d62424"/>
<rect x="417" width="1.3" fill="#d91f1f"/>
<rect x="418" width="2.3" fill="#da1e1e"/>
<rect x="420" width="2.3" fill="#d72222"/>
<rect x="422" width="1.3" fill="#d42626"/>
<rect x="423" width="2.3" fill="#da1e1e"/>
<rect x="425" width="1.3" fill="#d42626"/>
<rect x="426" width="1.3" fill="#d02c2c"/>
<rect x="427" width="1.3" fill="#cf2c2c"/>
<rect x="428" width="1.3" fill="#d42626"/>
<rect x="429" width="1.3" fill="#d82121"/>
<rect x="430" width="9.3" fill="#da1e1e"/>
<rect x="439" width="1.3" fill="#da1f1f"/>
<rect x="440" width="1.3" fill="#d72222"/>
<rect x="441" width="1.3" fill="#d62323"/>
<rect x="442" width="1.3" fill="#d72222"/>
<rect x="443" width="4.3" fill="#da1e1e"/>
<rect x="447" width="1.3" fill="#d92020"/>
<rect x="448" width="2.3" fill="#da1e1e"/>
<rect x="450" width="1.3" fill="#a96060"/>
<rect x="451" width="1.3" fill="#a56666"/>
<rect x="452" width="1.3" fill="#9d7171"/>
<rect x="453" width="0.5" fill="#9a7474"/>
</g>
<g transform="translate(0 289.44)">
<rect x="172.2" width="1.1" fill="#3536d2"/>
<rect x="173" width="1.3" fill="#3335d4"/>
<rect x="174" width="1.3" fill="#2a2bdc"/>
<rect x="175" width="1.3" fill="#2426e0"/>
<rect x="176" width="1.3" fill="#2628df"/>
<rect x="177" width="1.3" fill="#8d8686"/>
<rect x="178" width="1.3" fill="#9e6e6e"/>
<rect x="179" width="1.3" fill="#9f6e6e"/>
<rect x="180" width="1.3" fill="#848490"/>
<rect x="181" width="1.3" fill="#2728de"/>
<rect x="182" width="1.3" fill="#3c3dcc"/>
<rect x="183" width="1.3" fill="#3e3fcb"/>
<rect x="184" width="1.3" fill="#4041c9"/>
<rect x="185" width="1.3" fill="#4a4cc0"/>
<rect x="186" width="1.3" fill="#5657b6"/>
<rect x="187" width="1.3" fill="#4f50bc"/>
<rect x="188" width="1.3" fill="#5758b5"/>
<rect x="189" width="1.3" fill="#84848f"/>
<rect x="190" width="1.3" fill="#9e6f6f"/>
<rect x="191" width="1.3" fill="#7b7b97"/>
<rect x="192" width="1.3" fill="#6d6ea3"/>
<rect x="193" width="1.3" fill="#787899"/>
<rect x="194" width="1.3" fill="#6c6ca4"/>
<rect x="195" width="1.3" fill="#7b7b97"/>
<rect x="196" width="1.3" fill="#89898b"/>
<rect x="197" width="1.3" fill="#8b8989"/>
<rect x="198" width="1.3" fill="#8c8787"/>
<rect x="199" width="1.3" fill="#8b8989"/>
<rect x="200" width="1.3" fill="#595ab4"/>
<rect x="201" width="1.3" fill="#3a3bce"/>
<rect x="202" width="1.3" fill="#2a2cdb"/>
<rect x="203" width="1.3" fill="#3a3cce"/>
<rect x="204" width="1.3" fill="#5a5bb3"/>
<rect x="205" width="1.3" fill="#6061ad"/>
<rect x="206" width="1.3" fill="#6061ae"/>
<rect x="207" width="1.3" fill="#5a5bb3"/>
<rect x="208" width="1.3" fill="#4f50bc"/>
<rect x="209" width="1.3" fill="#4344c6"/>
<rect x="210" width="1.3" fill="#4546c5"/>
<rect x="211" width="1.3" fill="#3032d6"/>
<rect x="212" width="1.3" fill="#282add"/>
<rect x="213" width="1.3" fill="#4849c2"/>
<rect x="214" width="1.3" fill="#4748c3"/>
<rect x="215" width="1.3" fill="#2c2eda"/>
<rect x="216" width="1.3" fill="#3234d4"/>
<rect x="217" width="1.3" fill="#282add"/>
<rect x="218" width="1.3" fill="#2f31d7"/>
<rect x="219" width="1.3" fill="#282add"/>
<rect x="220" width="5.3" fill="#2022e4"/>
<rect x="225" width="1.3" fill="#2324e2"/>
<rect x="226" width="1.3" fill="#3032d6"/>
<rect x="227" width="1.3" fill="#3f40ca"/>
<rect x="228" width="1.3" fill="#4a4bc0"/>
<rect x="229" width="1.3" fill="#3133d6"/>
<rect x="230" width="1.3" fill="#2022e4"/>
<rect x="231" width="1.3" fill="#2325e1"/>
<rect x="232" width="1.3" fill="#2022e4"/>
<rect x="233" width="1.3" fill="#2527df"/>
<rect x="234" width="1.3" fill="#4446c5"/>
<rect x="235" width="1.3" fill="#4e4fbd"/>
<rect x="236" width="1.3" fill="#4345c6"/>
<rect x="237" width="1.3" fill="#4243c7"/>
<rect x="238" width="3.3" fill="#2022e4"/>
<rect x="241" width="2.3" fill="#4a4bc1"/>
<rect x="243" width="1.3" fill="#3032d6"/>
<rect x="244" width="1.3" fill="#3739d0"/>
<rect x="245" width="1.3" fill="#3435d3"/>
<rect x="246" width="1.3" fill="#3d3ecc"/>
<rect x="247" width="1.3" fill="#4244c7"/>
<rect x="248" width="1.3" fill="#3435d3"/>
<rect x="249" width="1.3" fill="#2022e4"/>
<rect x="250" width="1.3" fill="#3738d1"/>
<rect x="251" width="1.3" fill="#4445c5"/>
<rect x="252" width="1.3" fill="#4a4bc0"/>
<rect x="253" width="1.3" fill="#5152bb"/>
<rect x="254" width="1.3" fill="#4546c5"/>
<rect x="255" width="1.3" fill="#5152ba"/>
<rect x="256" width="1.3" fill="#494ac2"/>
<rect x="257" width="1.3" fill="#4345c6"/>
<rect x="258" width="1.3" fill="#4143c8"/>
<rect x="259" width="1.3" fill="#4345c6"/>
<rect x="260" width="4.3" fill="#2022e4"/>
<rect x="264" width="1.3" fill="#2123e3"/>
<rect x="265" width="8.3" fill="#2022e4"/>
<rect x="273" width="1.3" fill="#2829de"/>
<rect x="274" width="2.3" fill="#2b2ddb"/>
<rect x="276" width="1.3" fill="#2527e0"/>
<rect x="277" width="1.3" fill="#2022e4"/>
<rect x="278" width="1.3" fill="#a66464"/>
<rect x="279" width="1.3" fill="#b84c4c"/>
<rect x="280" width="1.3" fill="#ba4949"/>
<rect x="281" width="1.3" fill="#ba4a4a"/>
<rect x="282" width="1.3" fill="#c73838"/>
<rect x="283" width="1.3" fill="#c13f3f"/>
<rect x="284" width="1.3" fill="#c63939"/>
<rect x="285" width="1.3" fill="#c33e3e"/>
<rect x="286" width="1.3" fill="#ab5e5e"/>
<rect x="287" width="1.3" fill="#ab5d5d"/>
<rect x="288" width="1.3" fill="#b15656"/>
<rect x="289" width="1.3" fill="#b64f4f"/>
<rect x="290" width="1.3" fill="#b74d4d"/>
<rect x="291" width="1.3" fill="#c14040"/>
<rect x="292" width="1.3" fill="#be4444"/>
<rect x="293" width="1.3" fill="#b74d4d"/>
<rect x="294" width="1.3" fill="#ab5d5d"/>
<rect x="295" width="1.3" fill="#a26969"/>
<rect x="296" width="1.3" fill="#a16a6a"/>
<rect x="297" width="1.3" fill="#a86161"/>
<rect x="298" width="1.3" fill="#a06c6c"/>
<rect x="299" width="1.3" fill="#9e7070"/>
<rect x="300" width="1.3" fill="#9e6f6f"/>
<rect x="301" width="1.3" fill="#977979"/>
<rect x="302" width="1.3" fill="#9b7373"/>
<rect x="303" width="1.3" fill="#bd4545"/>
<rect x="304" width="1.3" fill="#c33d3d"/>
<rect x="305" width="1.3" fill="#cb3333"/>
<rect x="306" width="1.3" fill="#c23f3f"/>
<rect x="307" width="1.3" fill="#bb4848"/>
<rect x="308" width="1.3" fill="#b84c4c"/>
<rect x="309" width="1.3" fill="#b35353"/>
<rect x="310" width="1.3" fill="#b74d4d"/>
<rect x="311" width="1.3" fill="#b25555"/>
<rect x="312" width="1.3" fill="#af5858"/>
<rect x="313" width="1.3" fill="#a36969"/>
<rect x="314" width="1.3" fill="#a66565"/>
<rect x="315" width="1.3" fill="#a26a6a"/>
<rect x="316" width="1.3" fill="#a36868"/>
<rect x="317" width="1.3" fill="#8f8383"/>
<rect x="318" width="1.3" fill="#8b8989"/>
<rect x="319" width="1.3" fill="#937e7e"/>
<rect x="320" width="1.3" fill="#b35353"/>
<rect x="321" width="1.3" fill="#ca3434"/>
<rect x="322" width="1.3" fill="#c73838"/>
<rect x="323" width="1.3" fill="#ba4949"/>
<rect x="324" width="1.3" fill="#b94b4b"/>
<rect x="325" width="1.3" fill="#bb4848"/>
<rect x="326" width="1.3" fill="#b45151"/>
<rect x="327" width="1.3" fill="#a66464"/>
<rect x="328" width="1.3" fill="#a16b6b"/>
<rect x="329" width="1.3" fill="#987777"/>
<rect x="330" width="1.3" fill="#967a7a"/>
<rect x="331" width="1.3" fill="#a06c6c"/>
<rect x="332" width="1.3" fill="#ba4949"/>
<rect x="333" width="1.3" fill="#a66464"/>
<rect x="334" width="1.3" fill="#b05757"/>
<rect x="335" width="1.3" fill="#b15555"/>
<rect x="336" width="1.3" fill="#b54f4f"/>
<rect x="337" width="1.3" fill="#bb4848"/>
<rect x="338" width="1.3" fill="#b94a4a"/>
<rect x="339" width="1.3" fill="#bb4747"/>
<rect x="340" width="1.3" fill="#bd4545"/>
<rect x="341" width="1.3" fill="#af5959"/>
<rect x="342" width="1.3" fill="#ac5c5c"/>
<rect x="343" width="1.3" fill="#b25555"/>
<rect x="344" width="1.3" fill="#b55050"/>
<rect x="345" width="1.3" fill="#b94a4a"/>
<rect x="346" width="1.3" fill="#b55050"/>
<rect x="347" width="1.3" fill="#ad5b5b"/>
<rect x="348" width="1.3" fill="#a56565"/>
<rect x="349" width="1.3" fill="#a76363"/>
<rect x="350" width="1.3" fill="#a56565"/>
<rect x="351" width="1.3" fill="#9f6e6e"/>
<rect x="352" width="1.3" fill="#a16b6b"/>
<rect x="353" width="1.3" fill="#a46666"/>
<rect x="354" width="1.3" fill="#9f6e6e"/>
<rect x="355" width="1.3" fill="#957c7c"/>
<rect x="356" width="1.3" fill="#9d7070"/>
<rect x="357" width="1.3" fill="#ab5e5e"/>
<rect x="358" width="1.3" fill="#a96060"/>
<rect x="359" width="1.3" fill="#ad5b5b"/>
<rect x="360" width="1.3" fill="#a96060"/>
<rect x="361" width="1.3" fill="#ae5959"/>
<rect x="362" width="1.3" fill="#cf2d2d"/>
<rect x="363" width="1.3" fill="#d62323"/>
<rect x="364" width="1.3" fill="#d12a2a"/>
<rect x="365" width="1.3" fill="#d02b2b"/>
<rect x="366" width="1.3" fill="#c53a3a"/>
<rect x="367" width="1.3" fill="#bc4646"/>
<rect x="368" width="1.3" fill="#bf4343"/>
<rect x="369" width="1.3" fill="#cd3030"/>
<rect x="370" width="1.3" fill="#cf2d2d"/>
<rect x="371" width="1.3" fill="#d12a2a"/>
<rect x="372" width="1.3" fill="#ce2e2e"/>
<rect x="373" width="1.3" fill="#d72323"/>
<rect x="374" width="1.3" fill="#cc3131"/>
<rect x="375" width="1.3" fill="#c83636"/>
<rect x="376" width="1.3" fill="#cb3232"/>
<rect x="377" width="1.3" fill="#ca3434"/>
<rect x="378" width="1.3" fill="#c43c3c"/>
<rect x="379" width="1.3" fill="#c04242"/>
<rect x="380" width="1.3" fill="#c43c3c"/>
<rect x="381" width="1.3" fill="#bc4646"/>
<rect x="382" width="1.3" fill="#b45252"/>
<rect x="383" width="1.3" fill="#b64e4e"/>
<rect x="384" width="1.3" fill="#c04141"/>
<rect x="385" width="1.3" fill="#c93535"/>
<rect x="386" width="1.3" fill="#ce2f2f"/>
<rect x="387" width="1.3" fill="#cb3333"/>
<rect x="388" width="1.3" fill="#c53b3b"/>
<rect x="389" width="1.3" fill="#c63939"/>
<rect x="390" width="1.3" fill="#c14040"/>
<rect x="391" width="1.3" fill="#c04141"/>
<rect x="392" width="1.3" fill="#b55050"/>
<rect x="393" width="1.3" fill="#b45252"/>
<rect x="394" width="1.3" fill="#b15555"/>
<rect x="395" width="1.3" fill="#ba4a4a"/>
<rect x="396" width="1.3" fill="#c93535"/>
<rect x="397" width="1.3" fill="#c53a3a"/>
<rect x="398" width="1.3" fill="#bf4343"/>
<rect x="399" width="1.3" fill="#ba4949"/>
<rect x="400" width="1.3" fill="#967a7a"/>
<rect x="401" width="1.3" fill="#987777"/>
<rect x="402" width="1.3" fill="#937e7e"/>
<rect x="403" width="1.3" fill="#927f7f"/>
<rect x="404" width="1.3" fill="#8a8a8a"/>
<rect x="405" width="1.3" fill="#8c8888"/>
<rect x="406" width="1.3" fill="#977979"/>
<rect x="407" width="1.3" fill="#9c7171"/>
<rect x="408" width="1.3" fill="#967979"/>
<rect x="409" width="1.3" fill="#937e7e"/>
<rect x="410" width="1.3" fill="#9d7070"/>
<rect x="411" width="1.3" fill="#9c7171"/>
<rect x="412" width="1.3" fill="#9d7070"/>
<rect x="413" width="1.3" fill="#9c7272"/>
<rect x="414" width="1.3" fill="#9e6f6f"/>
<rect x="415" width="1.3" fill="#d91f1f"/>
<rect x="416" width="1.3" fill="#d82121"/>
<rect x="417" width="1.3" fill="#d52424"/>
<rect x="418" width="2.3" fill="#da1e1e"/>
<rect x="420" width="1.3" fill="#d91f1f"/>
<rect x="421" width="1.3" fill="#d72121"/>
<rect x="422" width="1.3" fill="#d52424"/>
<rect x="423" width="2.3" fill="#da1e1e"/>
<rect x="425" width="1.3" fill="#d22828"/>
<rect x="426" width="1.3" fill="#d02c2c"/>
<rect x="427" width="1.3" fill="#ce2f2f"/>
<rect x="428" width="1.3" fill="#d32727"/>
<rect x="429" width="1.3" fill="#d92020"/>
<rect x="430" width="1.3" fill="#d91f1f"/>
<rect x="431" width="7.3" fill="#da1e1e"/>
<rect x="438" width="1.3" fill="#d91f1f"/>
<rect x="439" width="1.3" fill="#da1e1e"/>
<rect x="440" width="1.3" fill="#d52424"/>
<rect x="441" width="1.3" fill="#d52525"/>
<rect x="442" width="1.3" fill="#d42626"/>
<rect x="443" width="7.3" fill="#da1e1e"/>
<rect x="450" width="1.3" fill="#a36868"/>
<rect x="451" width="1.3" fill="#a66565"/>
<rect x="452" width="1.5" fill="#9d7171"/>
</g>
</g></g>
<rect x="172" y="313.2" width="281.5" height="2.5" fill="url(#cb)"/>
<text x="172.2" y="319.4" font-size="4.6" fill="#333">-2.39</text>
<text x="312.8" y="319.4" font-size="4.6" fill="#333" text-anchor="middle">0.00</text>
<text x="453.5" y="319.4" font-size="4.6" fill="#333" text-anchor="end">2.39</text>
<text x="258.5" y="337.3" font-size="5.2" fill="#000" textLength="52.5" lengthAdjust="spacingAndGlyphs">Hierarchical Clustering</text>
<path d="M166.6 340.7H279.35" stroke="#7d9a5a" stroke-width="0.9" fill="none"/>
<path d="M279.35 340.7H392.1" stroke="#d8aa66" stroke-width="0.9" fill="none"/>
<path d="M166.6 368.8V340.7" stroke="#5b7d45" stroke-width="1.1" fill="none"/>
<path d="M392.1 362.1V340.7" stroke="#dc9a50" stroke-width="1.1" fill="none"/>
<path d="M75.42 397V390.2M81.87 397V390.2M75.42 390.2H81.87M78.64 390.2V388.3M88.31 397V388.3M78.64 388.3H88.31M107.64 397V389.4M114.09 397V389.4M107.64 389.4H114.09M101.2 397V387.5M110.86 389.4V387.5M101.2 387.5H110.86M94.75 397V380.8M106.03 387.5V380.8M94.75 380.8H106.03M120.53 397V383.7M126.97 397V383.7M120.53 383.7H126.97M100.39 380.8V379M123.75 383.7V379M100.39 379H123.75M83.48 388.3V377.3M112.07 379V377.3M83.48 377.3H112.07M97.77 377.3V374.1M133.42 397V374.1M97.77 374.1H133.42M152.75 397V390.8M159.19 397V390.8M152.75 390.8H159.19M165.64 397V389.4M172.08 397V389.4M165.64 389.4H172.08M178.53 397V389.4M184.97 397V389.4M178.53 389.4H184.97M168.86 389.4V388M181.75 389.4V388M168.86 388H181.75M155.97 390.8V385.2M175.3 388V385.2M155.97 385.2H175.3M197.86 397V390M204.3 397V390M197.86 390H204.3M191.41 397V387.5M201.08 390V387.5M191.41 387.5H201.08M210.74 397V389.5M217.19 397V389.5M210.74 389.5H217.19M223.63 397V387.5M230.08 397V387.5M223.63 387.5H230.08M213.97 389.5V386M226.85 387.5V386M213.97 386H226.85M196.25 387.5V384M220.41 386V384M196.25 384H220.41M165.64 385.2V382.7M208.33 384V382.7M165.64 382.7H208.33M242.96 397V388M249.41 397V388M242.96 388H249.41M236.52 397V385.4M246.19 388V385.4M236.52 385.4H246.19M255.85 397V389M262.3 397V389M255.85 389H262.3M275.18 397V389.5M281.63 397V389.5M275.18 389.5H281.63M268.74 397V386M278.41 389.5V386M268.74 386H278.41M259.07 389V383.5M273.57 386V383.5M259.07 383.5H273.57M241.35 385.4V382M266.32 383.5V382M241.35 382H266.32M288.07 397V388.5M294.52 397V388.5M288.07 388.5H294.52M307.4 397V390M313.85 397V390M307.4 390H313.85M300.96 397V386M310.63 390V386M300.96 386H310.63M320.29 397V385M326.74 397V385M320.29 385H326.74M305.79 386V383.5M323.51 385V383.5M305.79 383.5H323.51M291.29 388.5V380.5M314.65 383.5V380.5M291.29 380.5H314.65M253.84 382V381M302.97 380.5V381M253.84 381H302.97M186.98 382.7V380.5M278.41 381V380.5M186.98 380.5H278.41M146.31 397V378M232.69 380.5V378M146.31 378H265M265 378V376.2M333.18 397V376.2M265 376.2H333.18M139.86 397V371.7M298.6 376.2V371.7M139.86 371.7H298.6M115.6 374.1V368.8M219.2 371.7V368.8M115.6 368.8H219.2" stroke="#5b7d45" stroke-width="1.15" fill="none"/>
<path d="M346.07 397V385.6M352.51 397V385.6M346.07 385.6H352.51M371.84 397V388.5M378.29 397V388.5M371.84 388.5H378.29M365.4 397V386M375.07 388.5V386M365.4 386H375.07M384.73 397V387M391.18 397V387M384.73 387H391.18M370.23 386V383.5M387.95 387V383.5M370.23 383.5H387.95M397.62 397V388.4M404.06 397V388.4M397.62 388.4H404.06M423.39 397V391.7M429.84 397V391.7M423.39 391.7H429.84M416.95 397V386.4M426.62 391.7V386.4M416.95 386.4H426.62M410.51 397V384M421.78 386.4V384M410.51 384H421.78M400.84 388.4V381.8M416.15 384V381.8M400.84 381.8H416.15M379.09 383.5V381M408.49 381.8V381M379.09 381H408.49M358.96 397V379.3M393.79 381V379.3M358.96 379.3H393.79M349.29 385.6V373.5M376.37 379.3V373.5M349.29 373.5H376.37M436.28 397V379.2M442.73 397V379.2M436.28 379.2H442.73M362.83 373.5V371.1M439.5 379.2V371.1M362.83 371.1H439.5M462.06 397V391.2M468.5 397V391.2M462.06 391.2H468.5M455.61 397V387.2M465.28 391.2V387.2M455.61 387.2H465.28M460.45 387.2V384.6M474.95 397V384.6M460.45 384.6H474.95M467.7 384.6V380.8M481.39 397V380.8M467.7 380.8H481.39M449.17 397V376.9M474.54 380.8V376.9M449.17 376.9H474.54M461.86 376.9V375.4M487.83 397V375.4M461.86 375.4H487.83M474.85 375.4V373.1M494.28 397V373.1M474.85 373.1H494.28M401.17 371.1V369.4M484.56 373.1V369.4M401.17 369.4H484.56M339.62 397V362.1M444.8 369.4V362.1M339.62 362.1H444.8" stroke="#dc9a50" stroke-width="1.15" fill="none"/>
<path d="M504.7 339.7V397.1M504.7 340.2H506.3M504.7 345.8H506.3M504.7 351.4H506.3M504.7 357.2H506.3M504.7 363.1H506.3M504.7 368.7H506.3M504.7 374.3H506.3M504.7 380.1H506.3M504.7 385.7H506.3M504.7 391.4H506.3M504.7 397.1H506.3" stroke="#aaa" stroke-width="0.6" fill="none"/><text x="507.6" y="344" font-size="5.1" font-weight="bold" fill="#444">6.58</text><text x="507.6" y="353.2" font-size="5.1" font-weight="bold" fill="#444">5.26</text><text x="507.6" y="364.9" font-size="5.1" font-weight="bold" fill="#444">3.95</text><text x="507.6" y="376.1" font-size="5.1" font-weight="bold" fill="#444">2.63</text><text x="507.6" y="387.5" font-size="5.1" font-weight="bold" fill="#444">1.32</text><text x="507.6" y="396.1" font-size="5.1" font-weight="bold" fill="#444">0.00</text>
<g filter="url(#bl2)" shape-rendering="crispEdges">
<rect x="72.2" y="405.6" width="6.84" height="16.59" fill="#3738d1"/>
<rect x="78.64" y="405.6" width="6.84" height="16.59" fill="#3738d1"/>
<rect x="85.09" y="405.6" width="6.84" height="16.59" fill="#3738d1"/>
<rect x="91.53" y="405.6" width="6.84" height="16.59" fill="#3738d1"/>
<rect x="97.98" y="405.6" width="6.84" height="16.59" fill="#2224e2"/>
<rect x="104.42" y="405.6" width="6.84" height="16.59" fill="#2022e4"/>
<rect x="110.86" y="405.6" width="6.84" height="16.59" fill="#3738d1"/>
<rect x="117.31" y="405.6" width="6.84" height="16.59" fill="#3738d1"/>
<rect x="123.75" y="405.6" width="6.84" height="16.59" fill="#3738d1"/>
<rect x="130.2" y="405.6" width="6.84" height="16.59" fill="#2022e4"/>
<rect x="136.64" y="405.6" width="6.84" height="16.59" fill="#6061ad"/>
<rect x="143.08" y="405.6" width="6.84" height="16.59" fill="#6061ad"/>
<rect x="149.53" y="405.6" width="6.84" height="16.59" fill="#2022e4"/>
<rect x="155.97" y="405.6" width="6.84" height="16.59" fill="#2022e4"/>
<rect x="162.42" y="405.6" width="6.84" height="16.59" fill="#2224e2"/>
<rect x="168.86" y="405.6" width="6.84" height="16.59" fill="#6061ad"/>
<rect x="175.3" y="405.6" width="6.84" height="16.59" fill="#4c4dbf"/>
<rect x="181.75" y="405.6" width="6.84" height="16.59" fill="#4c4dbf"/>
<rect x="188.19" y="405.6" width="6.84" height="16.59" fill="#4c4dbf"/>
<rect x="194.63" y="405.6" width="6.84" height="16.59" fill="#2022e4"/>
<rect x="201.08" y="405.6" width="6.84" height="16.59" fill="#6061ad"/>
<rect x="207.52" y="405.6" width="6.84" height="16.59" fill="#4c4dbf"/>
<rect x="213.97" y="405.6" width="6.84" height="16.59" fill="#6061ad"/>
<rect x="220.41" y="405.6" width="6.84" height="16.59" fill="#4c4dbf"/>
<rect x="226.85" y="405.6" width="6.84" height="16.59" fill="#3738d1"/>
<rect x="233.3" y="405.6" width="6.84" height="16.59" fill="#75769c"/>
<rect x="239.74" y="405.6" width="6.84" height="16.59" fill="#2224e2"/>
<rect x="246.19" y="405.6" width="6.84" height="16.59" fill="#2224e2"/>
<rect x="252.63" y="405.6" width="6.84" height="16.59" fill="#2224e2"/>
<rect x="259.07" y="405.6" width="6.84" height="16.59" fill="#3738d1"/>
<rect x="265.52" y="405.6" width="6.84" height="16.59" fill="#75769c"/>
<rect x="271.96" y="405.6" width="6.84" height="16.59" fill="#75769c"/>
<rect x="278.41" y="405.6" width="6.84" height="16.59" fill="#75769c"/>
<rect x="284.85" y="405.6" width="6.84" height="16.59" fill="#4c4dbf"/>
<rect x="291.29" y="405.6" width="6.84" height="16.59" fill="#6061ad"/>
<rect x="297.74" y="405.6" width="6.84" height="16.59" fill="#75769c"/>
<rect x="304.18" y="405.6" width="6.84" height="16.59" fill="#8a8a8a"/>
<rect x="310.63" y="405.6" width="6.84" height="16.59" fill="#75769c"/>
<rect x="317.07" y="405.6" width="6.84" height="16.59" fill="#8a8a8a"/>
<rect x="323.51" y="405.6" width="6.84" height="16.59" fill="#75769c"/>
<rect x="329.96" y="405.6" width="6.84" height="16.59" fill="#2224e2"/>
<rect x="336.4" y="405.6" width="6.84" height="16.59" fill="#a96060"/>
<rect x="342.85" y="405.6" width="6.84" height="16.59" fill="#c93535"/>
<rect x="349.29" y="405.6" width="6.84" height="16.59" fill="#c93535"/>
<rect x="355.73" y="405.6" width="6.84" height="16.59" fill="#d82020"/>
<rect x="362.18" y="405.6" width="6.84" height="16.59" fill="#a96060"/>
<rect x="368.62" y="405.6" width="6.84" height="16.59" fill="#c93535"/>
<rect x="375.07" y="405.6" width="6.84" height="16.59" fill="#a96060"/>
<rect x="381.51" y="405.6" width="6.84" height="16.59" fill="#b94a4a"/>
<rect x="387.95" y="405.6" width="6.84" height="16.59" fill="#c93535"/>
<rect x="394.4" y="405.6" width="6.84" height="16.59" fill="#c93535"/>
<rect x="400.84" y="405.6" width="6.84" height="16.59" fill="#d82020"/>
<rect x="407.28" y="405.6" width="6.84" height="16.59" fill="#d82020"/>
<rect x="413.73" y="405.6" width="6.84" height="16.59" fill="#c93535"/>
<rect x="420.17" y="405.6" width="6.84" height="16.59" fill="#c93535"/>
<rect x="426.62" y="405.6" width="6.84" height="16.59" fill="#c93535"/>
<rect x="433.06" y="405.6" width="6.84" height="16.59" fill="#d82020"/>
<rect x="439.5" y="405.6" width="6.84" height="16.59" fill="#c93535"/>
<rect x="445.95" y="405.6" width="6.84" height="16.59" fill="#9a7575"/>
<rect x="452.39" y="405.6" width="6.84" height="16.59" fill="#8a8a8a"/>
<rect x="458.84" y="405.6" width="6.84" height="16.59" fill="#9a7575"/>
<rect x="465.28" y="405.6" width="6.84" height="16.59" fill="#8a8a8a"/>
<rect x="471.72" y="405.6" width="6.84" height="16.59" fill="#4c4dbf"/>
<rect x="478.17" y="405.6" width="6.84" height="16.59" fill="#9a7575"/>
<rect x="484.61" y="405.6" width="6.84" height="16.59" fill="#8a8a8a"/>
<rect x="491.06" y="405.6" width="6.84" height="16.59" fill="#8a8a8a"/>
<rect x="72.2" y="421.79" width="6.84" height="16.59" fill="#3738d1"/>
<rect x="78.64" y="421.79" width="6.84" height="16.59" fill="#3738d1"/>
<rect x="85.09" y="421.79" width="6.84" height="16.59" fill="#6061ad"/>
<rect x="91.53" y="421.79" width="6.84" height="16.59" fill="#3738d1"/>
<rect x="97.98" y="421.79" width="6.84" height="16.59" fill="#3738d1"/>
<rect x="104.42" y="421.79" width="6.84" height="16.59" fill="#3738d1"/>
<rect x="110.86" y="421.79" width="6.84" height="16.59" fill="#3738d1"/>
<rect x="117.31" y="421.79" width="6.84" height="16.59" fill="#2022e4"/>
<rect x="123.75" y="421.79" width="6.84" height="16.59" fill="#3738d1"/>
<rect x="130.2" y="421.79" width="6.84" height="16.59" fill="#3738d1"/>
<rect x="136.64" y="421.79" width="6.84" height="16.59" fill="#3738d1"/>
<rect x="143.08" y="421.79" width="6.84" height="16.59" fill="#3738d1"/>
<rect x="149.53" y="421.79" width="6.84" height="16.59" fill="#3738d1"/>
<rect x="155.97" y="421.79" width="6.84" height="16.59" fill="#2224e2"/>
<rect x="162.42" y="421.79" width="6.84" height="16.59" fill="#6061ad"/>
<rect x="168.86" y="421.79" width="6.84" height="16.59" fill="#6061ad"/>
<rect x="175.3" y="421.79" width="6.84" height="16.59" fill="#2224e2"/>
<rect x="181.75" y="421.79" width="6.84" height="16.59" fill="#3738d1"/>
<rect x="188.19" y="421.79" width="6.84" height="16.59" fill="#3738d1"/>
<rect x="194.63" y="421.79" width="6.84" height="16.59" fill="#75769c"/>
<rect x="201.08" y="421.79" width="6.84" height="16.59" fill="#6061ad"/>
<rect x="207.52" y="421.79" width="6.84" height="16.59" fill="#3738d1"/>
<rect x="213.97" y="421.79" width="6.84" height="16.59" fill="#4c4dbf"/>
<rect x="220.41" y="421.79" width="6.84" height="16.59" fill="#3738d1"/>
<rect x="226.85" y="421.79" width="6.84" height="16.59" fill="#75769c"/>
<rect x="233.3" y="421.79" width="6.84" height="16.59" fill="#6061ad"/>
<rect x="239.74" y="421.79" width="6.84" height="16.59" fill="#8a8a8a"/>
<rect x="246.19" y="421.79" width="6.84" height="16.59" fill="#3738d1"/>
<rect x="252.63" y="421.79" width="6.84" height="16.59" fill="#3738d1"/>
<rect x="259.07" y="421.79" width="6.84" height="16.59" fill="#75769c"/>
<rect x="265.52" y="421.79" width="6.84" height="16.59" fill="#4c4dbf"/>
<rect x="271.96" y="421.79" width="6.84" height="16.59" fill="#3738d1"/>
<rect x="278.41" y="421.79" width="6.84" height="16.59" fill="#75769c"/>
<rect x="284.85" y="421.79" width="6.84" height="16.59" fill="#4c4dbf"/>
<rect x="291.29" y="421.79" width="6.84" height="16.59" fill="#75769c"/>
<rect x="297.74" y="421.79" width="6.84" height="16.59" fill="#75769c"/>
<rect x="304.18" y="421.79" width="6.84" height="16.59" fill="#8a8a8a"/>
<rect x="310.63" y="421.79" width="6.84" height="16.59" fill="#75769c"/>
<rect x="317.07" y="421.79" width="6.84" height="16.59" fill="#8a8a8a"/>
<rect x="323.51" y="421.79" width="6.84" height="16.59" fill="#8a8a8a"/>
<rect x="329.96" y="421.79" width="6.84" height="16.59" fill="#3738d1"/>
<rect x="336.4" y="421.79" width="6.84" height="16.59" fill="#a96060"/>
<rect x="342.85" y="421.79" width="6.84" height="16.59" fill="#b94a4a"/>
<rect x="349.29" y="421.79" width="6.84" height="16.59" fill="#b94a4a"/>
<rect x="355.73" y="421.79" width="6.84" height="16.59" fill="#9a7575"/>
<rect x="362.18" y="421.79" width="6.84" height="16.59" fill="#a96060"/>
<rect x="368.62" y="421.79" width="6.84" height="16.59" fill="#c93535"/>
<rect x="375.07" y="421.79" width="6.84" height="16.59" fill="#b94a4a"/>
<rect x="381.51" y="421.79" width="6.84" height="16.59" fill="#b94a4a"/>
<rect x="387.95" y="421.79" width="6.84" height="16.59" fill="#c93535"/>
<rect x="394.4" y="421.79" width="6.84" height="16.59" fill="#d82020"/>
<rect x="400.84" y="421.79" width="6.84" height="16.59" fill="#c93535"/>
<rect x="407.28" y="421.79" width="6.84" height="16.59" fill="#c93535"/>
<rect x="413.73" y="421.79" width="6.84" height="16.59" fill="#b94a4a"/>
<rect x="420.17" y="421.79" width="6.84" height="16.59" fill="#c93535"/>
<rect x="426.62" y="421.79" width="6.84" height="16.59" fill="#c93535"/>
<rect x="433.06" y="421.79" width="6.84" height="16.59" fill="#d82020"/>
<rect x="439.5" y="421.79" width="6.84" height="16.59" fill="#c93535"/>
<rect x="445.95" y="421.79" width="6.84" height="16.59" fill="#75769c"/>
<rect x="452.39" y="421.79" width="6.84" height="16.59" fill="#6061ad"/>
<rect x="458.84" y="421.79" width="6.84" height="16.59" fill="#8a8a8a"/>
<rect x="465.28" y="421.79" width="6.84" height="16.59" fill="#9a7575"/>
<rect x="471.72" y="421.79" width="6.84" height="16.59" fill="#2224e2"/>
<rect x="478.17" y="421.79" width="6.84" height="16.59" fill="#3738d1"/>
<rect x="484.61" y="421.79" width="6.84" height="16.59" fill="#3738d1"/>
<rect x="491.06" y="421.79" width="6.84" height="16.59" fill="#8a8a8a"/>
<rect x="72.2" y="437.99" width="6.84" height="16.59" fill="#3738d1"/>
<rect x="78.64" y="437.99" width="6.84" height="16.59" fill="#6061ad"/>
<rect x="85.09" y="437.99" width="6.84" height="16.59" fill="#6061ad"/>
<rect x="91.53" y="437.99" width="6.84" height="16.59" fill="#2022e4"/>
<rect x="97.98" y="437.99" width="6.84" height="16.59" fill="#2022e4"/>
<rect x="104.42" y="437.99" width="6.84" height="16.59" fill="#2224e2"/>
<rect x="110.86" y="437.99" width="6.84" height="16.59" fill="#2224e2"/>
<rect x="117.31" y="437.99" width="6.84" height="16.59" fill="#2224e2"/>
<rect x="123.75" y="437.99" width="6.84" height="16.59" fill="#6061ad"/>
<rect x="130.2" y="437.99" width="6.84" height="16.59" fill="#2224e2"/>
<rect x="136.64" y="437.99" width="6.84" height="16.59" fill="#c93535"/>
<rect x="143.08" y="437.99" width="6.84" height="16.59" fill="#75769c"/>
<rect x="149.53" y="437.99" width="6.84" height="16.59" fill="#2022e4"/>
<rect x="155.97" y="437.99" width="6.84" height="16.59" fill="#3738d1"/>
<rect x="162.42" y="437.99" width="6.84" height="16.59" fill="#3738d1"/>
<rect x="168.86" y="437.99" width="6.84" height="16.59" fill="#3738d1"/>
<rect x="175.3" y="437.99" width="6.84" height="16.59" fill="#6061ad"/>
<rect x="181.75" y="437.99" width="6.84" height="16.59" fill="#6061ad"/>
<rect x="188.19" y="437.99" width="6.84" height="16.59" fill="#6061ad"/>
<rect x="194.63" y="437.99" width="6.84" height="16.59" fill="#3738d1"/>
<rect x="201.08" y="437.99" width="6.84" height="16.59" fill="#3738d1"/>
<rect x="207.52" y="437.99" width="6.84" height="16.59" fill="#3738d1"/>
<rect x="213.97" y="437.99" width="6.84" height="16.59" fill="#4c4dbf"/>
<rect x="220.41" y="437.99" width="6.84" height="16.59" fill="#3738d1"/>
<rect x="226.85" y="437.99" width="6.84" height="16.59" fill="#75769c"/>
<rect x="233.3" y="437.99" width="6.84" height="16.59" fill="#3738d1"/>
<rect x="239.74" y="437.99" width="6.84" height="16.59" fill="#2224e2"/>
<rect x="246.19" y="437.99" width="6.84" height="16.59" fill="#75769c"/>
<rect x="252.63" y="437.99" width="6.84" height="16.59" fill="#75769c"/>
<rect x="259.07" y="437.99" width="6.84" height="16.59" fill="#75769c"/>
<rect x="265.52" y="437.99" width="6.84" height="16.59" fill="#3738d1"/>
<rect x="271.96" y="437.99" width="6.84" height="16.59" fill="#3738d1"/>
<rect x="278.41" y="437.99" width="6.84" height="16.59" fill="#75769c"/>
<rect x="284.85" y="437.99" width="6.84" height="16.59" fill="#4c4dbf"/>
<rect x="291.29" y="437.99" width="6.84" height="16.59" fill="#6061ad"/>
<rect x="297.74" y="437.99" width="6.84" height="16.59" fill="#6061ad"/>
<rect x="304.18" y="437.99" width="6.84" height="16.59" fill="#75769c"/>
<rect x="310.63" y="437.99" width="6.84" height="16.59" fill="#75769c"/>
<rect x="317.07" y="437.99" width="6.84" height="16.59" fill="#75769c"/>
<rect x="323.51" y="437.99" width="6.84" height="16.59" fill="#4c4dbf"/>
<rect x="329.96" y="437.99" width="6.84" height="16.59" fill="#75769c"/>
<rect x="336.4" y="437.99" width="6.84" height="16.59" fill="#b94a4a"/>
<rect x="342.85" y="437.99" width="6.84" height="16.59" fill="#c93535"/>
<rect x="349.29" y="437.99" width="6.84" height="16.59" fill="#a96060"/>
<rect x="355.73" y="437.99" width="6.84" height="16.59" fill="#75769c"/>
<rect x="362.18" y="437.99" width="6.84" height="16.59" fill="#9a7575"/>
<rect x="368.62" y="437.99" width="6.84" height="16.59" fill="#b94a4a"/>
<rect x="375.07" y="437.99" width="6.84" height="16.59" fill="#a96060"/>
<rect x="381.51" y="437.99" width="6.84" height="16.59" fill="#b94a4a"/>
<rect x="387.95" y="437.99" width="6.84" height="16.59" fill="#b94a4a"/>
<rect x="394.4" y="437.99" width="6.84" height="16.59" fill="#c93535"/>
<rect x="400.84" y="437.99" width="6.84" height="16.59" fill="#c93535"/>
<rect x="407.28" y="437.99" width="6.84" height="16.59" fill="#b94a4a"/>
<rect x="413.73" y="437.99" width="6.84" height="16.59" fill="#c93535"/>
<rect x="420.17" y="437.99" width="6.84" height="16.59" fill="#c93535"/>
<rect x="426.62" y="437.99" width="6.84" height="16.59" fill="#c93535"/>
<rect x="433.06" y="437.99" width="6.84" height="16.59" fill="#d82020"/>
<rect x="439.5" y="437.99" width="6.84" height="16.59" fill="#c93535"/>
<rect x="445.95" y="437.99" width="6.84" height="16.59" fill="#6061ad"/>
<rect x="452.39" y="437.99" width="6.84" height="16.59" fill="#75769c"/>
<rect x="458.84" y="437.99" width="6.84" height="16.59" fill="#3738d1"/>
<rect x="465.28" y="437.99" width="6.84" height="16.59" fill="#6061ad"/>
<rect x="471.72" y="437.99" width="6.84" height="16.59" fill="#4c4dbf"/>
<rect x="478.17" y="437.99" width="6.84" height="16.59" fill="#6061ad"/>
<rect x="484.61" y="437.99" width="6.84" height="16.59" fill="#6061ad"/>
<rect x="491.06" y="437.99" width="6.84" height="16.59" fill="#75769c"/>
<rect x="72.2" y="454.18" width="6.84" height="16.59" fill="#6061ad"/>
<rect x="78.64" y="454.18" width="6.84" height="16.59" fill="#6061ad"/>
<rect x="85.09" y="454.18" width="6.84" height="16.59" fill="#4c4dbf"/>
<rect x="91.53" y="454.18" width="6.84" height="16.59" fill="#4c4dbf"/>
<rect x="97.98" y="454.18" width="6.84" height="16.59" fill="#6061ad"/>
<rect x="104.42" y="454.18" width="6.84" height="16.59" fill="#6061ad"/>
<rect x="110.86" y="454.18" width="6.84" height="16.59" fill="#75769c"/>
<rect x="117.31" y="454.18" width="6.84" height="16.59" fill="#8a8a8a"/>
<rect x="123.75" y="454.18" width="6.84" height="16.59" fill="#6061ad"/>
<rect x="130.2" y="454.18" width="6.84" height="16.59" fill="#9a7575"/>
<rect x="136.64" y="454.18" width="6.84" height="16.59" fill="#6061ad"/>
<rect x="143.08" y="454.18" width="6.84" height="16.59" fill="#75769c"/>
<rect x="149.53" y="454.18" width="6.84" height="16.59" fill="#75769c"/>
<rect x="155.97" y="454.18" width="6.84" height="16.59" fill="#75769c"/>
<rect x="162.42" y="454.18" width="6.84" height="16.59" fill="#6061ad"/>
<rect x="168.86" y="454.18" width="6.84" height="16.59" fill="#6061ad"/>
<rect x="175.3" y="454.18" width="6.84" height="16.59" fill="#3738d1"/>
<rect x="181.75" y="454.18" width="6.84" height="16.59" fill="#3738d1"/>
<rect x="188.19" y="454.18" width="6.84" height="16.59" fill="#3738d1"/>
<rect x="194.63" y="454.18" width="6.84" height="16.59" fill="#3738d1"/>
<rect x="201.08" y="454.18" width="6.84" height="16.59" fill="#3738d1"/>
<rect x="207.52" y="454.18" width="6.84" height="16.59" fill="#6061ad"/>
<rect x="213.97" y="454.18" width="6.84" height="16.59" fill="#3738d1"/>
<rect x="220.41" y="454.18" width="6.84" height="16.59" fill="#3738d1"/>
<rect x="226.85" y="454.18" width="6.84" height="16.59" fill="#2022e4"/>
<rect x="233.3" y="454.18" width="6.84" height="16.59" fill="#2022e4"/>
<rect x="239.74" y="454.18" width="6.84" height="16.59" fill="#75769c"/>
<rect x="246.19" y="454.18" width="6.84" height="16.59" fill="#2224e2"/>
<rect x="252.63" y="454.18" width="6.84" height="16.59" fill="#4c4dbf"/>
<rect x="259.07" y="454.18" width="6.84" height="16.59" fill="#4c4dbf"/>
<rect x="265.52" y="454.18" width="6.84" height="16.59" fill="#4c4dbf"/>
<rect x="271.96" y="454.18" width="6.84" height="16.59" fill="#3738d1"/>
<rect x="278.41" y="454.18" width="6.84" height="16.59" fill="#2022e4"/>
<rect x="284.85" y="454.18" width="6.84" height="16.59" fill="#2224e2"/>
<rect x="291.29" y="454.18" width="6.84" height="16.59" fill="#2224e2"/>
<rect x="297.74" y="454.18" width="6.84" height="16.59" fill="#3738d1"/>
<rect x="304.18" y="454.18" width="6.84" height="16.59" fill="#3738d1"/>
<rect x="310.63" y="454.18" width="6.84" height="16.59" fill="#2022e4"/>
<rect x="317.07" y="454.18" width="6.84" height="16.59" fill="#3738d1"/>
<rect x="323.51" y="454.18" width="6.84" height="16.59" fill="#3738d1"/>
<rect x="329.96" y="454.18" width="6.84" height="16.59" fill="#4c4dbf"/>
<rect x="336.4" y="454.18" width="6.84" height="16.59" fill="#a96060"/>
<rect x="342.85" y="454.18" width="6.84" height="16.59" fill="#b94a4a"/>
<rect x="349.29" y="454.18" width="6.84" height="16.59" fill="#d82020"/>
<rect x="355.73" y="454.18" width="6.84" height="16.59" fill="#d82020"/>
<rect x="362.18" y="454.18" width="6.84" height="16.59" fill="#c93535"/>
<rect x="368.62" y="454.18" width="6.84" height="16.59" fill="#b94a4a"/>
<rect x="375.07" y="454.18" width="6.84" height="16.59" fill="#c93535"/>
<rect x="381.51" y="454.18" width="6.84" height="16.59" fill="#c93535"/>
<rect x="387.95" y="454.18" width="6.84" height="16.59" fill="#b94a4a"/>
<rect x="394.4" y="454.18" width="6.84" height="16.59" fill="#9a7575"/>
<rect x="400.84" y="454.18" width="6.84" height="16.59" fill="#a96060"/>
<rect x="407.28" y="454.18" width="6.84" height="16.59" fill="#8a8a8a"/>
<rect x="413.73" y="454.18" width="6.84" height="16.59" fill="#b94a4a"/>
<rect x="420.17" y="454.18" width="6.84" height="16.59" fill="#b94a4a"/>
<rect x="426.62" y="454.18" width="6.84" height="16.59" fill="#c93535"/>
<rect x="433.06" y="454.18" width="6.84" height="16.59" fill="#a96060"/>
<rect x="439.5" y="454.18" width="6.84" height="16.59" fill="#a96060"/>
<rect x="445.95" y="454.18" width="6.84" height="16.59" fill="#d82020"/>
<rect x="452.39" y="454.18" width="6.84" height="16.59" fill="#d82020"/>
<rect x="458.84" y="454.18" width="6.84" height="16.59" fill="#d82020"/>
<rect x="465.28" y="454.18" width="6.84" height="16.59" fill="#d82020"/>
<rect x="471.72" y="454.18" width="6.84" height="16.59" fill="#d82020"/>
<rect x="478.17" y="454.18" width="6.84" height="16.59" fill="#d82020"/>
<rect x="484.61" y="454.18" width="6.84" height="16.59" fill="#d82020"/>
<rect x="491.06" y="454.18" width="6.84" height="16.59" fill="#d82020"/>
<rect x="72.2" y="470.37" width="6.84" height="16.59" fill="#75769c"/>
<rect x="78.64" y="470.37" width="6.84" height="16.59" fill="#6061ad"/>
<rect x="85.09" y="470.37" width="6.84" height="16.59" fill="#4c4dbf"/>
<rect x="91.53" y="470.37" width="6.84" height="16.59" fill="#8a8a8a"/>
<rect x="97.98" y="470.37" width="6.84" height="16.59" fill="#75769c"/>
<rect x="104.42" y="470.37" width="6.84" height="16.59" fill="#6061ad"/>
<rect x="110.86" y="470.37" width="6.84" height="16.59" fill="#6061ad"/>
<rect x="117.31" y="470.37" width="6.84" height="16.59" fill="#c93535"/>
<rect x="123.75" y="470.37" width="6.84" height="16.59" fill="#9a7575"/>
<rect x="130.2" y="470.37" width="6.84" height="16.59" fill="#a96060"/>
<rect x="136.64" y="470.37" width="6.84" height="16.59" fill="#4c4dbf"/>
<rect x="143.08" y="470.37" width="6.84" height="16.59" fill="#4c4dbf"/>
<rect x="149.53" y="470.37" width="6.84" height="16.59" fill="#4c4dbf"/>
<rect x="155.97" y="470.37" width="6.84" height="16.59" fill="#4c4dbf"/>
<rect x="162.42" y="470.37" width="6.84" height="16.59" fill="#4c4dbf"/>
<rect x="168.86" y="470.37" width="6.84" height="16.59" fill="#4c4dbf"/>
<rect x="175.3" y="470.37" width="6.84" height="16.59" fill="#75769c"/>
<rect x="181.75" y="470.37" width="6.84" height="16.59" fill="#3738d1"/>
<rect x="188.19" y="470.37" width="6.84" height="16.59" fill="#3738d1"/>
<rect x="194.63" y="470.37" width="6.84" height="16.59" fill="#3738d1"/>
<rect x="201.08" y="470.37" width="6.84" height="16.59" fill="#3738d1"/>
<rect x="207.52" y="470.37" width="6.84" height="16.59" fill="#3738d1"/>
<rect x="213.97" y="470.37" width="6.84" height="16.59" fill="#3738d1"/>
<rect x="220.41" y="470.37" width="6.84" height="16.59" fill="#3738d1"/>
<rect x="226.85" y="470.37" width="6.84" height="16.59" fill="#3738d1"/>
<rect x="233.3" y="470.37" width="6.84" height="16.59" fill="#3738d1"/>
<rect x="239.74" y="470.37" width="6.84" height="16.59" fill="#3738d1"/>
<rect x="246.19" y="470.37" width="6.84" height="16.59" fill="#3738d1"/>
<rect x="252.63" y="470.37" width="6.84" height="16.59" fill="#6061ad"/>
<rect x="259.07" y="470.37" width="6.84" height="16.59" fill="#3738d1"/>
<rect x="265.52" y="470.37" width="6.84" height="16.59" fill="#75769c"/>
<rect x="271.96" y="470.37" width="6.84" height="16.59" fill="#2224e2"/>
<rect x="278.41" y="470.37" width="6.84" height="16.59" fill="#75769c"/>
<rect x="284.85" y="470.37" width="6.84" height="16.59" fill="#75769c"/>
<rect x="291.29" y="470.37" width="6.84" height="16.59" fill="#2224e2"/>
<rect x="297.74" y="470.37" width="6.84" height="16.59" fill="#2224e2"/>
<rect x="304.18" y="470.37" width="6.84" height="16.59" fill="#3738d1"/>
<rect x="310.63" y="470.37" width="6.84" height="16.59" fill="#4c4dbf"/>
<rect x="317.07" y="470.37" width="6.84" height="16.59" fill="#3738d1"/>
<rect x="323.51" y="470.37" width="6.84" height="16.59" fill="#2224e2"/>
<rect x="329.96" y="470.37" width="6.84" height="16.59" fill="#3738d1"/>
<rect x="336.4" y="470.37" width="6.84" height="16.59" fill="#b94a4a"/>
<rect x="342.85" y="470.37" width="6.84" height="16.59" fill="#d82020"/>
<rect x="349.29" y="470.37" width="6.84" height="16.59" fill="#d82020"/>
<rect x="355.73" y="470.37" width="6.84" height="16.59" fill="#b94a4a"/>
<rect x="362.18" y="470.37" width="6.84" height="16.59" fill="#b94a4a"/>
<rect x="368.62" y="470.37" width="6.84" height="16.59" fill="#c93535"/>
<rect x="375.07" y="470.37" width="6.84" height="16.59" fill="#b94a4a"/>
<rect x="381.51" y="470.37" width="6.84" height="16.59" fill="#b94a4a"/>
<rect x="387.95" y="470.37" width="6.84" height="16.59" fill="#b94a4a"/>
<rect x="394.4" y="470.37" width="6.84" height="16.59" fill="#a96060"/>
<rect x="400.84" y="470.37" width="6.84" height="16.59" fill="#b94a4a"/>
<rect x="407.28" y="470.37" width="6.84" height="16.59" fill="#6061ad"/>
<rect x="413.73" y="470.37" width="6.84" height="16.59" fill="#75769c"/>
<rect x="420.17" y="470.37" width="6.84" height="16.59" fill="#8a8a8a"/>
<rect x="426.62" y="470.37" width="6.84" height="16.59" fill="#8a8a8a"/>
<rect x="433.06" y="470.37" width="6.84" height="16.59" fill="#a96060"/>
<rect x="439.5" y="470.37" width="6.84" height="16.59" fill="#d82020"/>
<rect x="445.95" y="470.37" width="6.84" height="16.59" fill="#d82020"/>
<rect x="452.39" y="470.37" width="6.84" height="16.59" fill="#c93535"/>
<rect x="458.84" y="470.37" width="6.84" height="16.59" fill="#c93535"/>
<rect x="465.28" y="470.37" width="6.84" height="16.59" fill="#c93535"/>
<rect x="471.72" y="470.37" width="6.84" height="16.59" fill="#c93535"/>
<rect x="478.17" y="470.37" width="6.84" height="16.59" fill="#d82020"/>
<rect x="484.61" y="470.37" width="6.84" height="16.59" fill="#da1e1e"/>
<rect x="491.06" y="470.37" width="6.84" height="16.59" fill="#9a7575"/>
<rect x="72.2" y="486.56" width="6.84" height="16.59" fill="#4c4dbf"/>
<rect x="78.64" y="486.56" width="6.84" height="16.59" fill="#4c4dbf"/>
<rect x="85.09" y="486.56" width="6.84" height="16.59" fill="#4c4dbf"/>
<rect x="91.53" y="486.56" width="6.84" height="16.59" fill="#8a8a8a"/>
<rect x="97.98" y="486.56" width="6.84" height="16.59" fill="#3738d1"/>
<rect x="104.42" y="486.56" width="6.84" height="16.59" fill="#4c4dbf"/>
<rect x="110.86" y="486.56" width="6.84" height="16.59" fill="#6061ad"/>
<rect x="117.31" y="486.56" width="6.84" height="16.59" fill="#6061ad"/>
<rect x="123.75" y="486.56" width="6.84" height="16.59" fill="#2224e2"/>
<rect x="130.2" y="486.56" width="6.84" height="16.59" fill="#b94a4a"/>
<rect x="136.64" y="486.56" width="6.84" height="16.59" fill="#2224e2"/>
<rect x="143.08" y="486.56" width="6.84" height="16.59" fill="#2022e4"/>
<rect x="149.53" y="486.56" width="6.84" height="16.59" fill="#4c4dbf"/>
<rect x="155.97" y="486.56" width="6.84" height="16.59" fill="#4c4dbf"/>
<rect x="162.42" y="486.56" width="6.84" height="16.59" fill="#4c4dbf"/>
<rect x="168.86" y="486.56" width="6.84" height="16.59" fill="#4c4dbf"/>
<rect x="175.3" y="486.56" width="6.84" height="16.59" fill="#3738d1"/>
<rect x="181.75" y="486.56" width="6.84" height="16.59" fill="#6061ad"/>
<rect x="188.19" y="486.56" width="6.84" height="16.59" fill="#6061ad"/>
<rect x="194.63" y="486.56" width="6.84" height="16.59" fill="#75769c"/>
<rect x="201.08" y="486.56" width="6.84" height="16.59" fill="#75769c"/>
<rect x="207.52" y="486.56" width="6.84" height="16.59" fill="#4c4dbf"/>
<rect x="213.97" y="486.56" width="6.84" height="16.59" fill="#3738d1"/>
<rect x="220.41" y="486.56" width="6.84" height="16.59" fill="#6061ad"/>
<rect x="226.85" y="486.56" width="6.84" height="16.59" fill="#3738d1"/>
<rect x="233.3" y="486.56" width="6.84" height="16.59" fill="#3738d1"/>
<rect x="239.74" y="486.56" width="6.84" height="16.59" fill="#3738d1"/>
<rect x="246.19" y="486.56" width="6.84" height="16.59" fill="#4c4dbf"/>
<rect x="252.63" y="486.56" width="6.84" height="16.59" fill="#2022e4"/>
<rect x="259.07" y="486.56" width="6.84" height="16.59" fill="#2022e4"/>
<rect x="265.52" y="486.56" width="6.84" height="16.59" fill="#4c4dbf"/>
<rect x="271.96" y="486.56" width="6.84" height="16.59" fill="#3738d1"/>
<rect x="278.41" y="486.56" width="6.84" height="16.59" fill="#3738d1"/>
<rect x="284.85" y="486.56" width="6.84" height="16.59" fill="#2224e2"/>
<rect x="291.29" y="486.56" width="6.84" height="16.59" fill="#2224e2"/>
<rect x="297.74" y="486.56" width="6.84" height="16.59" fill="#2224e2"/>
<rect x="304.18" y="486.56" width="6.84" height="16.59" fill="#2022e4"/>
<rect x="310.63" y="486.56" width="6.84" height="16.59" fill="#3738d1"/>
<rect x="317.07" y="486.56" width="6.84" height="16.59" fill="#2022e4"/>
<rect x="323.51" y="486.56" width="6.84" height="16.59" fill="#3738d1"/>
<rect x="329.96" y="486.56" width="6.84" height="16.59" fill="#3738d1"/>
<rect x="336.4" y="486.56" width="6.84" height="16.59" fill="#8a8a8a"/>
<rect x="342.85" y="486.56" width="6.84" height="16.59" fill="#9a7575"/>
<rect x="349.29" y="486.56" width="6.84" height="16.59" fill="#a96060"/>
<rect x="355.73" y="486.56" width="6.84" height="16.59" fill="#b94a4a"/>
<rect x="362.18" y="486.56" width="6.84" height="16.59" fill="#a96060"/>
<rect x="368.62" y="486.56" width="6.84" height="16.59" fill="#9a7575"/>
<rect x="375.07" y="486.56" width="6.84" height="16.59" fill="#b94a4a"/>
<rect x="381.51" y="486.56" width="6.84" height="16.59" fill="#b94a4a"/>
<rect x="387.95" y="486.56" width="6.84" height="16.59" fill="#9a7575"/>
<rect x="394.4" y="486.56" width="6.84" height="16.59" fill="#9a7575"/>
<rect x="400.84" y="486.56" width="6.84" height="16.59" fill="#b94a4a"/>
<rect x="407.28" y="486.56" width="6.84" height="16.59" fill="#9a7575"/>
<rect x="413.73" y="486.56" width="6.84" height="16.59" fill="#c93535"/>
<rect x="420.17" y="486.56" width="6.84" height="16.59" fill="#c93535"/>
<rect x="426.62" y="486.56" width="6.84" height="16.59" fill="#c93535"/>
<rect x="433.06" y="486.56" width="6.84" height="16.59" fill="#3738d1"/>
<rect x="439.5" y="486.56" width="6.84" height="16.59" fill="#8a8a8a"/>
<rect x="445.95" y="486.56" width="6.84" height="16.59" fill="#c93535"/>
<rect x="452.39" y="486.56" width="6.84" height="16.59" fill="#c93535"/>
<rect x="458.84" y="486.56" width="6.84" height="16.59" fill="#c93535"/>
<rect x="465.28" y="486.56" width="6.84" height="16.59" fill="#c93535"/>
<rect x="471.72" y="486.56" width="6.84" height="16.59" fill="#b94a4a"/>
<rect x="478.17" y="486.56" width="6.84" height="16.59" fill="#a96060"/>
<rect x="484.61" y="486.56" width="6.84" height="16.59" fill="#a96060"/>
<rect x="491.06" y="486.56" width="6.84" height="16.59" fill="#c93535"/>
<rect x="72.2" y="502.76" width="6.84" height="16.59" fill="#6061ad"/>
<rect x="78.64" y="502.76" width="6.84" height="16.59" fill="#6061ad"/>
<rect x="85.09" y="502.76" width="6.84" height="16.59" fill="#4c4dbf"/>
<rect x="91.53" y="502.76" width="6.84" height="16.59" fill="#8a8a8a"/>
<rect x="97.98" y="502.76" width="6.84" height="16.59" fill="#8a8a8a"/>
<rect x="104.42" y="502.76" width="6.84" height="16.59" fill="#75769c"/>
<rect x="110.86" y="502.76" width="6.84" height="16.59" fill="#8a8a8a"/>
<rect x="117.31" y="502.76" width="6.84" height="16.59" fill="#8a8a8a"/>
<rect x="123.75" y="502.76" width="6.84" height="16.59" fill="#6061ad"/>
<rect x="130.2" y="502.76" width="6.84" height="16.59" fill="#c93535"/>
<rect x="136.64" y="502.76" width="6.84" height="16.59" fill="#6061ad"/>
<rect x="143.08" y="502.76" width="6.84" height="16.59" fill="#4c4dbf"/>
<rect x="149.53" y="502.76" width="6.84" height="16.59" fill="#6061ad"/>
<rect x="155.97" y="502.76" width="6.84" height="16.59" fill="#75769c"/>
<rect x="162.42" y="502.76" width="6.84" height="16.59" fill="#4c4dbf"/>
<rect x="168.86" y="502.76" width="6.84" height="16.59" fill="#4c4dbf"/>
<rect x="175.3" y="502.76" width="6.84" height="16.59" fill="#3738d1"/>
<rect x="181.75" y="502.76" width="6.84" height="16.59" fill="#3738d1"/>
<rect x="188.19" y="502.76" width="6.84" height="16.59" fill="#4c4dbf"/>
<rect x="194.63" y="502.76" width="6.84" height="16.59" fill="#3738d1"/>
<rect x="201.08" y="502.76" width="6.84" height="16.59" fill="#3738d1"/>
<rect x="207.52" y="502.76" width="6.84" height="16.59" fill="#75769c"/>
<rect x="213.97" y="502.76" width="6.84" height="16.59" fill="#3738d1"/>
<rect x="220.41" y="502.76" width="6.84" height="16.59" fill="#4c4dbf"/>
<rect x="226.85" y="502.76" width="6.84" height="16.59" fill="#6061ad"/>
<rect x="233.3" y="502.76" width="6.84" height="16.59" fill="#3738d1"/>
<rect x="239.74" y="502.76" width="6.84" height="16.59" fill="#4c4dbf"/>
<rect x="246.19" y="502.76" width="6.84" height="16.59" fill="#75769c"/>
<rect x="252.63" y="502.76" width="6.84" height="16.59" fill="#75769c"/>
<rect x="259.07" y="502.76" width="6.84" height="16.59" fill="#4c4dbf"/>
<rect x="265.52" y="502.76" width="6.84" height="16.59" fill="#4c4dbf"/>
<rect x="271.96" y="502.76" width="6.84" height="16.59" fill="#3738d1"/>
<rect x="278.41" y="502.76" width="6.84" height="16.59" fill="#6061ad"/>
<rect x="284.85" y="502.76" width="6.84" height="16.59" fill="#2224e2"/>
<rect x="291.29" y="502.76" width="6.84" height="16.59" fill="#4c4dbf"/>
<rect x="297.74" y="502.76" width="6.84" height="16.59" fill="#3738d1"/>
<rect x="304.18" y="502.76" width="6.84" height="16.59" fill="#3738d1"/>
<rect x="310.63" y="502.76" width="6.84" height="16.59" fill="#4c4dbf"/>
<rect x="317.07" y="502.76" width="6.84" height="16.59" fill="#4c4dbf"/>
<rect x="323.51" y="502.76" width="6.84" height="16.59" fill="#4c4dbf"/>
<rect x="329.96" y="502.76" width="6.84" height="16.59" fill="#3738d1"/>
<rect x="336.4" y="502.76" width="6.84" height="16.59" fill="#9a7575"/>
<rect x="342.85" y="502.76" width="6.84" height="16.59" fill="#9a7575"/>
<rect x="349.29" y="502.76" width="6.84" height="16.59" fill="#a96060"/>
<rect x="355.73" y="502.76" width="6.84" height="16.59" fill="#c93535"/>
<rect x="362.18" y="502.76" width="6.84" height="16.59" fill="#a96060"/>
<rect x="368.62" y="502.76" width="6.84" height="16.59" fill="#a96060"/>
<rect x="375.07" y="502.76" width="6.84" height="16.59" fill="#a96060"/>
<rect x="381.51" y="502.76" width="6.84" height="16.59" fill="#b94a4a"/>
<rect x="387.95" y="502.76" width="6.84" height="16.59" fill="#a96060"/>
<rect x="394.4" y="502.76" width="6.84" height="16.59" fill="#9a7575"/>
<rect x="400.84" y="502.76" width="6.84" height="16.59" fill="#a96060"/>
<rect x="407.28" y="502.76" width="6.84" height="16.59" fill="#9a7575"/>
<rect x="413.73" y="502.76" width="6.84" height="16.59" fill="#b94a4a"/>
<rect x="420.17" y="502.76" width="6.84" height="16.59" fill="#b94a4a"/>
<rect x="426.62" y="502.76" width="6.84" height="16.59" fill="#c93535"/>
<rect x="433.06" y="502.76" width="6.84" height="16.59" fill="#3738d1"/>
<rect x="439.5" y="502.76" width="6.84" height="16.59" fill="#8a8a8a"/>
<rect x="445.95" y="502.76" width="6.84" height="16.59" fill="#b94a4a"/>
<rect x="452.39" y="502.76" width="6.84" height="16.59" fill="#c93535"/>
<rect x="458.84" y="502.76" width="6.84" height="16.59" fill="#c93535"/>
<rect x="465.28" y="502.76" width="6.84" height="16.59" fill="#c93535"/>
<rect x="471.72" y="502.76" width="6.84" height="16.59" fill="#c93535"/>
<rect x="478.17" y="502.76" width="6.84" height="16.59" fill="#a96060"/>
<rect x="484.61" y="502.76" width="6.84" height="16.59" fill="#a96060"/>
<rect x="491.06" y="502.76" width="6.84" height="16.59" fill="#a96060"/>
<rect x="72.2" y="518.95" width="6.84" height="16.59" fill="#3738d1"/>
<rect x="78.64" y="518.95" width="6.84" height="16.59" fill="#4c4dbf"/>
<rect x="85.09" y="518.95" width="6.84" height="16.59" fill="#4c4dbf"/>
<rect x="91.53" y="518.95" width="6.84" height="16.59" fill="#75769c"/>
<rect x="97.98" y="518.95" width="6.84" height="16.59" fill="#a96060"/>
<rect x="104.42" y="518.95" width="6.84" height="16.59" fill="#75769c"/>
<rect x="110.86" y="518.95" width="6.84" height="16.59" fill="#75769c"/>
<rect x="117.31" y="518.95" width="6.84" height="16.59" fill="#4c4dbf"/>
<rect x="123.75" y="518.95" width="6.84" height="16.59" fill="#6061ad"/>
<rect x="130.2" y="518.95" width="6.84" height="16.59" fill="#3738d1"/>
<rect x="136.64" y="518.95" width="6.84" height="16.59" fill="#a96060"/>
<rect x="143.08" y="518.95" width="6.84" height="16.59" fill="#b94a4a"/>
<rect x="149.53" y="518.95" width="6.84" height="16.59" fill="#c93535"/>
<rect x="155.97" y="518.95" width="6.84" height="16.59" fill="#c93535"/>
<rect x="162.42" y="518.95" width="6.84" height="16.59" fill="#c93535"/>
<rect x="168.86" y="518.95" width="6.84" height="16.59" fill="#c93535"/>
<rect x="175.3" y="518.95" width="6.84" height="16.59" fill="#c93535"/>
<rect x="181.75" y="518.95" width="6.84" height="16.59" fill="#c93535"/>
<rect x="188.19" y="518.95" width="6.84" height="16.59" fill="#c93535"/>
<rect x="194.63" y="518.95" width="6.84" height="16.59" fill="#8a8a8a"/>
<rect x="201.08" y="518.95" width="6.84" height="16.59" fill="#75769c"/>
<rect x="207.52" y="518.95" width="6.84" height="16.59" fill="#8a8a8a"/>
<rect x="213.97" y="518.95" width="6.84" height="16.59" fill="#a96060"/>
<rect x="220.41" y="518.95" width="6.84" height="16.59" fill="#a96060"/>
<rect x="226.85" y="518.95" width="6.84" height="16.59" fill="#c93535"/>
<rect x="233.3" y="518.95" width="6.84" height="16.59" fill="#9a7575"/>
<rect x="239.74" y="518.95" width="6.84" height="16.59" fill="#d82020"/>
<rect x="246.19" y="518.95" width="6.84" height="16.59" fill="#d82020"/>
<rect x="252.63" y="518.95" width="6.84" height="16.59" fill="#d82020"/>
<rect x="259.07" y="518.95" width="6.84" height="16.59" fill="#d82020"/>
<rect x="265.52" y="518.95" width="6.84" height="16.59" fill="#c93535"/>
<rect x="271.96" y="518.95" width="6.84" height="16.59" fill="#c93535"/>
<rect x="278.41" y="518.95" width="6.84" height="16.59" fill="#a96060"/>
<rect x="284.85" y="518.95" width="6.84" height="16.59" fill="#c93535"/>
<rect x="291.29" y="518.95" width="6.84" height="16.59" fill="#b94a4a"/>
<rect x="297.74" y="518.95" width="6.84" height="16.59" fill="#c93535"/>
<rect x="304.18" y="518.95" width="6.84" height="16.59" fill="#c93535"/>
<rect x="310.63" y="518.95" width="6.84" height="16.59" fill="#c93535"/>
<rect x="317.07" y="518.95" width="6.84" height="16.59" fill="#d82020"/>
<rect x="323.51" y="518.95" width="6.84" height="16.59" fill="#9a7575"/>
<rect x="329.96" y="518.95" width="6.84" height="16.59" fill="#75769c"/>
<rect x="336.4" y="518.95" width="6.84" height="16.59" fill="#2022e4"/>
<rect x="342.85" y="518.95" width="6.84" height="16.59" fill="#3738d1"/>
<rect x="349.29" y="518.95" width="6.84" height="16.59" fill="#3738d1"/>
<rect x="355.73" y="518.95" width="6.84" height="16.59" fill="#4c4dbf"/>
<rect x="362.18" y="518.95" width="6.84" height="16.59" fill="#4c4dbf"/>
<rect x="368.62" y="518.95" width="6.84" height="16.59" fill="#75769c"/>
<rect x="375.07" y="518.95" width="6.84" height="16.59" fill="#4c4dbf"/>
<rect x="381.51" y="518.95" width="6.84" height="16.59" fill="#4c4dbf"/>
<rect x="387.95" y="518.95" width="6.84" height="16.59" fill="#4c4dbf"/>
<rect x="394.4" y="518.95" width="6.84" height="16.59" fill="#4c4dbf"/>
<rect x="400.84" y="518.95" width="6.84" height="16.59" fill="#4c4dbf"/>
<rect x="407.28" y="518.95" width="6.84" height="16.59" fill="#2224e2"/>
<rect x="413.73" y="518.95" width="6.84" height="16.59" fill="#4c4dbf"/>
<rect x="420.17" y="518.95" width="6.84" height="16.59" fill="#4c4dbf"/>
<rect x="426.62" y="518.95" width="6.84" height="16.59" fill="#3738d1"/>
<rect x="433.06" y="518.95" width="6.84" height="16.59" fill="#6061ad"/>
<rect x="439.5" y="518.95" width="6.84" height="16.59" fill="#9a7575"/>
<rect x="445.95" y="518.95" width="6.84" height="16.59" fill="#2224e2"/>
<rect x="452.39" y="518.95" width="6.84" height="16.59" fill="#3738d1"/>
<rect x="458.84" y="518.95" width="6.84" height="16.59" fill="#3738d1"/>
<rect x="465.28" y="518.95" width="6.84" height="16.59" fill="#4c4dbf"/>
<rect x="471.72" y="518.95" width="6.84" height="16.59" fill="#4c4dbf"/>
<rect x="478.17" y="518.95" width="6.84" height="16.59" fill="#4c4dbf"/>
<rect x="484.61" y="518.95" width="6.84" height="16.59" fill="#2022e4"/>
<rect x="491.06" y="518.95" width="6.84" height="16.59" fill="#75769c"/>
<rect x="72.2" y="535.14" width="6.84" height="16.59" fill="#4c4dbf"/>
<rect x="78.64" y="535.14" width="6.84" height="16.59" fill="#4c4dbf"/>
<rect x="85.09" y="535.14" width="6.84" height="16.59" fill="#75769c"/>
<rect x="91.53" y="535.14" width="6.84" height="16.59" fill="#8a8a8a"/>
<rect x="97.98" y="535.14" width="6.84" height="16.59" fill="#9a7575"/>
<rect x="104.42" y="535.14" width="6.84" height="16.59" fill="#8a8a8a"/>
<rect x="110.86" y="535.14" width="6.84" height="16.59" fill="#6061ad"/>
<rect x="117.31" y="535.14" width="6.84" height="16.59" fill="#75769c"/>
<rect x="123.75" y="535.14" width="6.84" height="16.59" fill="#4c4dbf"/>
<rect x="130.2" y="535.14" width="6.84" height="16.59" fill="#3738d1"/>
<rect x="136.64" y="535.14" width="6.84" height="16.59" fill="#da1e1e"/>
<rect x="143.08" y="535.14" width="6.84" height="16.59" fill="#9a7575"/>
<rect x="149.53" y="535.14" width="6.84" height="16.59" fill="#c93535"/>
<rect x="155.97" y="535.14" width="6.84" height="16.59" fill="#c93535"/>
<rect x="162.42" y="535.14" width="6.84" height="16.59" fill="#d82020"/>
<rect x="168.86" y="535.14" width="6.84" height="16.59" fill="#c93535"/>
<rect x="175.3" y="535.14" width="6.84" height="16.59" fill="#a96060"/>
<rect x="181.75" y="535.14" width="6.84" height="16.59" fill="#a96060"/>
<rect x="188.19" y="535.14" width="6.84" height="16.59" fill="#9a7575"/>
<rect x="194.63" y="535.14" width="6.84" height="16.59" fill="#9a7575"/>
<rect x="201.08" y="535.14" width="6.84" height="16.59" fill="#6061ad"/>
<rect x="207.52" y="535.14" width="6.84" height="16.59" fill="#9a7575"/>
<rect x="213.97" y="535.14" width="6.84" height="16.59" fill="#8a8a8a"/>
<rect x="220.41" y="535.14" width="6.84" height="16.59" fill="#8a8a8a"/>
<rect x="226.85" y="535.14" width="6.84" height="16.59" fill="#b94a4a"/>
<rect x="233.3" y="535.14" width="6.84" height="16.59" fill="#a96060"/>
<rect x="239.74" y="535.14" width="6.84" height="16.59" fill="#c93535"/>
<rect x="246.19" y="535.14" width="6.84" height="16.59" fill="#c93535"/>
<rect x="252.63" y="535.14" width="6.84" height="16.59" fill="#b94a4a"/>
<rect x="259.07" y="535.14" width="6.84" height="16.59" fill="#c93535"/>
<rect x="265.52" y="535.14" width="6.84" height="16.59" fill="#d82020"/>
<rect x="271.96" y="535.14" width="6.84" height="16.59" fill="#c93535"/>
<rect x="278.41" y="535.14" width="6.84" height="16.59" fill="#a96060"/>
<rect x="284.85" y="535.14" width="6.84" height="16.59" fill="#c93535"/>
<rect x="291.29" y="535.14" width="6.84" height="16.59" fill="#b94a4a"/>
<rect x="297.74" y="535.14" width="6.84" height="16.59" fill="#c93535"/>
<rect x="304.18" y="535.14" width="6.84" height="16.59" fill="#c93535"/>
<rect x="310.63" y="535.14" width="6.84" height="16.59" fill="#c93535"/>
<rect x="317.07" y="535.14" width="6.84" height="16.59" fill="#b94a4a"/>
<rect x="323.51" y="535.14" width="6.84" height="16.59" fill="#8a8a8a"/>
<rect x="329.96" y="535.14" width="6.84" height="16.59" fill="#d82020"/>
<rect x="336.4" y="535.14" width="6.84" height="16.59" fill="#2224e2"/>
<rect x="342.85" y="535.14" width="6.84" height="16.59" fill="#3738d1"/>
<rect x="349.29" y="535.14" width="6.84" height="16.59" fill="#3738d1"/>
<rect x="355.73" y="535.14" width="6.84" height="16.59" fill="#75769c"/>
<rect x="362.18" y="535.14" width="6.84" height="16.59" fill="#3738d1"/>
<rect x="368.62" y="535.14" width="6.84" height="16.59" fill="#3738d1"/>
<rect x="375.07" y="535.14" width="6.84" height="16.59" fill="#2224e2"/>
<rect x="381.51" y="535.14" width="6.84" height="16.59" fill="#4c4dbf"/>
<rect x="387.95" y="535.14" width="6.84" height="16.59" fill="#2224e2"/>
<rect x="394.4" y="535.14" width="6.84" height="16.59" fill="#6061ad"/>
<rect x="400.84" y="535.14" width="6.84" height="16.59" fill="#3738d1"/>
<rect x="407.28" y="535.14" width="6.84" height="16.59" fill="#3738d1"/>
<rect x="413.73" y="535.14" width="6.84" height="16.59" fill="#75769c"/>
<rect x="420.17" y="535.14" width="6.84" height="16.59" fill="#4c4dbf"/>
<rect x="426.62" y="535.14" width="6.84" height="16.59" fill="#4c4dbf"/>
<rect x="433.06" y="535.14" width="6.84" height="16.59" fill="#4c4dbf"/>
<rect x="439.5" y="535.14" width="6.84" height="16.59" fill="#8a8a8a"/>
<rect x="445.95" y="535.14" width="6.84" height="16.59" fill="#8a8a8a"/>
<rect x="452.39" y="535.14" width="6.84" height="16.59" fill="#4c4dbf"/>
<rect x="458.84" y="535.14" width="6.84" height="16.59" fill="#75769c"/>
<rect x="465.28" y="535.14" width="6.84" height="16.59" fill="#3738d1"/>
<rect x="471.72" y="535.14" width="6.84" height="16.59" fill="#6061ad"/>
<rect x="478.17" y="535.14" width="6.84" height="16.59" fill="#75769c"/>
<rect x="484.61" y="535.14" width="6.84" height="16.59" fill="#3738d1"/>
<rect x="491.06" y="535.14" width="6.84" height="16.59" fill="#3738d1"/>
<rect x="72.2" y="551.34" width="6.84" height="16.59" fill="#4c4dbf"/>
<rect x="78.64" y="551.34" width="6.84" height="16.59" fill="#75769c"/>
<rect x="85.09" y="551.34" width="6.84" height="16.59" fill="#75769c"/>
<rect x="91.53" y="551.34" width="6.84" height="16.59" fill="#3738d1"/>
<rect x="97.98" y="551.34" width="6.84" height="16.59" fill="#9a7575"/>
<rect x="104.42" y="551.34" width="6.84" height="16.59" fill="#8a8a8a"/>
<rect x="110.86" y="551.34" width="6.84" height="16.59" fill="#9a7575"/>
<rect x="117.31" y="551.34" width="6.84" height="16.59" fill="#8a8a8a"/>
<rect x="123.75" y="551.34" width="6.84" height="16.59" fill="#75769c"/>
<rect x="130.2" y="551.34" width="6.84" height="16.59" fill="#3738d1"/>
<rect x="136.64" y="551.34" width="6.84" height="16.59" fill="#b94a4a"/>
<rect x="143.08" y="551.34" width="6.84" height="16.59" fill="#9a7575"/>
<rect x="149.53" y="551.34" width="6.84" height="16.59" fill="#c93535"/>
<rect x="155.97" y="551.34" width="6.84" height="16.59" fill="#c93535"/>
<rect x="162.42" y="551.34" width="6.84" height="16.59" fill="#d82020"/>
<rect x="168.86" y="551.34" width="6.84" height="16.59" fill="#c93535"/>
<rect x="175.3" y="551.34" width="6.84" height="16.59" fill="#c93535"/>
<rect x="181.75" y="551.34" width="6.84" height="16.59" fill="#c93535"/>
<rect x="188.19" y="551.34" width="6.84" height="16.59" fill="#a96060"/>
<rect x="194.63" y="551.34" width="6.84" height="16.59" fill="#9a7575"/>
<rect x="201.08" y="551.34" width="6.84" height="16.59" fill="#a96060"/>
<rect x="207.52" y="551.34" width="6.84" height="16.59" fill="#a96060"/>
<rect x="213.97" y="551.34" width="6.84" height="16.59" fill="#9a7575"/>
<rect x="220.41" y="551.34" width="6.84" height="16.59" fill="#b94a4a"/>
<rect x="226.85" y="551.34" width="6.84" height="16.59" fill="#9a7575"/>
<rect x="233.3" y="551.34" width="6.84" height="16.59" fill="#a96060"/>
<rect x="239.74" y="551.34" width="6.84" height="16.59" fill="#c93535"/>
<rect x="246.19" y="551.34" width="6.84" height="16.59" fill="#c93535"/>
<rect x="252.63" y="551.34" width="6.84" height="16.59" fill="#c93535"/>
<rect x="259.07" y="551.34" width="6.84" height="16.59" fill="#c93535"/>
<rect x="265.52" y="551.34" width="6.84" height="16.59" fill="#c93535"/>
<rect x="271.96" y="551.34" width="6.84" height="16.59" fill="#c93535"/>
<rect x="278.41" y="551.34" width="6.84" height="16.59" fill="#b94a4a"/>
<rect x="284.85" y="551.34" width="6.84" height="16.59" fill="#c93535"/>
<rect x="291.29" y="551.34" width="6.84" height="16.59" fill="#c93535"/>
<rect x="297.74" y="551.34" width="6.84" height="16.59" fill="#c93535"/>
<rect x="304.18" y="551.34" width="6.84" height="16.59" fill="#b94a4a"/>
<rect x="310.63" y="551.34" width="6.84" height="16.59" fill="#c93535"/>
<rect x="317.07" y="551.34" width="6.84" height="16.59" fill="#b94a4a"/>
<rect x="323.51" y="551.34" width="6.84" height="16.59" fill="#c93535"/>
<rect x="329.96" y="551.34" width="6.84" height="16.59" fill="#d82020"/>
<rect x="336.4" y="551.34" width="6.84" height="16.59" fill="#6061ad"/>
<rect x="342.85" y="551.34" width="6.84" height="16.59" fill="#2022e4"/>
<rect x="349.29" y="551.34" width="6.84" height="16.59" fill="#2022e4"/>
<rect x="355.73" y="551.34" width="6.84" height="16.59" fill="#2022e4"/>
<rect x="362.18" y="551.34" width="6.84" height="16.59" fill="#3738d1"/>
<rect x="368.62" y="551.34" width="6.84" height="16.59" fill="#4c4dbf"/>
<rect x="375.07" y="551.34" width="6.84" height="16.59" fill="#3738d1"/>
<rect x="381.51" y="551.34" width="6.84" height="16.59" fill="#3738d1"/>
<rect x="387.95" y="551.34" width="6.84" height="16.59" fill="#2022e4"/>
<rect x="394.4" y="551.34" width="6.84" height="16.59" fill="#2022e4"/>
<rect x="400.84" y="551.34" width="6.84" height="16.59" fill="#3738d1"/>
<rect x="407.28" y="551.34" width="6.84" height="16.59" fill="#4c4dbf"/>
<rect x="413.73" y="551.34" width="6.84" height="16.59" fill="#3738d1"/>
<rect x="420.17" y="551.34" width="6.84" height="16.59" fill="#3738d1"/>
<rect x="426.62" y="551.34" width="6.84" height="16.59" fill="#3738d1"/>
<rect x="433.06" y="551.34" width="6.84" height="16.59" fill="#6061ad"/>
<rect x="439.5" y="551.34" width="6.84" height="16.59" fill="#75769c"/>
<rect x="445.95" y="551.34" width="6.84" height="16.59" fill="#3738d1"/>
<rect x="452.39" y="551.34" width="6.84" height="16.59" fill="#3738d1"/>
<rect x="458.84" y="551.34" width="6.84" height="16.59" fill="#3738d1"/>
<rect x="465.28" y="551.34" width="6.84" height="16.59" fill="#4c4dbf"/>
<rect x="471.72" y="551.34" width="6.84" height="16.59" fill="#4c4dbf"/>
<rect x="478.17" y="551.34" width="6.84" height="16.59" fill="#2022e4"/>
<rect x="484.61" y="551.34" width="6.84" height="16.59" fill="#4c4dbf"/>
<rect x="491.06" y="551.34" width="6.84" height="16.59" fill="#4c4dbf"/>
<rect x="72.2" y="567.53" width="6.84" height="16.59" fill="#c93535"/>
<rect x="78.64" y="567.53" width="6.84" height="16.59" fill="#c93535"/>
<rect x="85.09" y="567.53" width="6.84" height="16.59" fill="#c93535"/>
<rect x="91.53" y="567.53" width="6.84" height="16.59" fill="#c93535"/>
<rect x="97.98" y="567.53" width="6.84" height="16.59" fill="#c93535"/>
<rect x="104.42" y="567.53" width="6.84" height="16.59" fill="#d82020"/>
<rect x="110.86" y="567.53" width="6.84" height="16.59" fill="#d82020"/>
<rect x="117.31" y="567.53" width="6.84" height="16.59" fill="#c93535"/>
<rect x="123.75" y="567.53" width="6.84" height="16.59" fill="#c93535"/>
<rect x="130.2" y="567.53" width="6.84" height="16.59" fill="#9a7575"/>
<rect x="136.64" y="567.53" width="6.84" height="16.59" fill="#a96060"/>
<rect x="143.08" y="567.53" width="6.84" height="16.59" fill="#c93535"/>
<rect x="149.53" y="567.53" width="6.84" height="16.59" fill="#c93535"/>
<rect x="155.97" y="567.53" width="6.84" height="16.59" fill="#c93535"/>
<rect x="162.42" y="567.53" width="6.84" height="16.59" fill="#a96060"/>
<rect x="168.86" y="567.53" width="6.84" height="16.59" fill="#c93535"/>
<rect x="175.3" y="567.53" width="6.84" height="16.59" fill="#a96060"/>
<rect x="181.75" y="567.53" width="6.84" height="16.59" fill="#c93535"/>
<rect x="188.19" y="567.53" width="6.84" height="16.59" fill="#c93535"/>
<rect x="194.63" y="567.53" width="6.84" height="16.59" fill="#c93535"/>
<rect x="201.08" y="567.53" width="6.84" height="16.59" fill="#c93535"/>
<rect x="207.52" y="567.53" width="6.84" height="16.59" fill="#c93535"/>
<rect x="213.97" y="567.53" width="6.84" height="16.59" fill="#b94a4a"/>
<rect x="220.41" y="567.53" width="6.84" height="16.59" fill="#c93535"/>
<rect x="226.85" y="567.53" width="6.84" height="16.59" fill="#b94a4a"/>
<rect x="233.3" y="567.53" width="6.84" height="16.59" fill="#b94a4a"/>
<rect x="239.74" y="567.53" width="6.84" height="16.59" fill="#75769c"/>
<rect x="246.19" y="567.53" width="6.84" height="16.59" fill="#b94a4a"/>
<rect x="252.63" y="567.53" width="6.84" height="16.59" fill="#b94a4a"/>
<rect x="259.07" y="567.53" width="6.84" height="16.59" fill="#b94a4a"/>
<rect x="265.52" y="567.53" width="6.84" height="16.59" fill="#8a8a8a"/>
<rect x="271.96" y="567.53" width="6.84" height="16.59" fill="#b94a4a"/>
<rect x="278.41" y="567.53" width="6.84" height="16.59" fill="#b94a4a"/>
<rect x="284.85" y="567.53" width="6.84" height="16.59" fill="#b94a4a"/>
<rect x="291.29" y="567.53" width="6.84" height="16.59" fill="#b94a4a"/>
<rect x="297.74" y="567.53" width="6.84" height="16.59" fill="#b94a4a"/>
<rect x="304.18" y="567.53" width="6.84" height="16.59" fill="#b94a4a"/>
<rect x="310.63" y="567.53" width="6.84" height="16.59" fill="#a96060"/>
<rect x="317.07" y="567.53" width="6.84" height="16.59" fill="#c93535"/>
<rect x="323.51" y="567.53" width="6.84" height="16.59" fill="#b94a4a"/>
<rect x="329.96" y="567.53" width="6.84" height="16.59" fill="#a96060"/>
<rect x="336.4" y="567.53" width="6.84" height="16.59" fill="#9a7575"/>
<rect x="342.85" y="567.53" width="6.84" height="16.59" fill="#6061ad"/>
<rect x="349.29" y="567.53" width="6.84" height="16.59" fill="#6061ad"/>
<rect x="355.73" y="567.53" width="6.84" height="16.59" fill="#75769c"/>
<rect x="362.18" y="567.53" width="6.84" height="16.59" fill="#3738d1"/>
<rect x="368.62" y="567.53" width="6.84" height="16.59" fill="#3738d1"/>
<rect x="375.07" y="567.53" width="6.84" height="16.59" fill="#3738d1"/>
<rect x="381.51" y="567.53" width="6.84" height="16.59" fill="#3738d1"/>
<rect x="387.95" y="567.53" width="6.84" height="16.59" fill="#75769c"/>
<rect x="394.4" y="567.53" width="6.84" height="16.59" fill="#6061ad"/>
<rect x="400.84" y="567.53" width="6.84" height="16.59" fill="#4c4dbf"/>
<rect x="407.28" y="567.53" width="6.84" height="16.59" fill="#4c4dbf"/>
<rect x="413.73" y="567.53" width="6.84" height="16.59" fill="#4c4dbf"/>
<rect x="420.17" y="567.53" width="6.84" height="16.59" fill="#3738d1"/>
<rect x="426.62" y="567.53" width="6.84" height="16.59" fill="#3738d1"/>
<rect x="433.06" y="567.53" width="6.84" height="16.59" fill="#6061ad"/>
<rect x="439.5" y="567.53" width="6.84" height="16.59" fill="#2022e4"/>
<rect x="445.95" y="567.53" width="6.84" height="16.59" fill="#4c4dbf"/>
<rect x="452.39" y="567.53" width="6.84" height="16.59" fill="#3738d1"/>
<rect x="458.84" y="567.53" width="6.84" height="16.59" fill="#3738d1"/>
<rect x="465.28" y="567.53" width="6.84" height="16.59" fill="#3738d1"/>
<rect x="471.72" y="567.53" width="6.84" height="16.59" fill="#3738d1"/>
<rect x="478.17" y="567.53" width="6.84" height="16.59" fill="#6061ad"/>
<rect x="484.61" y="567.53" width="6.84" height="16.59" fill="#8a8a8a"/>
<rect x="491.06" y="567.53" width="6.84" height="16.59" fill="#2022e4"/>
<rect x="72.2" y="583.72" width="6.84" height="16.59" fill="#c93535"/>
<rect x="78.64" y="583.72" width="6.84" height="16.59" fill="#d82020"/>
<rect x="85.09" y="583.72" width="6.84" height="16.59" fill="#d82020"/>
<rect x="91.53" y="583.72" width="6.84" height="16.59" fill="#c93535"/>
<rect x="97.98" y="583.72" width="6.84" height="16.59" fill="#b94a4a"/>
<rect x="104.42" y="583.72" width="6.84" height="16.59" fill="#c93535"/>
<rect x="110.86" y="583.72" width="6.84" height="16.59" fill="#a96060"/>
<rect x="117.31" y="583.72" width="6.84" height="16.59" fill="#b94a4a"/>
<rect x="123.75" y="583.72" width="6.84" height="16.59" fill="#a96060"/>
<rect x="130.2" y="583.72" width="6.84" height="16.59" fill="#a96060"/>
<rect x="136.64" y="583.72" width="6.84" height="16.59" fill="#a96060"/>
<rect x="143.08" y="583.72" width="6.84" height="16.59" fill="#d82020"/>
<rect x="149.53" y="583.72" width="6.84" height="16.59" fill="#b94a4a"/>
<rect x="155.97" y="583.72" width="6.84" height="16.59" fill="#c93535"/>
<rect x="162.42" y="583.72" width="6.84" height="16.59" fill="#b94a4a"/>
<rect x="168.86" y="583.72" width="6.84" height="16.59" fill="#9a7575"/>
<rect x="175.3" y="583.72" width="6.84" height="16.59" fill="#c93535"/>
<rect x="181.75" y="583.72" width="6.84" height="16.59" fill="#c93535"/>
<rect x="188.19" y="583.72" width="6.84" height="16.59" fill="#c93535"/>
<rect x="194.63" y="583.72" width="6.84" height="16.59" fill="#c93535"/>
<rect x="201.08" y="583.72" width="6.84" height="16.59" fill="#d82020"/>
<rect x="207.52" y="583.72" width="6.84" height="16.59" fill="#c93535"/>
<rect x="213.97" y="583.72" width="6.84" height="16.59" fill="#b94a4a"/>
<rect x="220.41" y="583.72" width="6.84" height="16.59" fill="#b94a4a"/>
<rect x="226.85" y="583.72" width="6.84" height="16.59" fill="#b94a4a"/>
<rect x="233.3" y="583.72" width="6.84" height="16.59" fill="#b94a4a"/>
<rect x="239.74" y="583.72" width="6.84" height="16.59" fill="#d82020"/>
<rect x="246.19" y="583.72" width="6.84" height="16.59" fill="#c93535"/>
<rect x="252.63" y="583.72" width="6.84" height="16.59" fill="#a96060"/>
<rect x="259.07" y="583.72" width="6.84" height="16.59" fill="#a96060"/>
<rect x="265.52" y="583.72" width="6.84" height="16.59" fill="#a96060"/>
<rect x="271.96" y="583.72" width="6.84" height="16.59" fill="#a96060"/>
<rect x="278.41" y="583.72" width="6.84" height="16.59" fill="#b94a4a"/>
<rect x="284.85" y="583.72" width="6.84" height="16.59" fill="#a96060"/>
<rect x="291.29" y="583.72" width="6.84" height="16.59" fill="#c93535"/>
<rect x="297.74" y="583.72" width="6.84" height="16.59" fill="#b94a4a"/>
<rect x="304.18" y="583.72" width="6.84" height="16.59" fill="#b94a4a"/>
<rect x="310.63" y="583.72" width="6.84" height="16.59" fill="#b94a4a"/>
<rect x="317.07" y="583.72" width="6.84" height="16.59" fill="#a96060"/>
<rect x="323.51" y="583.72" width="6.84" height="16.59" fill="#a96060"/>
<rect x="329.96" y="583.72" width="6.84" height="16.59" fill="#a96060"/>
<rect x="336.4" y="583.72" width="6.84" height="16.59" fill="#9a7575"/>
<rect x="342.85" y="583.72" width="6.84" height="16.59" fill="#75769c"/>
<rect x="349.29" y="583.72" width="6.84" height="16.59" fill="#8a8a8a"/>
<rect x="355.73" y="583.72" width="6.84" height="16.59" fill="#3738d1"/>
<rect x="362.18" y="583.72" width="6.84" height="16.59" fill="#75769c"/>
<rect x="368.62" y="583.72" width="6.84" height="16.59" fill="#4c4dbf"/>
<rect x="375.07" y="583.72" width="6.84" height="16.59" fill="#4c4dbf"/>
<rect x="381.51" y="583.72" width="6.84" height="16.59" fill="#3738d1"/>
<rect x="387.95" y="583.72" width="6.84" height="16.59" fill="#6061ad"/>
<rect x="394.4" y="583.72" width="6.84" height="16.59" fill="#6061ad"/>
<rect x="400.84" y="583.72" width="6.84" height="16.59" fill="#6061ad"/>
<rect x="407.28" y="583.72" width="6.84" height="16.59" fill="#6061ad"/>
<rect x="413.73" y="583.72" width="6.84" height="16.59" fill="#3738d1"/>
<rect x="420.17" y="583.72" width="6.84" height="16.59" fill="#3738d1"/>
<rect x="426.62" y="583.72" width="6.84" height="16.59" fill="#3738d1"/>
<rect x="433.06" y="583.72" width="6.84" height="16.59" fill="#3738d1"/>
<rect x="439.5" y="583.72" width="6.84" height="16.59" fill="#3738d1"/>
<rect x="445.95" y="583.72" width="6.84" height="16.59" fill="#6061ad"/>
<rect x="452.39" y="583.72" width="6.84" height="16.59" fill="#6061ad"/>
<rect x="458.84" y="583.72" width="6.84" height="16.59" fill="#3738d1"/>
<rect x="465.28" y="583.72" width="6.84" height="16.59" fill="#3738d1"/>
<rect x="471.72" y="583.72" width="6.84" height="16.59" fill="#6061ad"/>
<rect x="478.17" y="583.72" width="6.84" height="16.59" fill="#75769c"/>
<rect x="484.61" y="583.72" width="6.84" height="16.59" fill="#8a8a8a"/>
<rect x="491.06" y="583.72" width="6.84" height="16.59" fill="#6061ad"/>
<rect x="72.2" y="599.91" width="6.84" height="16.59" fill="#c93535"/>
<rect x="78.64" y="599.91" width="6.84" height="16.59" fill="#c93535"/>
<rect x="85.09" y="599.91" width="6.84" height="16.59" fill="#d82020"/>
<rect x="91.53" y="599.91" width="6.84" height="16.59" fill="#d82020"/>
<rect x="97.98" y="599.91" width="6.84" height="16.59" fill="#c93535"/>
<rect x="104.42" y="599.91" width="6.84" height="16.59" fill="#c93535"/>
<rect x="110.86" y="599.91" width="6.84" height="16.59" fill="#c93535"/>
<rect x="117.31" y="599.91" width="6.84" height="16.59" fill="#b94a4a"/>
<rect x="123.75" y="599.91" width="6.84" height="16.59" fill="#75769c"/>
<rect x="130.2" y="599.91" width="6.84" height="16.59" fill="#c93535"/>
<rect x="136.64" y="599.91" width="6.84" height="16.59" fill="#75769c"/>
<rect x="143.08" y="599.91" width="6.84" height="16.59" fill="#9a7575"/>
<rect x="149.53" y="599.91" width="6.84" height="16.59" fill="#c93535"/>
<rect x="155.97" y="599.91" width="6.84" height="16.59" fill="#c93535"/>
<rect x="162.42" y="599.91" width="6.84" height="16.59" fill="#c93535"/>
<rect x="168.86" y="599.91" width="6.84" height="16.59" fill="#b94a4a"/>
<rect x="175.3" y="599.91" width="6.84" height="16.59" fill="#c93535"/>
<rect x="181.75" y="599.91" width="6.84" height="16.59" fill="#c93535"/>
<rect x="188.19" y="599.91" width="6.84" height="16.59" fill="#c93535"/>
<rect x="194.63" y="599.91" width="6.84" height="16.59" fill="#c93535"/>
<rect x="201.08" y="599.91" width="6.84" height="16.59" fill="#c93535"/>
<rect x="207.52" y="599.91" width="6.84" height="16.59" fill="#c93535"/>
<rect x="213.97" y="599.91" width="6.84" height="16.59" fill="#c93535"/>
<rect x="220.41" y="599.91" width="6.84" height="16.59" fill="#c93535"/>
<rect x="226.85" y="599.91" width="6.84" height="16.59" fill="#c93535"/>
<rect x="233.3" y="599.91" width="6.84" height="16.59" fill="#c93535"/>
<rect x="239.74" y="599.91" width="6.84" height="16.59" fill="#9a7575"/>
<rect x="246.19" y="599.91" width="6.84" height="16.59" fill="#9a7575"/>
<rect x="252.63" y="599.91" width="6.84" height="16.59" fill="#9a7575"/>
<rect x="259.07" y="599.91" width="6.84" height="16.59" fill="#9a7575"/>
<rect x="265.52" y="599.91" width="6.84" height="16.59" fill="#9a7575"/>
<rect x="271.96" y="599.91" width="6.84" height="16.59" fill="#c93535"/>
<rect x="278.41" y="599.91" width="6.84" height="16.59" fill="#c93535"/>
<rect x="284.85" y="599.91" width="6.84" height="16.59" fill="#b94a4a"/>
<rect x="291.29" y="599.91" width="6.84" height="16.59" fill="#c93535"/>
<rect x="297.74" y="599.91" width="6.84" height="16.59" fill="#b94a4a"/>
<rect x="304.18" y="599.91" width="6.84" height="16.59" fill="#c93535"/>
<rect x="310.63" y="599.91" width="6.84" height="16.59" fill="#b94a4a"/>
<rect x="317.07" y="599.91" width="6.84" height="16.59" fill="#c93535"/>
<rect x="323.51" y="599.91" width="6.84" height="16.59" fill="#c93535"/>
<rect x="329.96" y="599.91" width="6.84" height="16.59" fill="#a96060"/>
<rect x="336.4" y="599.91" width="6.84" height="16.59" fill="#9a7575"/>
<rect x="342.85" y="599.91" width="6.84" height="16.59" fill="#75769c"/>
<rect x="349.29" y="599.91" width="6.84" height="16.59" fill="#6061ad"/>
<rect x="355.73" y="599.91" width="6.84" height="16.59" fill="#3738d1"/>
<rect x="362.18" y="599.91" width="6.84" height="16.59" fill="#3738d1"/>
<rect x="368.62" y="599.91" width="6.84" height="16.59" fill="#3738d1"/>
<rect x="375.07" y="599.91" width="6.84" height="16.59" fill="#3738d1"/>
<rect x="381.51" y="599.91" width="6.84" height="16.59" fill="#3738d1"/>
<rect x="387.95" y="599.91" width="6.84" height="16.59" fill="#6061ad"/>
<rect x="394.4" y="599.91" width="6.84" height="16.59" fill="#4c4dbf"/>
<rect x="400.84" y="599.91" width="6.84" height="16.59" fill="#4c4dbf"/>
<rect x="407.28" y="599.91" width="6.84" height="16.59" fill="#4c4dbf"/>
<rect x="413.73" y="599.91" width="6.84" height="16.59" fill="#4c4dbf"/>
<rect x="420.17" y="599.91" width="6.84" height="16.59" fill="#6061ad"/>
<rect x="426.62" y="599.91" width="6.84" height="16.59" fill="#6061ad"/>
<rect x="433.06" y="599.91" width="6.84" height="16.59" fill="#6061ad"/>
<rect x="439.5" y="599.91" width="6.84" height="16.59" fill="#3738d1"/>
<rect x="445.95" y="599.91" width="6.84" height="16.59" fill="#2022e4"/>
<rect x="452.39" y="599.91" width="6.84" height="16.59" fill="#6061ad"/>
<rect x="458.84" y="599.91" width="6.84" height="16.59" fill="#2224e2"/>
<rect x="465.28" y="599.91" width="6.84" height="16.59" fill="#3738d1"/>
<rect x="471.72" y="599.91" width="6.84" height="16.59" fill="#4c4dbf"/>
<rect x="478.17" y="599.91" width="6.84" height="16.59" fill="#6061ad"/>
<rect x="484.61" y="599.91" width="6.84" height="16.59" fill="#75769c"/>
<rect x="491.06" y="599.91" width="6.84" height="16.59" fill="#9a7575"/>
<rect x="72.2" y="616.11" width="6.84" height="16.59" fill="#da1e1e"/>
<rect x="78.64" y="616.11" width="6.84" height="16.59" fill="#da1e1e"/>
<rect x="85.09" y="616.11" width="6.84" height="16.59" fill="#c93535"/>
<rect x="91.53" y="616.11" width="6.84" height="16.59" fill="#a96060"/>
<rect x="97.98" y="616.11" width="6.84" height="16.59" fill="#c93535"/>
<rect x="104.42" y="616.11" width="6.84" height="16.59" fill="#d82020"/>
<rect x="110.86" y="616.11" width="6.84" height="16.59" fill="#d82020"/>
<rect x="117.31" y="616.11" width="6.84" height="16.59" fill="#c93535"/>
<rect x="123.75" y="616.11" width="6.84" height="16.59" fill="#c93535"/>
<rect x="130.2" y="616.11" width="6.84" height="16.59" fill="#a96060"/>
<rect x="136.64" y="616.11" width="6.84" height="16.59" fill="#75769c"/>
<rect x="143.08" y="616.11" width="6.84" height="16.59" fill="#b94a4a"/>
<rect x="149.53" y="616.11" width="6.84" height="16.59" fill="#b94a4a"/>
<rect x="155.97" y="616.11" width="6.84" height="16.59" fill="#b94a4a"/>
<rect x="162.42" y="616.11" width="6.84" height="16.59" fill="#a96060"/>
<rect x="168.86" y="616.11" width="6.84" height="16.59" fill="#9a7575"/>
<rect x="175.3" y="616.11" width="6.84" height="16.59" fill="#c93535"/>
<rect x="181.75" y="616.11" width="6.84" height="16.59" fill="#c93535"/>
<rect x="188.19" y="616.11" width="6.84" height="16.59" fill="#a96060"/>
<rect x="194.63" y="616.11" width="6.84" height="16.59" fill="#c93535"/>
<rect x="201.08" y="616.11" width="6.84" height="16.59" fill="#c93535"/>
<rect x="207.52" y="616.11" width="6.84" height="16.59" fill="#c93535"/>
<rect x="213.97" y="616.11" width="6.84" height="16.59" fill="#b94a4a"/>
<rect x="220.41" y="616.11" width="6.84" height="16.59" fill="#b94a4a"/>
<rect x="226.85" y="616.11" width="6.84" height="16.59" fill="#b94a4a"/>
<rect x="233.3" y="616.11" width="6.84" height="16.59" fill="#9a7575"/>
<rect x="239.74" y="616.11" width="6.84" height="16.59" fill="#9a7575"/>
<rect x="246.19" y="616.11" width="6.84" height="16.59" fill="#9a7575"/>
<rect x="252.63" y="616.11" width="6.84" height="16.59" fill="#9a7575"/>
<rect x="259.07" y="616.11" width="6.84" height="16.59" fill="#a96060"/>
<rect x="265.52" y="616.11" width="6.84" height="16.59" fill="#a96060"/>
<rect x="271.96" y="616.11" width="6.84" height="16.59" fill="#9a7575"/>
<rect x="278.41" y="616.11" width="6.84" height="16.59" fill="#c93535"/>
<rect x="284.85" y="616.11" width="6.84" height="16.59" fill="#b94a4a"/>
<rect x="291.29" y="616.11" width="6.84" height="16.59" fill="#b94a4a"/>
<rect x="297.74" y="616.11" width="6.84" height="16.59" fill="#a96060"/>
<rect x="304.18" y="616.11" width="6.84" height="16.59" fill="#a96060"/>
<rect x="310.63" y="616.11" width="6.84" height="16.59" fill="#a96060"/>
<rect x="317.07" y="616.11" width="6.84" height="16.59" fill="#9a7575"/>
<rect x="323.51" y="616.11" width="6.84" height="16.59" fill="#9a7575"/>
<rect x="329.96" y="616.11" width="6.84" height="16.59" fill="#a96060"/>
<rect x="336.4" y="616.11" width="6.84" height="16.59" fill="#9a7575"/>
<rect x="342.85" y="616.11" width="6.84" height="16.59" fill="#75769c"/>
<rect x="349.29" y="616.11" width="6.84" height="16.59" fill="#4c4dbf"/>
<rect x="355.73" y="616.11" width="6.84" height="16.59" fill="#4c4dbf"/>
<rect x="362.18" y="616.11" width="6.84" height="16.59" fill="#4c4dbf"/>
<rect x="368.62" y="616.11" width="6.84" height="16.59" fill="#3738d1"/>
<rect x="375.07" y="616.11" width="6.84" height="16.59" fill="#4c4dbf"/>
<rect x="381.51" y="616.11" width="6.84" height="16.59" fill="#4c4dbf"/>
<rect x="387.95" y="616.11" width="6.84" height="16.59" fill="#6061ad"/>
<rect x="394.4" y="616.11" width="6.84" height="16.59" fill="#6061ad"/>
<rect x="400.84" y="616.11" width="6.84" height="16.59" fill="#6061ad"/>
<rect x="407.28" y="616.11" width="6.84" height="16.59" fill="#6061ad"/>
<rect x="413.73" y="616.11" width="6.84" height="16.59" fill="#2224e2"/>
<rect x="420.17" y="616.11" width="6.84" height="16.59" fill="#6061ad"/>
<rect x="426.62" y="616.11" width="6.84" height="16.59" fill="#4c4dbf"/>
<rect x="433.06" y="616.11" width="6.84" height="16.59" fill="#4c4dbf"/>
<rect x="439.5" y="616.11" width="6.84" height="16.59" fill="#2022e4"/>
<rect x="445.95" y="616.11" width="6.84" height="16.59" fill="#4c4dbf"/>
<rect x="452.39" y="616.11" width="6.84" height="16.59" fill="#4c4dbf"/>
<rect x="458.84" y="616.11" width="6.84" height="16.59" fill="#4c4dbf"/>
<rect x="465.28" y="616.11" width="6.84" height="16.59" fill="#6061ad"/>
<rect x="471.72" y="616.11" width="6.84" height="16.59" fill="#6061ad"/>
<rect x="478.17" y="616.11" width="6.84" height="16.59" fill="#8a8a8a"/>
<rect x="484.61" y="616.11" width="6.84" height="16.59" fill="#9a7575"/>
<rect x="491.06" y="616.11" width="6.84" height="16.59" fill="#6061ad"/>
</g>
<text x="59.8" y="418.2" font-size="11.3" fill="#111">G</text><text x="59.8" y="434.39" font-size="11.3" fill="#111">E</text><text x="59.8" y="450.58" font-size="11.3" fill="#111">F</text><text x="59.8" y="466.78" font-size="11.3" fill="#111">D</text><text x="59.8" y="482.97" font-size="11.3" fill="#111">C</text><text x="59.8" y="499.16" font-size="11.3" fill="#111">B</text><text x="59.8" y="515.35" font-size="11.3" fill="#111">A</text><text x="59.8" y="531.55" font-size="11.3" fill="#111">G</text><text x="59.8" y="547.74" font-size="11.3" fill="#111">E</text><text x="59.8" y="563.93" font-size="11.3" fill="#111">F</text><text x="59.8" y="580.12" font-size="11.3" fill="#111">A</text><text x="59.8" y="596.32" font-size="11.3" fill="#111">D</text><text x="59.8" y="612.51" font-size="11.3" fill="#111">C</text><text x="59.8" y="628.7" font-size="11.3" fill="#111">B</text><path d="M54.7 409.6V451.3" stroke="#000" stroke-width="1.6"/><path d="M54.7 459.5V514.8" stroke="#000" stroke-width="1.6"/><path d="M54.7 522.3V563.4" stroke="#000" stroke-width="1.6"/><path d="M54.7 575V630.7" stroke="#000" stroke-width="1.6"/><text transform="translate(51.4 435.7) scale(1.05 1)" font-size="16.8" fill="#000" text-anchor="end">Mo</text><text transform="translate(0 491.4) scale(1.08 1)" font-size="16.8" fill="#000">CD14<tspan font-size="9.2" dy="-7">+</tspan></text><text transform="translate(51.6 548.1) scale(1.08 1)" font-size="16.8" fill="#000" text-anchor="end">Neu</text><text transform="translate(2.2 608.1) scale(1.08 1)" font-size="16.8" fill="#000">CD54<tspan font-size="9.2" dy="-7">-</tspan></text>
<text transform="translate(78.07 638.8) rotate(-90) scale(1 1.12)" font-size="6.6" font-weight="bold" fill="#1a1a1a" text-anchor="end">MMP8</text><text transform="translate(84.52 638.8) rotate(-90) scale(1 1.12)" font-size="6.6" font-weight="bold" fill="#1a1a1a" text-anchor="end">LTF</text><text transform="translate(90.96 638.8) rotate(-90) scale(1 1.12)" font-size="6.6" font-weight="bold" fill="#1a1a1a" text-anchor="end">DEFA4</text><text transform="translate(97.4 638.8) rotate(-90) scale(1 1.12)" font-size="6.6" font-weight="bold" fill="#1a1a1a" text-anchor="end">SIGLEC10</text><text transform="translate(103.85 638.8) rotate(-90) scale(1 1.12)" font-size="6.6" font-weight="bold" fill="#1a1a1a" text-anchor="end">SIGLEC5</text><text transform="translate(110.29 638.8) rotate(-90) scale(1 1.12)" font-size="6.6" font-weight="bold" fill="#1a1a1a" text-anchor="end">CR1</text><text transform="translate(116.74 638.8) rotate(-90) scale(1 1.12)" font-size="6.6" font-weight="bold" fill="#1a1a1a" text-anchor="end">IL4R</text><text transform="translate(123.18 638.8) rotate(-90) scale(1 1.12)" font-size="6.6" font-weight="bold" fill="#1a1a1a" text-anchor="end">CD82</text><text transform="translate(129.62 638.8) rotate(-90) scale(1 1.12)" font-size="6.6" font-weight="bold" fill="#1a1a1a" text-anchor="end">CD177</text><text transform="translate(136.07 638.8) rotate(-90) scale(1 1.12)" font-size="6.6" font-weight="bold" fill="#1a1a1a" text-anchor="end">CD24</text><text transform="translate(142.51 638.8) rotate(-90) scale(1 1.12)" font-size="6.6" font-weight="bold" fill="#1a1a1a" text-anchor="end">GFI1B</text><text transform="translate(148.96 638.8) rotate(-90) scale(1 1.12)" font-size="6.6" font-weight="bold" fill="#1a1a1a" text-anchor="end">CLEC18A</text><text transform="translate(155.4 638.8) rotate(-90) scale(1 1.12)" font-size="6.6" font-weight="bold" fill="#1a1a1a" text-anchor="end">MMP25</text><text transform="translate(161.84 638.8) rotate(-90) scale(1 1.12)" font-size="6.6" font-weight="bold" fill="#1a1a1a" text-anchor="end">IL1R2</text><text transform="translate(168.29 638.8) rotate(-90) scale(1 1.12)" font-size="6.6" font-weight="bold" fill="#1a1a1a" text-anchor="end">CXCR1</text><text transform="translate(174.73 638.8) rotate(-90) scale(1 1.12)" font-size="6.6" font-weight="bold" fill="#1a1a1a" text-anchor="end">TLR1</text><text transform="translate(181.18 638.8) rotate(-90) scale(1 1.12)" font-size="6.6" font-weight="bold" fill="#1a1a1a" text-anchor="end">S100P</text><text transform="translate(187.62 638.8) rotate(-90) scale(1 1.12)" font-size="6.6" font-weight="bold" fill="#1a1a1a" text-anchor="end">NFIL3</text><text transform="translate(194.06 638.8) rotate(-90) scale(1 1.12)" font-size="6.6" font-weight="bold" fill="#1a1a1a" text-anchor="end">IL18RAP</text><text transform="translate(200.51 638.8) rotate(-90) scale(1 1.12)" font-size="6.6" font-weight="bold" fill="#1a1a1a" text-anchor="end">DEFA1</text><text transform="translate(206.95 638.8) rotate(-90) scale(1 1.12)" font-size="6.6" font-weight="bold" fill="#1a1a1a" text-anchor="end">DEFA3</text><text transform="translate(213.39 638.8) rotate(-90) scale(1 1.12)" font-size="6.6" font-weight="bold" fill="#1a1a1a" text-anchor="end">SLPI</text><text transform="translate(219.84 638.8) rotate(-90) scale(1 1.12)" font-size="6.6" font-weight="bold" fill="#1a1a1a" text-anchor="end">ARG1</text><text transform="translate(226.28 638.8) rotate(-90) scale(1 1.12)" font-size="6.6" font-weight="bold" fill="#1a1a1a" text-anchor="end">IL18R1</text><text transform="translate(232.73 638.8) rotate(-90) scale(1 1.12)" font-size="6.6" font-weight="bold" fill="#1a1a1a" text-anchor="end">CXCR4</text><text transform="translate(239.17 638.8) rotate(-90) scale(1 1.12)" font-size="6.6" font-weight="bold" fill="#1a1a1a" text-anchor="end">TLR10</text><text transform="translate(245.61 638.8) rotate(-90) scale(1 1.12)" font-size="6.6" font-weight="bold" fill="#1a1a1a" text-anchor="end">CLEC18B</text><text transform="translate(252.06 638.8) rotate(-90) scale(1 1.12)" font-size="6.6" font-weight="bold" fill="#1a1a1a" text-anchor="end">IL5RA</text><text transform="translate(258.5 638.8) rotate(-90) scale(1 1.12)" font-size="6.6" font-weight="bold" fill="#1a1a1a" text-anchor="end">CXCR2</text><text transform="translate(264.95 638.8) rotate(-90) scale(1 1.12)" font-size="6.6" font-weight="bold" fill="#1a1a1a" text-anchor="end">IL16</text><text transform="translate(271.39 638.8) rotate(-90) scale(1 1.12)" font-size="6.6" font-weight="bold" fill="#1a1a1a" text-anchor="end">CCR3</text><text transform="translate(277.83 638.8) rotate(-90) scale(1 1.12)" font-size="6.6" font-weight="bold" fill="#1a1a1a" text-anchor="end">TLR6</text><text transform="translate(284.28 638.8) rotate(-90) scale(1 1.12)" font-size="6.6" font-weight="bold" fill="#1a1a1a" text-anchor="end">CD55</text><text transform="translate(290.72 638.8) rotate(-90) scale(1 1.12)" font-size="6.6" font-weight="bold" fill="#1a1a1a" text-anchor="end">ICAM3</text><text transform="translate(297.17 638.8) rotate(-90) scale(1 1.12)" font-size="6.6" font-weight="bold" fill="#1a1a1a" text-anchor="end">CD97</text><text transform="translate(303.61 638.8) rotate(-90) scale(1 1.12)" font-size="6.6" font-weight="bold" fill="#1a1a1a" text-anchor="end">CSF3R</text><text transform="translate(310.05 638.8) rotate(-90) scale(1 1.12)" font-size="6.6" font-weight="bold" fill="#1a1a1a" text-anchor="end">MNDA</text><text transform="translate(316.5 638.8) rotate(-90) scale(1 1.12)" font-size="6.6" font-weight="bold" fill="#1a1a1a" text-anchor="end">CD300A</text><text transform="translate(322.94 638.8) rotate(-90) scale(1 1.12)" font-size="6.6" font-weight="bold" fill="#1a1a1a" text-anchor="end">IL6R</text><text transform="translate(329.39 638.8) rotate(-90) scale(1 1.12)" font-size="6.6" font-weight="bold" fill="#1a1a1a" text-anchor="end">AIM2</text><text transform="translate(335.83 638.8) rotate(-90) scale(1 1.12)" font-size="6.6" font-weight="bold" fill="#1a1a1a" text-anchor="end">CLEC4C</text><text transform="translate(342.27 638.8) rotate(-90) scale(1 1.12)" font-size="6.6" font-weight="bold" fill="#1a1a1a" text-anchor="end">CD14</text><text transform="translate(348.72 638.8) rotate(-90) scale(1 1.12)" font-size="6.6" font-weight="bold" fill="#1a1a1a" text-anchor="end">JUN</text><text transform="translate(355.16 638.8) rotate(-90) scale(1 1.12)" font-size="6.6" font-weight="bold" fill="#1a1a1a" text-anchor="end">MAFB</text><text transform="translate(361.61 638.8) rotate(-90) scale(1 1.12)" font-size="6.6" font-weight="bold" fill="#1a1a1a" text-anchor="end">SMAD5</text><text transform="translate(368.05 638.8) rotate(-90) scale(1 1.12)" font-size="6.6" font-weight="bold" fill="#1a1a1a" text-anchor="end">M6PR</text><text transform="translate(374.49 638.8) rotate(-90) scale(1 1.12)" font-size="6.6" font-weight="bold" fill="#1a1a1a" text-anchor="end">CD180</text><text transform="translate(380.94 638.8) rotate(-90) scale(1 1.12)" font-size="6.6" font-weight="bold" fill="#1a1a1a" text-anchor="end">ENG</text><text transform="translate(387.38 638.8) rotate(-90) scale(1 1.12)" font-size="6.6" font-weight="bold" fill="#1a1a1a" text-anchor="end">HLA-DRA</text><text transform="translate(393.82 638.8) rotate(-90) scale(1 1.12)" font-size="6.6" font-weight="bold" fill="#1a1a1a" text-anchor="end">CD68</text><text transform="translate(400.27 638.8) rotate(-90) scale(1 1.12)" font-size="6.6" font-weight="bold" fill="#1a1a1a" text-anchor="end">CD52</text><text transform="translate(406.71 638.8) rotate(-90) scale(1 1.12)" font-size="6.6" font-weight="bold" fill="#1a1a1a" text-anchor="end">AHR</text><text transform="translate(413.16 638.8) rotate(-90) scale(1 1.12)" font-size="6.6" font-weight="bold" fill="#1a1a1a" text-anchor="end">CD36</text><text transform="translate(419.6 638.8) rotate(-90) scale(1 1.12)" font-size="6.6" font-weight="bold" fill="#1a1a1a" text-anchor="end">CIITA</text><text transform="translate(426.04 638.8) rotate(-90) scale(1 1.12)" font-size="6.6" font-weight="bold" fill="#1a1a1a" text-anchor="end">CD74</text><text transform="translate(432.49 638.8) rotate(-90) scale(1 1.12)" font-size="6.6" font-weight="bold" fill="#1a1a1a" text-anchor="end">CD4</text><text transform="translate(438.93 638.8) rotate(-90) scale(1 1.12)" font-size="6.6" font-weight="bold" fill="#1a1a1a" text-anchor="end">CD163</text><text transform="translate(445.38 638.8) rotate(-90) scale(1 1.12)" font-size="6.6" font-weight="bold" fill="#1a1a1a" text-anchor="end">CSF1R</text><text transform="translate(451.82 638.8) rotate(-90) scale(1 1.12)" font-size="6.6" font-weight="bold" fill="#1a1a1a" text-anchor="end">CCL5</text><text transform="translate(458.26 638.8) rotate(-90) scale(1 1.12)" font-size="6.6" font-weight="bold" fill="#1a1a1a" text-anchor="end">NFE2L1</text><text transform="translate(464.71 638.8) rotate(-90) scale(1 1.12)" font-size="6.6" font-weight="bold" fill="#1a1a1a" text-anchor="end">CD40</text><text transform="translate(471.15 638.8) rotate(-90) scale(1 1.12)" font-size="6.6" font-weight="bold" fill="#1a1a1a" text-anchor="end">CCL2</text><text transform="translate(477.6 638.8) rotate(-90) scale(1 1.12)" font-size="6.6" font-weight="bold" fill="#1a1a1a" text-anchor="end">MRC1</text><text transform="translate(484.04 638.8) rotate(-90) scale(1 1.12)" font-size="6.6" font-weight="bold" fill="#1a1a1a" text-anchor="end">EGR2</text><text transform="translate(490.48 638.8) rotate(-90) scale(1 1.12)" font-size="6.6" font-weight="bold" fill="#1a1a1a" text-anchor="end">CLEC5A</text><text transform="translate(496.93 638.8) rotate(-90) scale(1 1.12)" font-size="6.6" font-weight="bold" fill="#1a1a1a" text-anchor="end">IL18</text>
<rect x="72" y="677.3" width="425.5" height="5.1" fill="url(#cb)"/>
<text x="72.2" y="687" font-size="5" fill="#333">-2.45</text>
<text x="284.8" y="687" font-size="5" fill="#333" text-anchor="middle">0.00</text>
<text x="497.5" y="687" font-size="5" fill="#333" text-anchor="end">2.45</text>
</svg></body></html>
